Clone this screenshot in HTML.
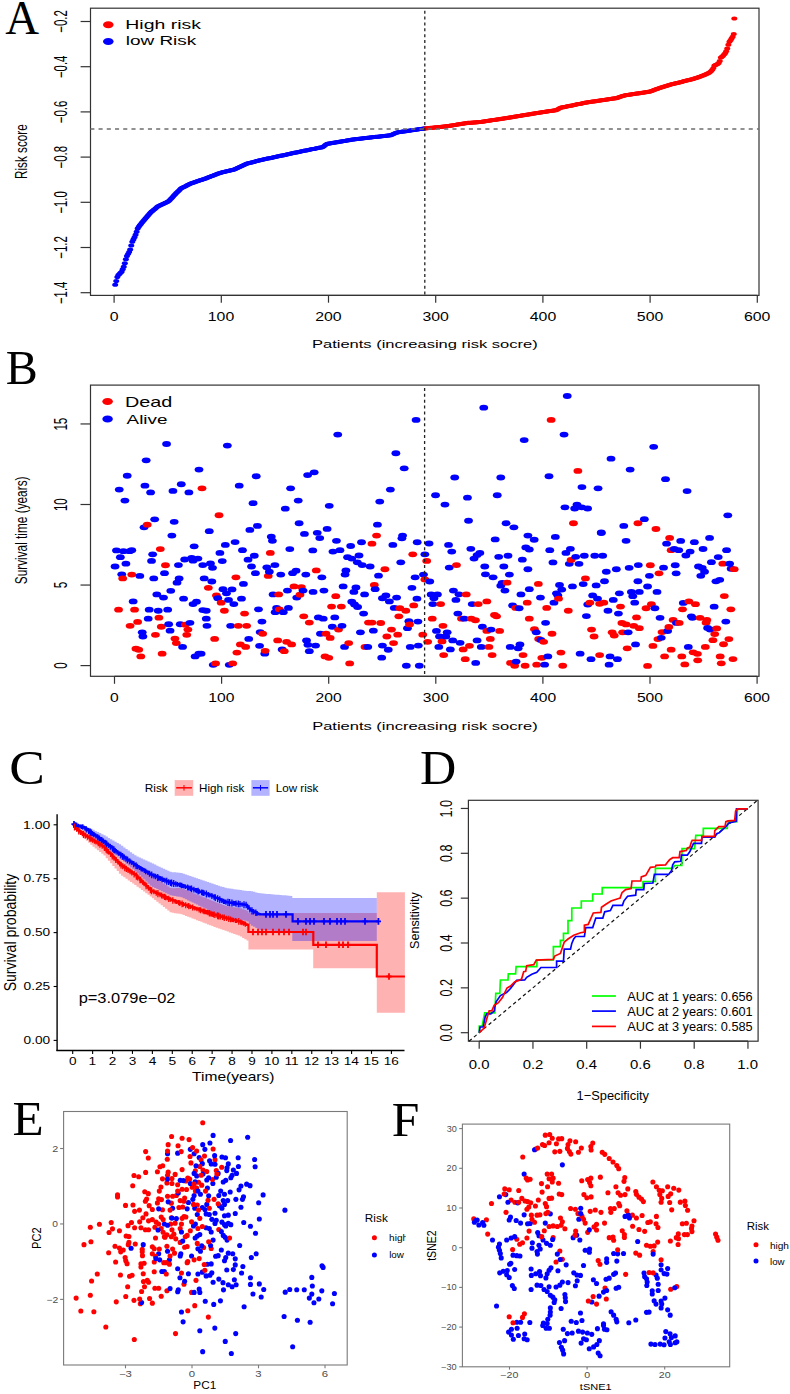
<!DOCTYPE html>
<html><head><meta charset="utf-8"><style>
html,body{margin:0;padding:0;background:#fff;}
svg{display:block;}
</style></head><body>
<svg width="790" height="1394" viewBox="0 0 790 1394">
<rect width="790" height="1394" fill="#fff"/>
<text transform="translate(5.23,34.4) scale(0.9715,1)" font-family="'Liberation Serif', serif" font-size="48.182" fill="#000">A</text>
<rect x="90.5" y="8.2" width="668.5" height="287.2" stroke="#333" stroke-width="1.2" fill="none"/>
<line x1="80.6" y1="21.5" x2="90.5" y2="21.5" stroke="#333" stroke-width="1.2"/>
<text transform="translate(66.7,32.82) rotate(-90) scale(0.6579,1)" font-family="'Liberation Sans', sans-serif" font-size="17.429" fill="#000">−0.2</text>
<line x1="80.6" y1="66.7" x2="90.5" y2="66.7" stroke="#333" stroke-width="1.2"/>
<text transform="translate(66.7,78.02) rotate(-90) scale(0.6510,1)" font-family="'Liberation Sans', sans-serif" font-size="17.429" fill="#000">−0.4</text>
<line x1="80.6" y1="111.9" x2="90.5" y2="111.9" stroke="#333" stroke-width="1.2"/>
<text transform="translate(66.7,123.22) rotate(-90) scale(0.6544,1)" font-family="'Liberation Sans', sans-serif" font-size="17.429" fill="#000">−0.6</text>
<line x1="80.6" y1="157.1" x2="90.5" y2="157.1" stroke="#333" stroke-width="1.2"/>
<text transform="translate(66.7,168.42) rotate(-90) scale(0.6544,1)" font-family="'Liberation Sans', sans-serif" font-size="17.429" fill="#000">−0.8</text>
<line x1="80.6" y1="202.3" x2="90.5" y2="202.3" stroke="#333" stroke-width="1.2"/>
<text transform="translate(66.7,213.62) rotate(-90) scale(0.6527,1)" font-family="'Liberation Sans', sans-serif" font-size="17.429" fill="#000">−1.0</text>
<line x1="80.6" y1="247.5" x2="90.5" y2="247.5" stroke="#333" stroke-width="1.2"/>
<text transform="translate(66.7,258.82) rotate(-90) scale(0.6579,1)" font-family="'Liberation Sans', sans-serif" font-size="17.429" fill="#000">−1.2</text>
<line x1="80.6" y1="292.7" x2="90.5" y2="292.7" stroke="#333" stroke-width="1.2"/>
<text transform="translate(66.7,304.02) rotate(-90) scale(0.6417,1)" font-family="'Liberation Sans', sans-serif" font-size="17.681" fill="#000">−1.4</text>
<line x1="114.1" y1="295.4" x2="757.3" y2="295.4" stroke="#333" stroke-width="1.2"/>
<line x1="114.1" y1="295.4" x2="114.1" y2="302.7" stroke="#333" stroke-width="1.2"/>
<text transform="translate(109.66,320.8) scale(1.2900,1)" font-family="'Liberation Sans', sans-serif" font-size="12.286" fill="#000">0</text>
<line x1="221.3" y1="295.4" x2="221.3" y2="302.7" stroke="#333" stroke-width="1.2"/>
<text transform="translate(207.79,320.8) scale(1.2900,1)" font-family="'Liberation Sans', sans-serif" font-size="12.286" fill="#000">100</text>
<line x1="328.5" y1="295.4" x2="328.5" y2="302.7" stroke="#333" stroke-width="1.2"/>
<text transform="translate(315.19,320.8) scale(1.2900,1)" font-family="'Liberation Sans', sans-serif" font-size="12.286" fill="#000">200</text>
<line x1="435.7" y1="295.4" x2="435.7" y2="302.7" stroke="#333" stroke-width="1.2"/>
<text transform="translate(422.47,320.8) scale(1.2900,1)" font-family="'Liberation Sans', sans-serif" font-size="12.286" fill="#000">300</text>
<line x1="542.9" y1="295.4" x2="542.9" y2="302.7" stroke="#333" stroke-width="1.2"/>
<text transform="translate(529.82,320.8) scale(1.2900,1)" font-family="'Liberation Sans', sans-serif" font-size="12.286" fill="#000">400</text>
<line x1="650.1" y1="295.4" x2="650.1" y2="302.7" stroke="#333" stroke-width="1.2"/>
<text transform="translate(636.87,320.8) scale(1.2900,1)" font-family="'Liberation Sans', sans-serif" font-size="12.286" fill="#000">500</text>
<line x1="757.3" y1="295.4" x2="757.3" y2="302.7" stroke="#333" stroke-width="1.2"/>
<text transform="translate(743.99,320.8) scale(1.2900,1)" font-family="'Liberation Sans', sans-serif" font-size="12.286" fill="#000">600</text>
<text transform="translate(311.98,348.1) scale(1.4090,1)" font-family="'Liberation Sans', sans-serif" font-size="11.724" fill="#000">Patients (increasing risk socre)</text>
<text transform="translate(27.3,178.94) rotate(-90) scale(0.6907,1)" font-family="'Liberation Sans', sans-serif" font-size="16.966" fill="#000">Risk score</text>
<ellipse cx="108.3" cy="24.7" rx="5.3" ry="3.5" fill="#FF0000"/>
<ellipse cx="108.3" cy="41.5" rx="5.3" ry="3.5" fill="#0000FF"/>
<text transform="translate(125.34,29.1) scale(1.5000,1)" font-family="'Liberation Sans', sans-serif" font-size="12.966" fill="#000">High risk</text>
<text transform="translate(125.67,45.4) scale(1.4193,1)" font-family="'Liberation Sans', sans-serif" font-size="13.379" fill="#000">low Risk</text>
<text transform="translate(5.66,383.5) scale(0.9787,1)" font-family="'Liberation Serif', serif" font-size="49.008" fill="#000">B</text>
<rect x="90.5" y="385.1" width="668.5" height="291.2" stroke="#333" stroke-width="1.2" fill="none"/>
<line x1="80.5" y1="665.6" x2="90.5" y2="665.6" stroke="#333" stroke-width="1.2"/>
<text transform="translate(67.3,668.8) rotate(-90) scale(0.6300,1)" font-family="'Liberation Sans', sans-serif" font-size="18.143" fill="#000">0</text>
<line x1="80.5" y1="585.05" x2="90.5" y2="585.05" stroke="#333" stroke-width="1.2"/>
<text transform="translate(67.3,588.27) rotate(-90) scale(0.6300,1)" font-family="'Liberation Sans', sans-serif" font-size="18.406" fill="#000">5</text>
<line x1="80.5" y1="504.5" x2="90.5" y2="504.5" stroke="#333" stroke-width="1.2"/>
<text transform="translate(67.3,511.07) rotate(-90) scale(0.6300,1)" font-family="'Liberation Sans', sans-serif" font-size="18.143" fill="#000">10</text>
<line x1="80.5" y1="423.95" x2="90.5" y2="423.95" stroke="#333" stroke-width="1.2"/>
<text transform="translate(67.3,430.59) rotate(-90) scale(0.6300,1)" font-family="'Liberation Sans', sans-serif" font-size="18.406" fill="#000">15</text>
<line x1="114.5" y1="676.3" x2="757.1" y2="676.3" stroke="#333" stroke-width="1.2"/>
<line x1="114.5" y1="676.3" x2="114.5" y2="683.8" stroke="#333" stroke-width="1.2"/>
<text transform="translate(110.11,702.4) scale(1.2900,1)" font-family="'Liberation Sans', sans-serif" font-size="12.143" fill="#000">0</text>
<line x1="221.6" y1="676.3" x2="221.6" y2="683.8" stroke="#333" stroke-width="1.2"/>
<text transform="translate(208.25,702.4) scale(1.2900,1)" font-family="'Liberation Sans', sans-serif" font-size="12.143" fill="#000">100</text>
<line x1="328.7" y1="676.3" x2="328.7" y2="683.8" stroke="#333" stroke-width="1.2"/>
<text transform="translate(315.54,702.4) scale(1.2900,1)" font-family="'Liberation Sans', sans-serif" font-size="12.143" fill="#000">200</text>
<line x1="435.8" y1="676.3" x2="435.8" y2="683.8" stroke="#333" stroke-width="1.2"/>
<text transform="translate(422.72,702.4) scale(1.2900,1)" font-family="'Liberation Sans', sans-serif" font-size="12.143" fill="#000">300</text>
<line x1="542.9" y1="676.3" x2="542.9" y2="683.8" stroke="#333" stroke-width="1.2"/>
<text transform="translate(529.98,702.4) scale(1.2900,1)" font-family="'Liberation Sans', sans-serif" font-size="12.143" fill="#000">400</text>
<line x1="650" y1="676.3" x2="650" y2="683.8" stroke="#333" stroke-width="1.2"/>
<text transform="translate(636.92,702.4) scale(1.2900,1)" font-family="'Liberation Sans', sans-serif" font-size="12.143" fill="#000">500</text>
<line x1="757.1" y1="676.3" x2="757.1" y2="683.8" stroke="#333" stroke-width="1.2"/>
<text transform="translate(743.94,702.4) scale(1.2900,1)" font-family="'Liberation Sans', sans-serif" font-size="12.143" fill="#000">600</text>
<text transform="translate(312.18,730) scale(1.4245,1)" font-family="'Liberation Sans', sans-serif" font-size="11.586" fill="#000">Patients (increasing risk socre)</text>
<text transform="translate(27.04,584.23) rotate(-90) scale(0.7181,1)" font-family="'Liberation Sans', sans-serif" font-size="16.471" fill="#000">Survival time (years)</text>
<ellipse cx="107.6" cy="401.5" rx="5.3" ry="3.5" fill="#FF0000"/>
<ellipse cx="107.6" cy="419" rx="5.3" ry="3.5" fill="#0000FF"/>
<text transform="translate(125.01,407.1) scale(1.4229,1)" font-family="'Liberation Sans', sans-serif" font-size="13.931" fill="#000">Dead</text>
<text transform="translate(126.6,423.5) scale(1.4249,1)" font-family="'Liberation Sans', sans-serif" font-size="13.241" fill="#000">Alive</text>
<text transform="translate(9.27,783.5) scale(1.0966,1)" font-family="'Liberation Serif', serif" font-size="48.636" fill="#000">C</text>
<text transform="translate(144.65,791.5) scale(1.1355,1)" font-family="'Liberation Sans', sans-serif" font-size="10.483" fill="#000">Risk</text>
<rect x="174.7" y="780.1" width="18.5" height="15.7" stroke="none" stroke-width="0" fill="#FFB3B3"/>
<line x1="176.2" y1="787.8" x2="191.9" y2="787.8" stroke="#FF0000" stroke-width="1.5"/>
<line x1="184" y1="785" x2="184" y2="790.6" stroke="#FF0000" stroke-width="1"/>
<text transform="translate(199.07,791.5) scale(1.1092,1)" font-family="'Liberation Sans', sans-serif" font-size="10.483" fill="#000">High risk</text>
<rect x="251.4" y="780.1" width="18.2" height="15.7" stroke="none" stroke-width="0" fill="#B3B3FF"/>
<line x1="252.9" y1="787.8" x2="268.1" y2="787.8" stroke="#0000FF" stroke-width="1.5"/>
<line x1="260.5" y1="785" x2="260.5" y2="790.6" stroke="#0000FF" stroke-width="1"/>
<text transform="translate(275.77,791.5) scale(1.1107,1)" font-family="'Liberation Sans', sans-serif" font-size="10.483" fill="#000">Low risk</text>
<line x1="57.1" y1="814.2" x2="57.1" y2="1051.1" stroke="#000" stroke-width="1.4"/>
<line x1="56.4" y1="1050.5" x2="404.5" y2="1050.5" stroke="#000" stroke-width="1.4"/>
<line x1="53.6" y1="824.8" x2="57" y2="824.8" stroke="#000" stroke-width="1.1"/>
<text transform="translate(23.05,828.59) scale(1.2699,1)" font-family="'Liberation Sans', sans-serif" font-size="10.986" fill="#000">1.00</text>
<line x1="53.6" y1="878.7" x2="57" y2="878.7" stroke="#000" stroke-width="1.1"/>
<text transform="translate(23.55,882.49) scale(1.2495,1)" font-family="'Liberation Sans', sans-serif" font-size="10.986" fill="#000">0.75</text>
<line x1="53.6" y1="932.6" x2="57" y2="932.6" stroke="#000" stroke-width="1.1"/>
<text transform="translate(23.55,936.39) scale(1.2461,1)" font-family="'Liberation Sans', sans-serif" font-size="10.986" fill="#000">0.50</text>
<line x1="53.6" y1="986.5" x2="57" y2="986.5" stroke="#000" stroke-width="1.1"/>
<text transform="translate(23.55,990.29) scale(1.2495,1)" font-family="'Liberation Sans', sans-serif" font-size="10.986" fill="#000">0.25</text>
<line x1="53.6" y1="1040.4" x2="57" y2="1040.4" stroke="#000" stroke-width="1.1"/>
<text transform="translate(23.55,1044.19) scale(1.2461,1)" font-family="'Liberation Sans', sans-serif" font-size="10.986" fill="#000">0.00</text>
<line x1="72.7" y1="1050.4" x2="72.7" y2="1053.9" stroke="#000" stroke-width="1.1"/>
<text transform="translate(68.9,1065.1) scale(1.2500,1)" font-family="'Liberation Sans', sans-serif" font-size="10.857" fill="#000">0</text>
<line x1="92.62" y1="1050.4" x2="92.62" y2="1053.9" stroke="#000" stroke-width="1.1"/>
<text transform="translate(88.59,1065.1) scale(1.2500,1)" font-family="'Liberation Sans', sans-serif" font-size="11.014" fill="#000">1</text>
<line x1="112.54" y1="1050.4" x2="112.54" y2="1053.9" stroke="#000" stroke-width="1.1"/>
<text transform="translate(108.77,1065.1) scale(1.2500,1)" font-family="'Liberation Sans', sans-serif" font-size="10.857" fill="#000">2</text>
<line x1="132.46" y1="1050.4" x2="132.46" y2="1053.9" stroke="#000" stroke-width="1.1"/>
<text transform="translate(128.69,1065.1) scale(1.2500,1)" font-family="'Liberation Sans', sans-serif" font-size="10.857" fill="#000">3</text>
<line x1="152.38" y1="1050.4" x2="152.38" y2="1053.9" stroke="#000" stroke-width="1.1"/>
<text transform="translate(148.63,1065.1) scale(1.2500,1)" font-family="'Liberation Sans', sans-serif" font-size="11.014" fill="#000">4</text>
<line x1="172.3" y1="1050.4" x2="172.3" y2="1053.9" stroke="#000" stroke-width="1.1"/>
<text transform="translate(168.48,1065.1) scale(1.2500,1)" font-family="'Liberation Sans', sans-serif" font-size="11.014" fill="#000">5</text>
<line x1="192.22" y1="1050.4" x2="192.22" y2="1053.9" stroke="#000" stroke-width="1.1"/>
<text transform="translate(188.39,1065.1) scale(1.2500,1)" font-family="'Liberation Sans', sans-serif" font-size="10.857" fill="#000">6</text>
<line x1="212.14" y1="1050.4" x2="212.14" y2="1053.9" stroke="#000" stroke-width="1.1"/>
<text transform="translate(208.32,1065.1) scale(1.2500,1)" font-family="'Liberation Sans', sans-serif" font-size="11.014" fill="#000">7</text>
<line x1="232.06" y1="1050.4" x2="232.06" y2="1053.9" stroke="#000" stroke-width="1.1"/>
<text transform="translate(228.26,1065.1) scale(1.2500,1)" font-family="'Liberation Sans', sans-serif" font-size="10.857" fill="#000">8</text>
<line x1="251.98" y1="1050.4" x2="251.98" y2="1053.9" stroke="#000" stroke-width="1.1"/>
<text transform="translate(248.21,1065.1) scale(1.2500,1)" font-family="'Liberation Sans', sans-serif" font-size="10.857" fill="#000">9</text>
<line x1="271.9" y1="1050.4" x2="271.9" y2="1053.9" stroke="#000" stroke-width="1.1"/>
<text transform="translate(264.1,1065.1) scale(1.2500,1)" font-family="'Liberation Sans', sans-serif" font-size="10.857" fill="#000">10</text>
<line x1="291.82" y1="1050.4" x2="291.82" y2="1053.9" stroke="#000" stroke-width="1.1"/>
<text transform="translate(284.49,1065.1) scale(1.2500,1)" font-family="'Liberation Sans', sans-serif" font-size="11.014" fill="#000">11</text>
<line x1="311.74" y1="1050.4" x2="311.74" y2="1053.9" stroke="#000" stroke-width="1.1"/>
<text transform="translate(304.04,1065.1) scale(1.2500,1)" font-family="'Liberation Sans', sans-serif" font-size="10.857" fill="#000">12</text>
<line x1="331.66" y1="1050.4" x2="331.66" y2="1053.9" stroke="#000" stroke-width="1.1"/>
<text transform="translate(323.89,1065.1) scale(1.2500,1)" font-family="'Liberation Sans', sans-serif" font-size="10.857" fill="#000">13</text>
<line x1="351.58" y1="1050.4" x2="351.58" y2="1053.9" stroke="#000" stroke-width="1.1"/>
<text transform="translate(343.63,1065.1) scale(1.2500,1)" font-family="'Liberation Sans', sans-serif" font-size="11.014" fill="#000">14</text>
<line x1="371.5" y1="1050.4" x2="371.5" y2="1053.9" stroke="#000" stroke-width="1.1"/>
<text transform="translate(363.62,1065.1) scale(1.2500,1)" font-family="'Liberation Sans', sans-serif" font-size="11.014" fill="#000">15</text>
<line x1="391.42" y1="1050.4" x2="391.42" y2="1053.9" stroke="#000" stroke-width="1.1"/>
<text transform="translate(383.65,1065.1) scale(1.2500,1)" font-family="'Liberation Sans', sans-serif" font-size="10.857" fill="#000">16</text>
<text transform="translate(192.09,1081) scale(1.1638,1)" font-family="'Liberation Sans', sans-serif" font-size="13.379" fill="#000">Time(years)</text>
<text transform="translate(16.21,991.33) rotate(-90) scale(0.8684,1)" font-family="'Liberation Sans', sans-serif" font-size="16.150" fill="#000">Survival probability</text>
<text transform="translate(78.63,1002.5) scale(1.1391,1)" font-family="'Liberation Sans', sans-serif" font-size="14.429" fill="#000">p=3.079e−02</text>
<text transform="translate(419.99,783.5) scale(1.0511,1)" font-family="'Liberation Serif', serif" font-size="47.786" fill="#000">D</text>
<rect x="468.4" y="800.3" width="289.7" height="240.9" stroke="#333" stroke-width="1.2" fill="none"/>
<line x1="460.8" y1="1032.7" x2="468.4" y2="1032.7" stroke="#333" stroke-width="1.2"/>
<text transform="translate(451.9,1041.4) rotate(-90) scale(0.7658,1)" font-family="'Liberation Sans', sans-serif" font-size="16.286" fill="#000">0.0</text>
<line x1="460.8" y1="987.85" x2="468.4" y2="987.85" stroke="#333" stroke-width="1.2"/>
<text transform="translate(451.9,996.55) rotate(-90) scale(0.7746,1)" font-family="'Liberation Sans', sans-serif" font-size="16.286" fill="#000">0.2</text>
<line x1="460.8" y1="943" x2="468.4" y2="943" stroke="#333" stroke-width="1.2"/>
<text transform="translate(451.9,951.7) rotate(-90) scale(0.7629,1)" font-family="'Liberation Sans', sans-serif" font-size="16.286" fill="#000">0.4</text>
<line x1="460.8" y1="898.15" x2="468.4" y2="898.15" stroke="#333" stroke-width="1.2"/>
<text transform="translate(451.9,906.85) rotate(-90) scale(0.7687,1)" font-family="'Liberation Sans', sans-serif" font-size="16.286" fill="#000">0.6</text>
<line x1="460.8" y1="853.3" x2="468.4" y2="853.3" stroke="#333" stroke-width="1.2"/>
<text transform="translate(451.9,862) rotate(-90) scale(0.7687,1)" font-family="'Liberation Sans', sans-serif" font-size="16.286" fill="#000">0.8</text>
<line x1="460.8" y1="808.45" x2="468.4" y2="808.45" stroke="#333" stroke-width="1.2"/>
<text transform="translate(451.9,817.61) rotate(-90) scale(0.7867,1)" font-family="'Liberation Sans', sans-serif" font-size="16.286" fill="#000">1.0</text>
<line x1="479.2" y1="1041.2" x2="748" y2="1041.2" stroke="#333" stroke-width="1.2"/>
<line x1="479.2" y1="1041.2" x2="479.2" y2="1048.7" stroke="#333" stroke-width="1.2"/>
<text transform="translate(468.8,1069) scale(1.2000,1)" font-family="'Liberation Sans', sans-serif" font-size="12.429" fill="#000">0.0</text>
<line x1="532.95" y1="1041.2" x2="532.95" y2="1048.7" stroke="#333" stroke-width="1.2"/>
<text transform="translate(522.66,1069) scale(1.2000,1)" font-family="'Liberation Sans', sans-serif" font-size="12.429" fill="#000">0.2</text>
<line x1="586.7" y1="1041.2" x2="586.7" y2="1048.7" stroke="#333" stroke-width="1.2"/>
<text transform="translate(576.26,1069) scale(1.2000,1)" font-family="'Liberation Sans', sans-serif" font-size="12.429" fill="#000">0.4</text>
<line x1="640.45" y1="1041.2" x2="640.45" y2="1048.7" stroke="#333" stroke-width="1.2"/>
<text transform="translate(630.08,1069) scale(1.2000,1)" font-family="'Liberation Sans', sans-serif" font-size="12.429" fill="#000">0.6</text>
<line x1="694.2" y1="1041.2" x2="694.2" y2="1048.7" stroke="#333" stroke-width="1.2"/>
<text transform="translate(683.83,1069) scale(1.2000,1)" font-family="'Liberation Sans', sans-serif" font-size="12.429" fill="#000">0.8</text>
<line x1="747.95" y1="1041.2" x2="747.95" y2="1048.7" stroke="#333" stroke-width="1.2"/>
<text transform="translate(737.29,1069) scale(1.2000,1)" font-family="'Liberation Sans', sans-serif" font-size="12.429" fill="#000">1.0</text>
<text transform="translate(576.54,1099.7) scale(1.0016,1)" font-family="'Liberation Sans', sans-serif" font-size="12.828" fill="#000">1−Specificity</text>
<text transform="translate(418.83,948.97) rotate(-90) scale(0.9912,1)" font-family="'Liberation Sans', sans-serif" font-size="12.727" fill="#000">Sensitivity</text>
<text transform="translate(12.47,1135.4) scale(1.0433,1)" font-family="'Liberation Serif', serif" font-size="49.008" fill="#000">E</text>
<rect x="63.6" y="1111.5" width="283.6" height="253.5" stroke="#7a7a7a" stroke-width="1.1" fill="none"/>
<line x1="60.1" y1="1148.51" x2="63.6" y2="1148.51" stroke="#7a7a7a" stroke-width="1.1"/>
<text transform="translate(52.16,1151.81) scale(1.1966,1)" font-family="'Liberation Sans', sans-serif" font-size="9.000" fill="#4d4d4d">2</text>
<line x1="60.1" y1="1223.95" x2="63.6" y2="1223.95" stroke="#7a7a7a" stroke-width="1.1"/>
<text transform="translate(52.29,1227.16) scale(1.1505,1)" font-family="'Liberation Sans', sans-serif" font-size="8.873" fill="#4d4d4d">0</text>
<line x1="60.1" y1="1299.39" x2="63.6" y2="1299.39" stroke="#7a7a7a" stroke-width="1.1"/>
<text transform="translate(46.39,1302.69) scale(1.1432,1)" font-family="'Liberation Sans', sans-serif" font-size="9.000" fill="#4d4d4d">−2</text>
<line x1="125.49" y1="1365" x2="125.49" y2="1368.3" stroke="#7a7a7a" stroke-width="1.1"/>
<text transform="translate(118.96,1376.71) scale(1.3000,1)" font-family="'Liberation Sans', sans-serif" font-size="8.732" fill="#4d4d4d">−3</text>
<line x1="192" y1="1365" x2="192" y2="1368.3" stroke="#7a7a7a" stroke-width="1.1"/>
<text transform="translate(188.82,1376.71) scale(1.3000,1)" font-family="'Liberation Sans', sans-serif" font-size="8.732" fill="#4d4d4d">0</text>
<line x1="258.51" y1="1365" x2="258.51" y2="1368.3" stroke="#7a7a7a" stroke-width="1.1"/>
<text transform="translate(255.36,1376.71) scale(1.3000,1)" font-family="'Liberation Sans', sans-serif" font-size="8.732" fill="#4d4d4d">3</text>
<line x1="325.02" y1="1365" x2="325.02" y2="1368.3" stroke="#7a7a7a" stroke-width="1.1"/>
<text transform="translate(321.81,1376.71) scale(1.3000,1)" font-family="'Liberation Sans', sans-serif" font-size="8.732" fill="#4d4d4d">6</text>
<text transform="translate(193.35,1389.4) scale(1.0881,1)" font-family="'Liberation Sans', sans-serif" font-size="10.857" fill="#000">PC1</text>
<text transform="translate(41.4,1248.89) rotate(-90) scale(0.8426,1)" font-family="'Liberation Sans', sans-serif" font-size="13.143" fill="#000">PC2</text>
<text transform="translate(364.86,1222.1) scale(1.1557,1)" font-family="'Liberation Sans', sans-serif" font-size="10.207" fill="#000">Risk</text>
<clipPath id="clipE"><rect x="0" y="1100" width="405.7" height="300"/></clipPath>
<g clip-path="url(#clipE)"><text transform="translate(389.09,1240.7) scale(1.0753,1)" font-family="'Liberation Sans', sans-serif" font-size="9.379" fill="#000">high</text></g>
<text transform="translate(389.16,1257.9) scale(1.1348,1)" font-family="'Liberation Sans', sans-serif" font-size="8.690" fill="#000">low</text>
<circle cx="374.4" cy="1237.7" r="2.5" fill="#FF0000"/>
<circle cx="374.4" cy="1254.9" r="2.5" fill="#0000FF"/>
<text transform="translate(391.71,1135.5) scale(1.0279,1)" font-family="'Liberation Serif', serif" font-size="48.244" fill="#000">F</text>
<rect x="462.4" y="1124.1" width="267.3" height="242.7" stroke="#7a7a7a" stroke-width="1.1" fill="none"/>
<line x1="459.2" y1="1128.6" x2="462.4" y2="1128.6" stroke="#7a7a7a" stroke-width="1.1"/>
<text transform="translate(446.64,1131.52) scale(1.1118,1)" font-family="'Liberation Sans', sans-serif" font-size="8.169" fill="#4d4d4d">30</text>
<line x1="459.2" y1="1168.3" x2="462.4" y2="1168.3" stroke="#7a7a7a" stroke-width="1.1"/>
<text transform="translate(446.54,1171.22) scale(1.1226,1)" font-family="'Liberation Sans', sans-serif" font-size="8.169" fill="#4d4d4d">20</text>
<line x1="459.2" y1="1208" x2="462.4" y2="1208" stroke="#7a7a7a" stroke-width="1.1"/>
<text transform="translate(446.3,1210.92) scale(1.1507,1)" font-family="'Liberation Sans', sans-serif" font-size="8.169" fill="#4d4d4d">10</text>
<line x1="459.2" y1="1247.7" x2="462.4" y2="1247.7" stroke="#7a7a7a" stroke-width="1.1"/>
<text transform="translate(451.63,1250.62) scale(1.1221,1)" font-family="'Liberation Sans', sans-serif" font-size="8.169" fill="#4d4d4d">0</text>
<line x1="459.2" y1="1287.4" x2="462.4" y2="1287.4" stroke="#7a7a7a" stroke-width="1.1"/>
<text transform="translate(441.14,1290.32) scale(1.1253,1)" font-family="'Liberation Sans', sans-serif" font-size="8.169" fill="#4d4d4d">−10</text>
<line x1="459.2" y1="1327.1" x2="462.4" y2="1327.1" stroke="#7a7a7a" stroke-width="1.1"/>
<text transform="translate(441.14,1330.02) scale(1.1253,1)" font-family="'Liberation Sans', sans-serif" font-size="8.169" fill="#4d4d4d">−20</text>
<line x1="459.2" y1="1366.8" x2="462.4" y2="1366.8" stroke="#7a7a7a" stroke-width="1.1"/>
<text transform="translate(441.14,1369.72) scale(1.1253,1)" font-family="'Liberation Sans', sans-serif" font-size="8.169" fill="#4d4d4d">−30</text>
<line x1="509.5" y1="1366.8" x2="509.5" y2="1369.6" stroke="#7a7a7a" stroke-width="1.1"/>
<text transform="translate(500.42,1377.92) scale(1.3000,1)" font-family="'Liberation Sans', sans-serif" font-size="8.169" fill="#4d4d4d">−20</text>
<line x1="587.1" y1="1366.8" x2="587.1" y2="1369.6" stroke="#7a7a7a" stroke-width="1.1"/>
<text transform="translate(584.13,1377.92) scale(1.3000,1)" font-family="'Liberation Sans', sans-serif" font-size="8.169" fill="#4d4d4d">0</text>
<line x1="664.7" y1="1366.8" x2="664.7" y2="1369.6" stroke="#7a7a7a" stroke-width="1.1"/>
<text transform="translate(658.73,1377.92) scale(1.3000,1)" font-family="'Liberation Sans', sans-serif" font-size="8.169" fill="#4d4d4d">20</text>
<text transform="translate(579.84,1389.9) scale(1.1149,1)" font-family="'Liberation Sans', sans-serif" font-size="9.857" fill="#000">tSNE1</text>
<text transform="translate(436.2,1260.86) rotate(-90) scale(0.8615,1)" font-family="'Liberation Sans', sans-serif" font-size="12.286" fill="#000">tSNE2</text>
<text transform="translate(746.69,1230.2) scale(1.1040,1)" font-family="'Liberation Sans', sans-serif" font-size="10.345" fill="#000">Risk</text>
<text transform="translate(769.89,1248.5) scale(1.0913,1)" font-family="'Liberation Sans', sans-serif" font-size="9.241" fill="#000">high</text>
<text transform="translate(769.97,1264.6) scale(1.0680,1)" font-family="'Liberation Sans', sans-serif" font-size="9.103" fill="#000">low</text>
<circle cx="756" cy="1244.8" r="2.5" fill="#FF0000"/>
<circle cx="756" cy="1261" r="2.5" fill="#0000FF"/>
<ellipse cx="115.17" cy="284.63" rx="3.0" ry="2.0" fill="#0000FF"/>
<ellipse cx="116.24" cy="280.88" rx="3.0" ry="2.0" fill="#0000FF"/>
<ellipse cx="117.32" cy="277.07" rx="3.0" ry="2.0" fill="#0000FF"/>
<ellipse cx="118.39" cy="275.01" rx="3.0" ry="2.0" fill="#0000FF"/>
<ellipse cx="119.46" cy="273.94" rx="3.0" ry="2.0" fill="#0000FF"/>
<ellipse cx="120.53" cy="272.87" rx="3.0" ry="2.0" fill="#0000FF"/>
<ellipse cx="121.6" cy="271.67" rx="3.0" ry="2.0" fill="#0000FF"/>
<ellipse cx="122.68" cy="269.27" rx="3.0" ry="2.0" fill="#0000FF"/>
<ellipse cx="123.75" cy="266.86" rx="3.0" ry="2.0" fill="#0000FF"/>
<ellipse cx="124.82" cy="263.27" rx="3.0" ry="2.0" fill="#0000FF"/>
<ellipse cx="125.89" cy="259.31" rx="3.0" ry="2.0" fill="#0000FF"/>
<ellipse cx="126.96" cy="256.01" rx="3.0" ry="2.0" fill="#0000FF"/>
<ellipse cx="128.04" cy="253.96" rx="3.0" ry="2.0" fill="#0000FF"/>
<ellipse cx="129.11" cy="251.91" rx="3.0" ry="2.0" fill="#0000FF"/>
<ellipse cx="130.18" cy="249.4" rx="3.0" ry="2.0" fill="#0000FF"/>
<ellipse cx="131.25" cy="245.59" rx="3.0" ry="2.0" fill="#0000FF"/>
<ellipse cx="132.32" cy="241.77" rx="3.0" ry="2.0" fill="#0000FF"/>
<ellipse cx="133.4" cy="239.41" rx="3.0" ry="2.0" fill="#0000FF"/>
<ellipse cx="134.47" cy="237.16" rx="3.0" ry="2.0" fill="#0000FF"/>
<ellipse cx="135.54" cy="234.79" rx="3.0" ry="2.0" fill="#0000FF"/>
<ellipse cx="136.61" cy="231.66" rx="3.0" ry="2.0" fill="#0000FF"/>
<ellipse cx="137.68" cy="228.52" rx="3.0" ry="2.0" fill="#0000FF"/>
<ellipse cx="138.76" cy="226.65" rx="3.0" ry="2.0" fill="#0000FF"/>
<ellipse cx="139.83" cy="225.3" rx="3.0" ry="2.0" fill="#0000FF"/>
<ellipse cx="140.9" cy="223.95" rx="3.0" ry="2.0" fill="#0000FF"/>
<ellipse cx="141.97" cy="222.6" rx="3.0" ry="2.0" fill="#0000FF"/>
<ellipse cx="143.04" cy="221.25" rx="3.0" ry="2.0" fill="#0000FF"/>
<ellipse cx="144.12" cy="219.99" rx="3.0" ry="2.0" fill="#0000FF"/>
<ellipse cx="145.19" cy="218.74" rx="3.0" ry="2.0" fill="#0000FF"/>
<ellipse cx="146.26" cy="217.48" rx="3.0" ry="2.0" fill="#0000FF"/>
<ellipse cx="147.33" cy="216.23" rx="3.0" ry="2.0" fill="#0000FF"/>
<ellipse cx="148.4" cy="214.97" rx="3.0" ry="2.0" fill="#0000FF"/>
<ellipse cx="149.48" cy="213.72" rx="3.0" ry="2.0" fill="#0000FF"/>
<ellipse cx="150.55" cy="212.46" rx="3.0" ry="2.0" fill="#0000FF"/>
<ellipse cx="151.62" cy="211.55" rx="3.0" ry="2.0" fill="#0000FF"/>
<ellipse cx="152.69" cy="210.67" rx="3.0" ry="2.0" fill="#0000FF"/>
<ellipse cx="153.76" cy="209.78" rx="3.0" ry="2.0" fill="#0000FF"/>
<ellipse cx="154.84" cy="208.89" rx="3.0" ry="2.0" fill="#0000FF"/>
<ellipse cx="155.91" cy="208" rx="3.0" ry="2.0" fill="#0000FF"/>
<ellipse cx="156.98" cy="207.11" rx="3.0" ry="2.0" fill="#0000FF"/>
<ellipse cx="158.05" cy="206.22" rx="3.0" ry="2.0" fill="#0000FF"/>
<ellipse cx="159.12" cy="205.68" rx="3.0" ry="2.0" fill="#0000FF"/>
<ellipse cx="160.2" cy="205.2" rx="3.0" ry="2.0" fill="#0000FF"/>
<ellipse cx="161.27" cy="204.72" rx="3.0" ry="2.0" fill="#0000FF"/>
<ellipse cx="162.34" cy="204.23" rx="3.0" ry="2.0" fill="#0000FF"/>
<ellipse cx="163.41" cy="203.75" rx="3.0" ry="2.0" fill="#0000FF"/>
<ellipse cx="164.48" cy="203.27" rx="3.0" ry="2.0" fill="#0000FF"/>
<ellipse cx="165.56" cy="202.78" rx="3.0" ry="2.0" fill="#0000FF"/>
<ellipse cx="166.63" cy="202.3" rx="3.0" ry="2.0" fill="#0000FF"/>
<ellipse cx="167.7" cy="201.82" rx="3.0" ry="2.0" fill="#0000FF"/>
<ellipse cx="168.77" cy="201.1" rx="3.0" ry="2.0" fill="#0000FF"/>
<ellipse cx="169.84" cy="199.94" rx="3.0" ry="2.0" fill="#0000FF"/>
<ellipse cx="170.92" cy="198.78" rx="3.0" ry="2.0" fill="#0000FF"/>
<ellipse cx="171.99" cy="197.63" rx="3.0" ry="2.0" fill="#0000FF"/>
<ellipse cx="173.06" cy="196.47" rx="3.0" ry="2.0" fill="#0000FF"/>
<ellipse cx="174.13" cy="195.31" rx="3.0" ry="2.0" fill="#0000FF"/>
<ellipse cx="175.2" cy="194.2" rx="3.0" ry="2.0" fill="#0000FF"/>
<ellipse cx="176.28" cy="193.12" rx="3.0" ry="2.0" fill="#0000FF"/>
<ellipse cx="177.35" cy="192.05" rx="3.0" ry="2.0" fill="#0000FF"/>
<ellipse cx="178.42" cy="190.98" rx="3.0" ry="2.0" fill="#0000FF"/>
<ellipse cx="179.49" cy="189.91" rx="3.0" ry="2.0" fill="#0000FF"/>
<ellipse cx="180.56" cy="188.84" rx="3.0" ry="2.0" fill="#0000FF"/>
<ellipse cx="181.64" cy="188.08" rx="3.0" ry="2.0" fill="#0000FF"/>
<ellipse cx="182.71" cy="187.54" rx="3.0" ry="2.0" fill="#0000FF"/>
<ellipse cx="183.78" cy="187" rx="3.0" ry="2.0" fill="#0000FF"/>
<ellipse cx="184.85" cy="186.45" rx="3.0" ry="2.0" fill="#0000FF"/>
<ellipse cx="185.92" cy="185.91" rx="3.0" ry="2.0" fill="#0000FF"/>
<ellipse cx="187" cy="185.37" rx="3.0" ry="2.0" fill="#0000FF"/>
<ellipse cx="188.07" cy="184.83" rx="3.0" ry="2.0" fill="#0000FF"/>
<ellipse cx="189.14" cy="184.29" rx="3.0" ry="2.0" fill="#0000FF"/>
<ellipse cx="190.21" cy="183.75" rx="3.0" ry="2.0" fill="#0000FF"/>
<ellipse cx="191.28" cy="183.24" rx="3.0" ry="2.0" fill="#0000FF"/>
<ellipse cx="192.36" cy="182.88" rx="3.0" ry="2.0" fill="#0000FF"/>
<ellipse cx="193.43" cy="182.52" rx="3.0" ry="2.0" fill="#0000FF"/>
<ellipse cx="194.5" cy="182.16" rx="3.0" ry="2.0" fill="#0000FF"/>
<ellipse cx="195.57" cy="181.8" rx="3.0" ry="2.0" fill="#0000FF"/>
<ellipse cx="196.64" cy="181.44" rx="3.0" ry="2.0" fill="#0000FF"/>
<ellipse cx="197.72" cy="181.08" rx="3.0" ry="2.0" fill="#0000FF"/>
<ellipse cx="198.79" cy="180.72" rx="3.0" ry="2.0" fill="#0000FF"/>
<ellipse cx="199.86" cy="180.36" rx="3.0" ry="2.0" fill="#0000FF"/>
<ellipse cx="200.93" cy="180" rx="3.0" ry="2.0" fill="#0000FF"/>
<ellipse cx="202" cy="179.64" rx="3.0" ry="2.0" fill="#0000FF"/>
<ellipse cx="203.08" cy="179.28" rx="3.0" ry="2.0" fill="#0000FF"/>
<ellipse cx="204.15" cy="178.92" rx="3.0" ry="2.0" fill="#0000FF"/>
<ellipse cx="205.22" cy="178.56" rx="3.0" ry="2.0" fill="#0000FF"/>
<ellipse cx="206.29" cy="178.2" rx="3.0" ry="2.0" fill="#0000FF"/>
<ellipse cx="207.36" cy="177.78" rx="3.0" ry="2.0" fill="#0000FF"/>
<ellipse cx="208.44" cy="177.36" rx="3.0" ry="2.0" fill="#0000FF"/>
<ellipse cx="209.51" cy="176.94" rx="3.0" ry="2.0" fill="#0000FF"/>
<ellipse cx="210.58" cy="176.51" rx="3.0" ry="2.0" fill="#0000FF"/>
<ellipse cx="211.65" cy="176.09" rx="3.0" ry="2.0" fill="#0000FF"/>
<ellipse cx="212.72" cy="175.67" rx="3.0" ry="2.0" fill="#0000FF"/>
<ellipse cx="213.8" cy="175.25" rx="3.0" ry="2.0" fill="#0000FF"/>
<ellipse cx="214.87" cy="174.83" rx="3.0" ry="2.0" fill="#0000FF"/>
<ellipse cx="215.94" cy="174.4" rx="3.0" ry="2.0" fill="#0000FF"/>
<ellipse cx="217.01" cy="173.98" rx="3.0" ry="2.0" fill="#0000FF"/>
<ellipse cx="218.08" cy="173.56" rx="3.0" ry="2.0" fill="#0000FF"/>
<ellipse cx="219.16" cy="173.16" rx="3.0" ry="2.0" fill="#0000FF"/>
<ellipse cx="220.23" cy="172.89" rx="3.0" ry="2.0" fill="#0000FF"/>
<ellipse cx="221.3" cy="172.62" rx="3.0" ry="2.0" fill="#0000FF"/>
<ellipse cx="222.37" cy="172.36" rx="3.0" ry="2.0" fill="#0000FF"/>
<ellipse cx="223.44" cy="172.09" rx="3.0" ry="2.0" fill="#0000FF"/>
<ellipse cx="224.52" cy="171.82" rx="3.0" ry="2.0" fill="#0000FF"/>
<ellipse cx="225.59" cy="171.55" rx="3.0" ry="2.0" fill="#0000FF"/>
<ellipse cx="226.66" cy="171.28" rx="3.0" ry="2.0" fill="#0000FF"/>
<ellipse cx="227.73" cy="171.02" rx="3.0" ry="2.0" fill="#0000FF"/>
<ellipse cx="228.8" cy="170.75" rx="3.0" ry="2.0" fill="#0000FF"/>
<ellipse cx="229.88" cy="170.48" rx="3.0" ry="2.0" fill="#0000FF"/>
<ellipse cx="230.95" cy="170.21" rx="3.0" ry="2.0" fill="#0000FF"/>
<ellipse cx="232.02" cy="169.94" rx="3.0" ry="2.0" fill="#0000FF"/>
<ellipse cx="233.09" cy="169.68" rx="3.0" ry="2.0" fill="#0000FF"/>
<ellipse cx="234.16" cy="169.41" rx="3.0" ry="2.0" fill="#0000FF"/>
<ellipse cx="235.24" cy="168.91" rx="3.0" ry="2.0" fill="#0000FF"/>
<ellipse cx="236.31" cy="168.41" rx="3.0" ry="2.0" fill="#0000FF"/>
<ellipse cx="237.38" cy="167.91" rx="3.0" ry="2.0" fill="#0000FF"/>
<ellipse cx="238.45" cy="167.41" rx="3.0" ry="2.0" fill="#0000FF"/>
<ellipse cx="239.52" cy="166.91" rx="3.0" ry="2.0" fill="#0000FF"/>
<ellipse cx="240.6" cy="166.41" rx="3.0" ry="2.0" fill="#0000FF"/>
<ellipse cx="241.67" cy="165.9" rx="3.0" ry="2.0" fill="#0000FF"/>
<ellipse cx="242.74" cy="165.4" rx="3.0" ry="2.0" fill="#0000FF"/>
<ellipse cx="243.81" cy="164.9" rx="3.0" ry="2.0" fill="#0000FF"/>
<ellipse cx="244.88" cy="164.4" rx="3.0" ry="2.0" fill="#0000FF"/>
<ellipse cx="245.96" cy="163.9" rx="3.0" ry="2.0" fill="#0000FF"/>
<ellipse cx="247.03" cy="163.44" rx="3.0" ry="2.0" fill="#0000FF"/>
<ellipse cx="248.1" cy="163.19" rx="3.0" ry="2.0" fill="#0000FF"/>
<ellipse cx="249.17" cy="162.93" rx="3.0" ry="2.0" fill="#0000FF"/>
<ellipse cx="250.24" cy="162.67" rx="3.0" ry="2.0" fill="#0000FF"/>
<ellipse cx="251.32" cy="162.41" rx="3.0" ry="2.0" fill="#0000FF"/>
<ellipse cx="252.39" cy="162.15" rx="3.0" ry="2.0" fill="#0000FF"/>
<ellipse cx="253.46" cy="161.89" rx="3.0" ry="2.0" fill="#0000FF"/>
<ellipse cx="254.53" cy="161.63" rx="3.0" ry="2.0" fill="#0000FF"/>
<ellipse cx="255.6" cy="161.37" rx="3.0" ry="2.0" fill="#0000FF"/>
<ellipse cx="256.68" cy="161.11" rx="3.0" ry="2.0" fill="#0000FF"/>
<ellipse cx="257.75" cy="160.86" rx="3.0" ry="2.0" fill="#0000FF"/>
<ellipse cx="258.82" cy="160.6" rx="3.0" ry="2.0" fill="#0000FF"/>
<ellipse cx="259.89" cy="160.34" rx="3.0" ry="2.0" fill="#0000FF"/>
<ellipse cx="260.96" cy="160.08" rx="3.0" ry="2.0" fill="#0000FF"/>
<ellipse cx="262.04" cy="159.82" rx="3.0" ry="2.0" fill="#0000FF"/>
<ellipse cx="263.11" cy="159.56" rx="3.0" ry="2.0" fill="#0000FF"/>
<ellipse cx="264.18" cy="159.3" rx="3.0" ry="2.0" fill="#0000FF"/>
<ellipse cx="265.25" cy="159.06" rx="3.0" ry="2.0" fill="#0000FF"/>
<ellipse cx="266.32" cy="158.83" rx="3.0" ry="2.0" fill="#0000FF"/>
<ellipse cx="267.4" cy="158.6" rx="3.0" ry="2.0" fill="#0000FF"/>
<ellipse cx="268.47" cy="158.37" rx="3.0" ry="2.0" fill="#0000FF"/>
<ellipse cx="269.54" cy="158.14" rx="3.0" ry="2.0" fill="#0000FF"/>
<ellipse cx="270.61" cy="157.91" rx="3.0" ry="2.0" fill="#0000FF"/>
<ellipse cx="271.68" cy="157.68" rx="3.0" ry="2.0" fill="#0000FF"/>
<ellipse cx="272.76" cy="157.45" rx="3.0" ry="2.0" fill="#0000FF"/>
<ellipse cx="273.83" cy="157.22" rx="3.0" ry="2.0" fill="#0000FF"/>
<ellipse cx="274.9" cy="156.99" rx="3.0" ry="2.0" fill="#0000FF"/>
<ellipse cx="275.97" cy="156.76" rx="3.0" ry="2.0" fill="#0000FF"/>
<ellipse cx="277.04" cy="156.53" rx="3.0" ry="2.0" fill="#0000FF"/>
<ellipse cx="278.12" cy="156.3" rx="3.0" ry="2.0" fill="#0000FF"/>
<ellipse cx="279.19" cy="156.07" rx="3.0" ry="2.0" fill="#0000FF"/>
<ellipse cx="280.26" cy="155.84" rx="3.0" ry="2.0" fill="#0000FF"/>
<ellipse cx="281.33" cy="155.61" rx="3.0" ry="2.0" fill="#0000FF"/>
<ellipse cx="282.4" cy="155.38" rx="3.0" ry="2.0" fill="#0000FF"/>
<ellipse cx="283.48" cy="155.15" rx="3.0" ry="2.0" fill="#0000FF"/>
<ellipse cx="284.55" cy="154.92" rx="3.0" ry="2.0" fill="#0000FF"/>
<ellipse cx="285.62" cy="154.69" rx="3.0" ry="2.0" fill="#0000FF"/>
<ellipse cx="286.69" cy="154.46" rx="3.0" ry="2.0" fill="#0000FF"/>
<ellipse cx="287.76" cy="154.23" rx="3.0" ry="2.0" fill="#0000FF"/>
<ellipse cx="288.84" cy="154" rx="3.0" ry="2.0" fill="#0000FF"/>
<ellipse cx="289.91" cy="153.77" rx="3.0" ry="2.0" fill="#0000FF"/>
<ellipse cx="290.98" cy="153.54" rx="3.0" ry="2.0" fill="#0000FF"/>
<ellipse cx="292.05" cy="153.31" rx="3.0" ry="2.0" fill="#0000FF"/>
<ellipse cx="293.12" cy="153.08" rx="3.0" ry="2.0" fill="#0000FF"/>
<ellipse cx="294.2" cy="152.85" rx="3.0" ry="2.0" fill="#0000FF"/>
<ellipse cx="295.27" cy="152.62" rx="3.0" ry="2.0" fill="#0000FF"/>
<ellipse cx="296.34" cy="152.39" rx="3.0" ry="2.0" fill="#0000FF"/>
<ellipse cx="297.41" cy="152.16" rx="3.0" ry="2.0" fill="#0000FF"/>
<ellipse cx="298.48" cy="151.93" rx="3.0" ry="2.0" fill="#0000FF"/>
<ellipse cx="299.56" cy="151.7" rx="3.0" ry="2.0" fill="#0000FF"/>
<ellipse cx="300.63" cy="151.47" rx="3.0" ry="2.0" fill="#0000FF"/>
<ellipse cx="301.7" cy="151.26" rx="3.0" ry="2.0" fill="#0000FF"/>
<ellipse cx="302.77" cy="151.04" rx="3.0" ry="2.0" fill="#0000FF"/>
<ellipse cx="303.84" cy="150.83" rx="3.0" ry="2.0" fill="#0000FF"/>
<ellipse cx="304.92" cy="150.61" rx="3.0" ry="2.0" fill="#0000FF"/>
<ellipse cx="305.99" cy="150.4" rx="3.0" ry="2.0" fill="#0000FF"/>
<ellipse cx="307.06" cy="150.18" rx="3.0" ry="2.0" fill="#0000FF"/>
<ellipse cx="308.13" cy="149.97" rx="3.0" ry="2.0" fill="#0000FF"/>
<ellipse cx="309.2" cy="149.75" rx="3.0" ry="2.0" fill="#0000FF"/>
<ellipse cx="310.28" cy="149.54" rx="3.0" ry="2.0" fill="#0000FF"/>
<ellipse cx="311.35" cy="149.32" rx="3.0" ry="2.0" fill="#0000FF"/>
<ellipse cx="312.42" cy="149.11" rx="3.0" ry="2.0" fill="#0000FF"/>
<ellipse cx="313.49" cy="148.89" rx="3.0" ry="2.0" fill="#0000FF"/>
<ellipse cx="314.56" cy="148.67" rx="3.0" ry="2.0" fill="#0000FF"/>
<ellipse cx="315.64" cy="148.46" rx="3.0" ry="2.0" fill="#0000FF"/>
<ellipse cx="316.71" cy="148.24" rx="3.0" ry="2.0" fill="#0000FF"/>
<ellipse cx="317.78" cy="148.03" rx="3.0" ry="2.0" fill="#0000FF"/>
<ellipse cx="318.85" cy="147.81" rx="3.0" ry="2.0" fill="#0000FF"/>
<ellipse cx="319.92" cy="147.6" rx="3.0" ry="2.0" fill="#0000FF"/>
<ellipse cx="321" cy="147.38" rx="3.0" ry="2.0" fill="#0000FF"/>
<ellipse cx="322.07" cy="147.17" rx="3.0" ry="2.0" fill="#0000FF"/>
<ellipse cx="323.14" cy="146.8" rx="3.0" ry="2.0" fill="#0000FF"/>
<ellipse cx="324.21" cy="145.93" rx="3.0" ry="2.0" fill="#0000FF"/>
<ellipse cx="325.28" cy="145.06" rx="3.0" ry="2.0" fill="#0000FF"/>
<ellipse cx="326.36" cy="144.18" rx="3.0" ry="2.0" fill="#0000FF"/>
<ellipse cx="327.43" cy="143.78" rx="3.0" ry="2.0" fill="#0000FF"/>
<ellipse cx="328.5" cy="143.6" rx="3.0" ry="2.0" fill="#0000FF"/>
<ellipse cx="329.57" cy="143.41" rx="3.0" ry="2.0" fill="#0000FF"/>
<ellipse cx="330.64" cy="143.23" rx="3.0" ry="2.0" fill="#0000FF"/>
<ellipse cx="331.72" cy="143.05" rx="3.0" ry="2.0" fill="#0000FF"/>
<ellipse cx="332.79" cy="142.87" rx="3.0" ry="2.0" fill="#0000FF"/>
<ellipse cx="333.86" cy="142.69" rx="3.0" ry="2.0" fill="#0000FF"/>
<ellipse cx="334.93" cy="142.51" rx="3.0" ry="2.0" fill="#0000FF"/>
<ellipse cx="336" cy="142.33" rx="3.0" ry="2.0" fill="#0000FF"/>
<ellipse cx="337.08" cy="142.14" rx="3.0" ry="2.0" fill="#0000FF"/>
<ellipse cx="338.15" cy="141.96" rx="3.0" ry="2.0" fill="#0000FF"/>
<ellipse cx="339.22" cy="141.78" rx="3.0" ry="2.0" fill="#0000FF"/>
<ellipse cx="340.29" cy="141.6" rx="3.0" ry="2.0" fill="#0000FF"/>
<ellipse cx="341.36" cy="141.42" rx="3.0" ry="2.0" fill="#0000FF"/>
<ellipse cx="342.44" cy="141.24" rx="3.0" ry="2.0" fill="#0000FF"/>
<ellipse cx="343.51" cy="141.06" rx="3.0" ry="2.0" fill="#0000FF"/>
<ellipse cx="344.58" cy="140.88" rx="3.0" ry="2.0" fill="#0000FF"/>
<ellipse cx="345.65" cy="140.69" rx="3.0" ry="2.0" fill="#0000FF"/>
<ellipse cx="346.72" cy="140.51" rx="3.0" ry="2.0" fill="#0000FF"/>
<ellipse cx="347.8" cy="140.33" rx="3.0" ry="2.0" fill="#0000FF"/>
<ellipse cx="348.87" cy="140.15" rx="3.0" ry="2.0" fill="#0000FF"/>
<ellipse cx="349.94" cy="139.97" rx="3.0" ry="2.0" fill="#0000FF"/>
<ellipse cx="351.01" cy="139.79" rx="3.0" ry="2.0" fill="#0000FF"/>
<ellipse cx="352.08" cy="139.61" rx="3.0" ry="2.0" fill="#0000FF"/>
<ellipse cx="353.16" cy="139.42" rx="3.0" ry="2.0" fill="#0000FF"/>
<ellipse cx="354.23" cy="139.29" rx="3.0" ry="2.0" fill="#0000FF"/>
<ellipse cx="355.3" cy="139.17" rx="3.0" ry="2.0" fill="#0000FF"/>
<ellipse cx="356.37" cy="139.05" rx="3.0" ry="2.0" fill="#0000FF"/>
<ellipse cx="357.44" cy="138.93" rx="3.0" ry="2.0" fill="#0000FF"/>
<ellipse cx="358.52" cy="138.81" rx="3.0" ry="2.0" fill="#0000FF"/>
<ellipse cx="359.59" cy="138.69" rx="3.0" ry="2.0" fill="#0000FF"/>
<ellipse cx="360.66" cy="138.57" rx="3.0" ry="2.0" fill="#0000FF"/>
<ellipse cx="361.73" cy="138.45" rx="3.0" ry="2.0" fill="#0000FF"/>
<ellipse cx="362.8" cy="138.32" rx="3.0" ry="2.0" fill="#0000FF"/>
<ellipse cx="363.88" cy="138.2" rx="3.0" ry="2.0" fill="#0000FF"/>
<ellipse cx="364.95" cy="138.08" rx="3.0" ry="2.0" fill="#0000FF"/>
<ellipse cx="366.02" cy="137.96" rx="3.0" ry="2.0" fill="#0000FF"/>
<ellipse cx="367.09" cy="137.84" rx="3.0" ry="2.0" fill="#0000FF"/>
<ellipse cx="368.16" cy="137.72" rx="3.0" ry="2.0" fill="#0000FF"/>
<ellipse cx="369.24" cy="137.6" rx="3.0" ry="2.0" fill="#0000FF"/>
<ellipse cx="370.31" cy="137.48" rx="3.0" ry="2.0" fill="#0000FF"/>
<ellipse cx="371.38" cy="137.35" rx="3.0" ry="2.0" fill="#0000FF"/>
<ellipse cx="372.45" cy="137.23" rx="3.0" ry="2.0" fill="#0000FF"/>
<ellipse cx="373.52" cy="137.11" rx="3.0" ry="2.0" fill="#0000FF"/>
<ellipse cx="374.6" cy="136.99" rx="3.0" ry="2.0" fill="#0000FF"/>
<ellipse cx="375.67" cy="136.87" rx="3.0" ry="2.0" fill="#0000FF"/>
<ellipse cx="376.74" cy="136.75" rx="3.0" ry="2.0" fill="#0000FF"/>
<ellipse cx="377.81" cy="136.63" rx="3.0" ry="2.0" fill="#0000FF"/>
<ellipse cx="378.88" cy="136.5" rx="3.0" ry="2.0" fill="#0000FF"/>
<ellipse cx="379.96" cy="136.38" rx="3.0" ry="2.0" fill="#0000FF"/>
<ellipse cx="381.03" cy="136.26" rx="3.0" ry="2.0" fill="#0000FF"/>
<ellipse cx="382.1" cy="136.14" rx="3.0" ry="2.0" fill="#0000FF"/>
<ellipse cx="383.17" cy="136.02" rx="3.0" ry="2.0" fill="#0000FF"/>
<ellipse cx="384.24" cy="135.9" rx="3.0" ry="2.0" fill="#0000FF"/>
<ellipse cx="385.32" cy="135.78" rx="3.0" ry="2.0" fill="#0000FF"/>
<ellipse cx="386.39" cy="135.66" rx="3.0" ry="2.0" fill="#0000FF"/>
<ellipse cx="387.46" cy="135.53" rx="3.0" ry="2.0" fill="#0000FF"/>
<ellipse cx="388.53" cy="135.41" rx="3.0" ry="2.0" fill="#0000FF"/>
<ellipse cx="389.6" cy="135.29" rx="3.0" ry="2.0" fill="#0000FF"/>
<ellipse cx="390.68" cy="135.17" rx="3.0" ry="2.0" fill="#0000FF"/>
<ellipse cx="391.75" cy="134.87" rx="3.0" ry="2.0" fill="#0000FF"/>
<ellipse cx="392.82" cy="134.31" rx="3.0" ry="2.0" fill="#0000FF"/>
<ellipse cx="393.89" cy="133.75" rx="3.0" ry="2.0" fill="#0000FF"/>
<ellipse cx="394.96" cy="133.19" rx="3.0" ry="2.0" fill="#0000FF"/>
<ellipse cx="396.04" cy="132.64" rx="3.0" ry="2.0" fill="#0000FF"/>
<ellipse cx="397.11" cy="132.38" rx="3.0" ry="2.0" fill="#0000FF"/>
<ellipse cx="398.18" cy="132.23" rx="3.0" ry="2.0" fill="#0000FF"/>
<ellipse cx="399.25" cy="132.07" rx="3.0" ry="2.0" fill="#0000FF"/>
<ellipse cx="400.32" cy="131.91" rx="3.0" ry="2.0" fill="#0000FF"/>
<ellipse cx="401.4" cy="131.76" rx="3.0" ry="2.0" fill="#0000FF"/>
<ellipse cx="402.47" cy="131.6" rx="3.0" ry="2.0" fill="#0000FF"/>
<ellipse cx="403.54" cy="131.44" rx="3.0" ry="2.0" fill="#0000FF"/>
<ellipse cx="404.61" cy="131.29" rx="3.0" ry="2.0" fill="#0000FF"/>
<ellipse cx="405.68" cy="131.13" rx="3.0" ry="2.0" fill="#0000FF"/>
<ellipse cx="406.76" cy="130.97" rx="3.0" ry="2.0" fill="#0000FF"/>
<ellipse cx="407.83" cy="130.82" rx="3.0" ry="2.0" fill="#0000FF"/>
<ellipse cx="408.9" cy="130.66" rx="3.0" ry="2.0" fill="#0000FF"/>
<ellipse cx="409.97" cy="130.5" rx="3.0" ry="2.0" fill="#0000FF"/>
<ellipse cx="411.04" cy="130.35" rx="3.0" ry="2.0" fill="#0000FF"/>
<ellipse cx="412.12" cy="130.19" rx="3.0" ry="2.0" fill="#0000FF"/>
<ellipse cx="413.19" cy="130.03" rx="3.0" ry="2.0" fill="#0000FF"/>
<ellipse cx="414.26" cy="129.88" rx="3.0" ry="2.0" fill="#0000FF"/>
<ellipse cx="415.33" cy="129.72" rx="3.0" ry="2.0" fill="#0000FF"/>
<ellipse cx="416.4" cy="129.57" rx="3.0" ry="2.0" fill="#0000FF"/>
<ellipse cx="417.48" cy="129.41" rx="3.0" ry="2.0" fill="#0000FF"/>
<ellipse cx="418.55" cy="129.25" rx="3.0" ry="2.0" fill="#0000FF"/>
<ellipse cx="419.62" cy="129.1" rx="3.0" ry="2.0" fill="#0000FF"/>
<ellipse cx="420.69" cy="128.94" rx="3.0" ry="2.0" fill="#0000FF"/>
<ellipse cx="421.76" cy="128.78" rx="3.0" ry="2.0" fill="#0000FF"/>
<ellipse cx="422.84" cy="128.63" rx="3.0" ry="2.0" fill="#0000FF"/>
<ellipse cx="423.91" cy="128.48" rx="3.0" ry="2.0" fill="#0000FF"/>
<ellipse cx="424.98" cy="128.37" rx="3.0" ry="2.0" fill="#0000FF"/>
<ellipse cx="426.05" cy="128.27" rx="3.0" ry="2.0" fill="#FF0000"/>
<ellipse cx="427.12" cy="128.16" rx="3.0" ry="2.0" fill="#FF0000"/>
<ellipse cx="428.2" cy="128.06" rx="3.0" ry="2.0" fill="#FF0000"/>
<ellipse cx="429.27" cy="127.95" rx="3.0" ry="2.0" fill="#FF0000"/>
<ellipse cx="430.34" cy="127.84" rx="3.0" ry="2.0" fill="#FF0000"/>
<ellipse cx="431.41" cy="127.74" rx="3.0" ry="2.0" fill="#FF0000"/>
<ellipse cx="432.48" cy="127.63" rx="3.0" ry="2.0" fill="#FF0000"/>
<ellipse cx="433.56" cy="127.53" rx="3.0" ry="2.0" fill="#FF0000"/>
<ellipse cx="434.63" cy="127.42" rx="3.0" ry="2.0" fill="#FF0000"/>
<ellipse cx="435.7" cy="127.32" rx="3.0" ry="2.0" fill="#FF0000"/>
<ellipse cx="436.77" cy="127.21" rx="3.0" ry="2.0" fill="#FF0000"/>
<ellipse cx="437.84" cy="127.1" rx="3.0" ry="2.0" fill="#FF0000"/>
<ellipse cx="438.92" cy="127" rx="3.0" ry="2.0" fill="#FF0000"/>
<ellipse cx="439.99" cy="126.89" rx="3.0" ry="2.0" fill="#FF0000"/>
<ellipse cx="441.06" cy="126.79" rx="3.0" ry="2.0" fill="#FF0000"/>
<ellipse cx="442.13" cy="126.68" rx="3.0" ry="2.0" fill="#FF0000"/>
<ellipse cx="443.2" cy="126.57" rx="3.0" ry="2.0" fill="#FF0000"/>
<ellipse cx="444.28" cy="126.47" rx="3.0" ry="2.0" fill="#FF0000"/>
<ellipse cx="445.35" cy="126.36" rx="3.0" ry="2.0" fill="#FF0000"/>
<ellipse cx="446.42" cy="126.26" rx="3.0" ry="2.0" fill="#FF0000"/>
<ellipse cx="447.49" cy="126.12" rx="3.0" ry="2.0" fill="#FF0000"/>
<ellipse cx="448.56" cy="125.94" rx="3.0" ry="2.0" fill="#FF0000"/>
<ellipse cx="449.64" cy="125.77" rx="3.0" ry="2.0" fill="#FF0000"/>
<ellipse cx="450.71" cy="125.59" rx="3.0" ry="2.0" fill="#FF0000"/>
<ellipse cx="451.78" cy="125.42" rx="3.0" ry="2.0" fill="#FF0000"/>
<ellipse cx="452.85" cy="125.24" rx="3.0" ry="2.0" fill="#FF0000"/>
<ellipse cx="453.92" cy="125.07" rx="3.0" ry="2.0" fill="#FF0000"/>
<ellipse cx="455" cy="124.89" rx="3.0" ry="2.0" fill="#FF0000"/>
<ellipse cx="456.07" cy="124.72" rx="3.0" ry="2.0" fill="#FF0000"/>
<ellipse cx="457.14" cy="124.54" rx="3.0" ry="2.0" fill="#FF0000"/>
<ellipse cx="458.21" cy="124.37" rx="3.0" ry="2.0" fill="#FF0000"/>
<ellipse cx="459.28" cy="124.19" rx="3.0" ry="2.0" fill="#FF0000"/>
<ellipse cx="460.36" cy="124.02" rx="3.0" ry="2.0" fill="#FF0000"/>
<ellipse cx="461.43" cy="123.84" rx="3.0" ry="2.0" fill="#FF0000"/>
<ellipse cx="462.5" cy="123.67" rx="3.0" ry="2.0" fill="#FF0000"/>
<ellipse cx="463.57" cy="123.49" rx="3.0" ry="2.0" fill="#FF0000"/>
<ellipse cx="464.64" cy="123.32" rx="3.0" ry="2.0" fill="#FF0000"/>
<ellipse cx="465.72" cy="123.14" rx="3.0" ry="2.0" fill="#FF0000"/>
<ellipse cx="466.79" cy="122.97" rx="3.0" ry="2.0" fill="#FF0000"/>
<ellipse cx="467.86" cy="122.85" rx="3.0" ry="2.0" fill="#FF0000"/>
<ellipse cx="468.93" cy="122.78" rx="3.0" ry="2.0" fill="#FF0000"/>
<ellipse cx="470" cy="122.7" rx="3.0" ry="2.0" fill="#FF0000"/>
<ellipse cx="471.08" cy="122.63" rx="3.0" ry="2.0" fill="#FF0000"/>
<ellipse cx="472.15" cy="122.55" rx="3.0" ry="2.0" fill="#FF0000"/>
<ellipse cx="473.22" cy="122.48" rx="3.0" ry="2.0" fill="#FF0000"/>
<ellipse cx="474.29" cy="122.4" rx="3.0" ry="2.0" fill="#FF0000"/>
<ellipse cx="475.36" cy="122.33" rx="3.0" ry="2.0" fill="#FF0000"/>
<ellipse cx="476.44" cy="122.25" rx="3.0" ry="2.0" fill="#FF0000"/>
<ellipse cx="477.51" cy="122.18" rx="3.0" ry="2.0" fill="#FF0000"/>
<ellipse cx="478.58" cy="122.1" rx="3.0" ry="2.0" fill="#FF0000"/>
<ellipse cx="479.65" cy="122.02" rx="3.0" ry="2.0" fill="#FF0000"/>
<ellipse cx="480.72" cy="121.89" rx="3.0" ry="2.0" fill="#FF0000"/>
<ellipse cx="481.8" cy="121.73" rx="3.0" ry="2.0" fill="#FF0000"/>
<ellipse cx="482.87" cy="121.57" rx="3.0" ry="2.0" fill="#FF0000"/>
<ellipse cx="483.94" cy="121.41" rx="3.0" ry="2.0" fill="#FF0000"/>
<ellipse cx="485.01" cy="121.25" rx="3.0" ry="2.0" fill="#FF0000"/>
<ellipse cx="486.08" cy="121.09" rx="3.0" ry="2.0" fill="#FF0000"/>
<ellipse cx="487.16" cy="120.93" rx="3.0" ry="2.0" fill="#FF0000"/>
<ellipse cx="488.23" cy="120.76" rx="3.0" ry="2.0" fill="#FF0000"/>
<ellipse cx="489.3" cy="120.6" rx="3.0" ry="2.0" fill="#FF0000"/>
<ellipse cx="490.37" cy="120.44" rx="3.0" ry="2.0" fill="#FF0000"/>
<ellipse cx="491.44" cy="120.28" rx="3.0" ry="2.0" fill="#FF0000"/>
<ellipse cx="492.52" cy="120.12" rx="3.0" ry="2.0" fill="#FF0000"/>
<ellipse cx="493.59" cy="119.96" rx="3.0" ry="2.0" fill="#FF0000"/>
<ellipse cx="494.66" cy="119.8" rx="3.0" ry="2.0" fill="#FF0000"/>
<ellipse cx="495.73" cy="119.64" rx="3.0" ry="2.0" fill="#FF0000"/>
<ellipse cx="496.8" cy="119.48" rx="3.0" ry="2.0" fill="#FF0000"/>
<ellipse cx="497.88" cy="119.32" rx="3.0" ry="2.0" fill="#FF0000"/>
<ellipse cx="498.95" cy="119.15" rx="3.0" ry="2.0" fill="#FF0000"/>
<ellipse cx="500.02" cy="118.99" rx="3.0" ry="2.0" fill="#FF0000"/>
<ellipse cx="501.09" cy="118.83" rx="3.0" ry="2.0" fill="#FF0000"/>
<ellipse cx="502.16" cy="118.67" rx="3.0" ry="2.0" fill="#FF0000"/>
<ellipse cx="503.24" cy="118.51" rx="3.0" ry="2.0" fill="#FF0000"/>
<ellipse cx="504.31" cy="118.35" rx="3.0" ry="2.0" fill="#FF0000"/>
<ellipse cx="505.38" cy="118.19" rx="3.0" ry="2.0" fill="#FF0000"/>
<ellipse cx="506.45" cy="118.01" rx="3.0" ry="2.0" fill="#FF0000"/>
<ellipse cx="507.52" cy="117.83" rx="3.0" ry="2.0" fill="#FF0000"/>
<ellipse cx="508.6" cy="117.66" rx="3.0" ry="2.0" fill="#FF0000"/>
<ellipse cx="509.67" cy="117.48" rx="3.0" ry="2.0" fill="#FF0000"/>
<ellipse cx="510.74" cy="117.31" rx="3.0" ry="2.0" fill="#FF0000"/>
<ellipse cx="511.81" cy="117.13" rx="3.0" ry="2.0" fill="#FF0000"/>
<ellipse cx="512.88" cy="116.95" rx="3.0" ry="2.0" fill="#FF0000"/>
<ellipse cx="513.96" cy="116.78" rx="3.0" ry="2.0" fill="#FF0000"/>
<ellipse cx="515.03" cy="116.6" rx="3.0" ry="2.0" fill="#FF0000"/>
<ellipse cx="516.1" cy="116.42" rx="3.0" ry="2.0" fill="#FF0000"/>
<ellipse cx="517.17" cy="116.25" rx="3.0" ry="2.0" fill="#FF0000"/>
<ellipse cx="518.24" cy="116.07" rx="3.0" ry="2.0" fill="#FF0000"/>
<ellipse cx="519.32" cy="115.89" rx="3.0" ry="2.0" fill="#FF0000"/>
<ellipse cx="520.39" cy="115.72" rx="3.0" ry="2.0" fill="#FF0000"/>
<ellipse cx="521.46" cy="115.54" rx="3.0" ry="2.0" fill="#FF0000"/>
<ellipse cx="522.53" cy="115.37" rx="3.0" ry="2.0" fill="#FF0000"/>
<ellipse cx="523.6" cy="115.19" rx="3.0" ry="2.0" fill="#FF0000"/>
<ellipse cx="524.68" cy="115.01" rx="3.0" ry="2.0" fill="#FF0000"/>
<ellipse cx="525.75" cy="114.84" rx="3.0" ry="2.0" fill="#FF0000"/>
<ellipse cx="526.82" cy="114.66" rx="3.0" ry="2.0" fill="#FF0000"/>
<ellipse cx="527.89" cy="114.48" rx="3.0" ry="2.0" fill="#FF0000"/>
<ellipse cx="528.96" cy="114.31" rx="3.0" ry="2.0" fill="#FF0000"/>
<ellipse cx="530.04" cy="114.13" rx="3.0" ry="2.0" fill="#FF0000"/>
<ellipse cx="531.11" cy="113.96" rx="3.0" ry="2.0" fill="#FF0000"/>
<ellipse cx="532.18" cy="113.78" rx="3.0" ry="2.0" fill="#FF0000"/>
<ellipse cx="533.25" cy="113.6" rx="3.0" ry="2.0" fill="#FF0000"/>
<ellipse cx="534.32" cy="113.43" rx="3.0" ry="2.0" fill="#FF0000"/>
<ellipse cx="535.4" cy="113.25" rx="3.0" ry="2.0" fill="#FF0000"/>
<ellipse cx="536.47" cy="113.08" rx="3.0" ry="2.0" fill="#FF0000"/>
<ellipse cx="537.54" cy="112.92" rx="3.0" ry="2.0" fill="#FF0000"/>
<ellipse cx="538.61" cy="112.76" rx="3.0" ry="2.0" fill="#FF0000"/>
<ellipse cx="539.68" cy="112.59" rx="3.0" ry="2.0" fill="#FF0000"/>
<ellipse cx="540.76" cy="112.43" rx="3.0" ry="2.0" fill="#FF0000"/>
<ellipse cx="541.83" cy="112.26" rx="3.0" ry="2.0" fill="#FF0000"/>
<ellipse cx="542.9" cy="112.1" rx="3.0" ry="2.0" fill="#FF0000"/>
<ellipse cx="543.97" cy="111.94" rx="3.0" ry="2.0" fill="#FF0000"/>
<ellipse cx="545.04" cy="111.77" rx="3.0" ry="2.0" fill="#FF0000"/>
<ellipse cx="546.12" cy="111.61" rx="3.0" ry="2.0" fill="#FF0000"/>
<ellipse cx="547.19" cy="111.45" rx="3.0" ry="2.0" fill="#FF0000"/>
<ellipse cx="548.26" cy="111.28" rx="3.0" ry="2.0" fill="#FF0000"/>
<ellipse cx="549.33" cy="111.12" rx="3.0" ry="2.0" fill="#FF0000"/>
<ellipse cx="550.4" cy="110.95" rx="3.0" ry="2.0" fill="#FF0000"/>
<ellipse cx="551.48" cy="110.79" rx="3.0" ry="2.0" fill="#FF0000"/>
<ellipse cx="552.55" cy="110.63" rx="3.0" ry="2.0" fill="#FF0000"/>
<ellipse cx="553.62" cy="110.46" rx="3.0" ry="2.0" fill="#FF0000"/>
<ellipse cx="554.69" cy="110.3" rx="3.0" ry="2.0" fill="#FF0000"/>
<ellipse cx="555.76" cy="110.14" rx="3.0" ry="2.0" fill="#FF0000"/>
<ellipse cx="556.84" cy="109.68" rx="3.0" ry="2.0" fill="#FF0000"/>
<ellipse cx="557.91" cy="109.15" rx="3.0" ry="2.0" fill="#FF0000"/>
<ellipse cx="558.98" cy="108.61" rx="3.0" ry="2.0" fill="#FF0000"/>
<ellipse cx="560.05" cy="108.07" rx="3.0" ry="2.0" fill="#FF0000"/>
<ellipse cx="561.12" cy="107.58" rx="3.0" ry="2.0" fill="#FF0000"/>
<ellipse cx="562.2" cy="107.36" rx="3.0" ry="2.0" fill="#FF0000"/>
<ellipse cx="563.27" cy="107.14" rx="3.0" ry="2.0" fill="#FF0000"/>
<ellipse cx="564.34" cy="106.93" rx="3.0" ry="2.0" fill="#FF0000"/>
<ellipse cx="565.41" cy="106.71" rx="3.0" ry="2.0" fill="#FF0000"/>
<ellipse cx="566.48" cy="106.49" rx="3.0" ry="2.0" fill="#FF0000"/>
<ellipse cx="567.56" cy="106.28" rx="3.0" ry="2.0" fill="#FF0000"/>
<ellipse cx="568.63" cy="106.06" rx="3.0" ry="2.0" fill="#FF0000"/>
<ellipse cx="569.7" cy="105.85" rx="3.0" ry="2.0" fill="#FF0000"/>
<ellipse cx="570.77" cy="105.63" rx="3.0" ry="2.0" fill="#FF0000"/>
<ellipse cx="571.84" cy="105.41" rx="3.0" ry="2.0" fill="#FF0000"/>
<ellipse cx="572.92" cy="105.2" rx="3.0" ry="2.0" fill="#FF0000"/>
<ellipse cx="573.99" cy="104.98" rx="3.0" ry="2.0" fill="#FF0000"/>
<ellipse cx="575.06" cy="104.77" rx="3.0" ry="2.0" fill="#FF0000"/>
<ellipse cx="576.13" cy="104.55" rx="3.0" ry="2.0" fill="#FF0000"/>
<ellipse cx="577.2" cy="104.33" rx="3.0" ry="2.0" fill="#FF0000"/>
<ellipse cx="578.28" cy="104.12" rx="3.0" ry="2.0" fill="#FF0000"/>
<ellipse cx="579.35" cy="103.9" rx="3.0" ry="2.0" fill="#FF0000"/>
<ellipse cx="580.42" cy="103.69" rx="3.0" ry="2.0" fill="#FF0000"/>
<ellipse cx="581.49" cy="103.47" rx="3.0" ry="2.0" fill="#FF0000"/>
<ellipse cx="582.56" cy="103.25" rx="3.0" ry="2.0" fill="#FF0000"/>
<ellipse cx="583.64" cy="103.04" rx="3.0" ry="2.0" fill="#FF0000"/>
<ellipse cx="584.71" cy="102.82" rx="3.0" ry="2.0" fill="#FF0000"/>
<ellipse cx="585.78" cy="102.6" rx="3.0" ry="2.0" fill="#FF0000"/>
<ellipse cx="586.85" cy="102.42" rx="3.0" ry="2.0" fill="#FF0000"/>
<ellipse cx="587.92" cy="102.26" rx="3.0" ry="2.0" fill="#FF0000"/>
<ellipse cx="589" cy="102.1" rx="3.0" ry="2.0" fill="#FF0000"/>
<ellipse cx="590.07" cy="101.94" rx="3.0" ry="2.0" fill="#FF0000"/>
<ellipse cx="591.14" cy="101.78" rx="3.0" ry="2.0" fill="#FF0000"/>
<ellipse cx="592.21" cy="101.62" rx="3.0" ry="2.0" fill="#FF0000"/>
<ellipse cx="593.28" cy="101.47" rx="3.0" ry="2.0" fill="#FF0000"/>
<ellipse cx="594.36" cy="101.31" rx="3.0" ry="2.0" fill="#FF0000"/>
<ellipse cx="595.43" cy="101.15" rx="3.0" ry="2.0" fill="#FF0000"/>
<ellipse cx="596.5" cy="100.99" rx="3.0" ry="2.0" fill="#FF0000"/>
<ellipse cx="597.57" cy="100.83" rx="3.0" ry="2.0" fill="#FF0000"/>
<ellipse cx="598.64" cy="100.67" rx="3.0" ry="2.0" fill="#FF0000"/>
<ellipse cx="599.72" cy="100.51" rx="3.0" ry="2.0" fill="#FF0000"/>
<ellipse cx="600.79" cy="100.36" rx="3.0" ry="2.0" fill="#FF0000"/>
<ellipse cx="601.86" cy="100.2" rx="3.0" ry="2.0" fill="#FF0000"/>
<ellipse cx="602.93" cy="100.04" rx="3.0" ry="2.0" fill="#FF0000"/>
<ellipse cx="604" cy="99.88" rx="3.0" ry="2.0" fill="#FF0000"/>
<ellipse cx="605.08" cy="99.72" rx="3.0" ry="2.0" fill="#FF0000"/>
<ellipse cx="606.15" cy="99.56" rx="3.0" ry="2.0" fill="#FF0000"/>
<ellipse cx="607.22" cy="99.4" rx="3.0" ry="2.0" fill="#FF0000"/>
<ellipse cx="608.29" cy="99.24" rx="3.0" ry="2.0" fill="#FF0000"/>
<ellipse cx="609.36" cy="99.09" rx="3.0" ry="2.0" fill="#FF0000"/>
<ellipse cx="610.44" cy="98.93" rx="3.0" ry="2.0" fill="#FF0000"/>
<ellipse cx="611.51" cy="98.77" rx="3.0" ry="2.0" fill="#FF0000"/>
<ellipse cx="612.58" cy="98.61" rx="3.0" ry="2.0" fill="#FF0000"/>
<ellipse cx="613.65" cy="98.45" rx="3.0" ry="2.0" fill="#FF0000"/>
<ellipse cx="614.72" cy="98.29" rx="3.0" ry="2.0" fill="#FF0000"/>
<ellipse cx="615.8" cy="98.13" rx="3.0" ry="2.0" fill="#FF0000"/>
<ellipse cx="616.87" cy="97.94" rx="3.0" ry="2.0" fill="#FF0000"/>
<ellipse cx="617.94" cy="97.58" rx="3.0" ry="2.0" fill="#FF0000"/>
<ellipse cx="619.01" cy="97.21" rx="3.0" ry="2.0" fill="#FF0000"/>
<ellipse cx="620.08" cy="96.84" rx="3.0" ry="2.0" fill="#FF0000"/>
<ellipse cx="621.16" cy="96.48" rx="3.0" ry="2.0" fill="#FF0000"/>
<ellipse cx="622.23" cy="96.11" rx="3.0" ry="2.0" fill="#FF0000"/>
<ellipse cx="623.3" cy="95.74" rx="3.0" ry="2.0" fill="#FF0000"/>
<ellipse cx="624.37" cy="95.39" rx="3.0" ry="2.0" fill="#FF0000"/>
<ellipse cx="625.44" cy="95.23" rx="3.0" ry="2.0" fill="#FF0000"/>
<ellipse cx="626.52" cy="95.07" rx="3.0" ry="2.0" fill="#FF0000"/>
<ellipse cx="627.59" cy="94.91" rx="3.0" ry="2.0" fill="#FF0000"/>
<ellipse cx="628.66" cy="94.75" rx="3.0" ry="2.0" fill="#FF0000"/>
<ellipse cx="629.73" cy="94.58" rx="3.0" ry="2.0" fill="#FF0000"/>
<ellipse cx="630.8" cy="94.42" rx="3.0" ry="2.0" fill="#FF0000"/>
<ellipse cx="631.88" cy="94.26" rx="3.0" ry="2.0" fill="#FF0000"/>
<ellipse cx="632.95" cy="94.1" rx="3.0" ry="2.0" fill="#FF0000"/>
<ellipse cx="634.02" cy="93.94" rx="3.0" ry="2.0" fill="#FF0000"/>
<ellipse cx="635.09" cy="93.78" rx="3.0" ry="2.0" fill="#FF0000"/>
<ellipse cx="636.16" cy="93.62" rx="3.0" ry="2.0" fill="#FF0000"/>
<ellipse cx="637.24" cy="93.46" rx="3.0" ry="2.0" fill="#FF0000"/>
<ellipse cx="638.31" cy="93.3" rx="3.0" ry="2.0" fill="#FF0000"/>
<ellipse cx="639.38" cy="93.14" rx="3.0" ry="2.0" fill="#FF0000"/>
<ellipse cx="640.45" cy="92.97" rx="3.0" ry="2.0" fill="#FF0000"/>
<ellipse cx="641.52" cy="92.81" rx="3.0" ry="2.0" fill="#FF0000"/>
<ellipse cx="642.6" cy="92.65" rx="3.0" ry="2.0" fill="#FF0000"/>
<ellipse cx="643.67" cy="92.49" rx="3.0" ry="2.0" fill="#FF0000"/>
<ellipse cx="644.74" cy="92.33" rx="3.0" ry="2.0" fill="#FF0000"/>
<ellipse cx="645.81" cy="92.17" rx="3.0" ry="2.0" fill="#FF0000"/>
<ellipse cx="646.88" cy="92.01" rx="3.0" ry="2.0" fill="#FF0000"/>
<ellipse cx="647.96" cy="91.85" rx="3.0" ry="2.0" fill="#FF0000"/>
<ellipse cx="649.03" cy="91.69" rx="3.0" ry="2.0" fill="#FF0000"/>
<ellipse cx="650.1" cy="91.42" rx="3.0" ry="2.0" fill="#FF0000"/>
<ellipse cx="651.17" cy="91.03" rx="3.0" ry="2.0" fill="#FF0000"/>
<ellipse cx="652.24" cy="90.63" rx="3.0" ry="2.0" fill="#FF0000"/>
<ellipse cx="653.32" cy="90.24" rx="3.0" ry="2.0" fill="#FF0000"/>
<ellipse cx="654.39" cy="89.85" rx="3.0" ry="2.0" fill="#FF0000"/>
<ellipse cx="655.46" cy="89.46" rx="3.0" ry="2.0" fill="#FF0000"/>
<ellipse cx="656.53" cy="89.07" rx="3.0" ry="2.0" fill="#FF0000"/>
<ellipse cx="657.6" cy="88.68" rx="3.0" ry="2.0" fill="#FF0000"/>
<ellipse cx="658.68" cy="88.28" rx="3.0" ry="2.0" fill="#FF0000"/>
<ellipse cx="659.75" cy="87.89" rx="3.0" ry="2.0" fill="#FF0000"/>
<ellipse cx="660.82" cy="87.55" rx="3.0" ry="2.0" fill="#FF0000"/>
<ellipse cx="661.89" cy="87.22" rx="3.0" ry="2.0" fill="#FF0000"/>
<ellipse cx="662.96" cy="86.89" rx="3.0" ry="2.0" fill="#FF0000"/>
<ellipse cx="664.04" cy="86.56" rx="3.0" ry="2.0" fill="#FF0000"/>
<ellipse cx="665.11" cy="86.23" rx="3.0" ry="2.0" fill="#FF0000"/>
<ellipse cx="666.18" cy="85.9" rx="3.0" ry="2.0" fill="#FF0000"/>
<ellipse cx="667.25" cy="85.57" rx="3.0" ry="2.0" fill="#FF0000"/>
<ellipse cx="668.32" cy="85.25" rx="3.0" ry="2.0" fill="#FF0000"/>
<ellipse cx="669.4" cy="84.92" rx="3.0" ry="2.0" fill="#FF0000"/>
<ellipse cx="670.47" cy="84.61" rx="3.0" ry="2.0" fill="#FF0000"/>
<ellipse cx="671.54" cy="84.34" rx="3.0" ry="2.0" fill="#FF0000"/>
<ellipse cx="672.61" cy="84.07" rx="3.0" ry="2.0" fill="#FF0000"/>
<ellipse cx="673.68" cy="83.8" rx="3.0" ry="2.0" fill="#FF0000"/>
<ellipse cx="674.76" cy="83.53" rx="3.0" ry="2.0" fill="#FF0000"/>
<ellipse cx="675.83" cy="83.26" rx="3.0" ry="2.0" fill="#FF0000"/>
<ellipse cx="676.9" cy="82.99" rx="3.0" ry="2.0" fill="#FF0000"/>
<ellipse cx="677.97" cy="82.72" rx="3.0" ry="2.0" fill="#FF0000"/>
<ellipse cx="679.04" cy="82.45" rx="3.0" ry="2.0" fill="#FF0000"/>
<ellipse cx="680.12" cy="82.18" rx="3.0" ry="2.0" fill="#FF0000"/>
<ellipse cx="681.19" cy="81.91" rx="3.0" ry="2.0" fill="#FF0000"/>
<ellipse cx="682.26" cy="81.64" rx="3.0" ry="2.0" fill="#FF0000"/>
<ellipse cx="683.33" cy="81.37" rx="3.0" ry="2.0" fill="#FF0000"/>
<ellipse cx="684.4" cy="81.12" rx="3.0" ry="2.0" fill="#FF0000"/>
<ellipse cx="685.48" cy="80.86" rx="3.0" ry="2.0" fill="#FF0000"/>
<ellipse cx="686.55" cy="80.61" rx="3.0" ry="2.0" fill="#FF0000"/>
<ellipse cx="687.62" cy="80.35" rx="3.0" ry="2.0" fill="#FF0000"/>
<ellipse cx="688.69" cy="80.09" rx="3.0" ry="2.0" fill="#FF0000"/>
<ellipse cx="689.76" cy="79.84" rx="3.0" ry="2.0" fill="#FF0000"/>
<ellipse cx="690.84" cy="79.58" rx="3.0" ry="2.0" fill="#FF0000"/>
<ellipse cx="691.91" cy="79.3" rx="3.0" ry="2.0" fill="#FF0000"/>
<ellipse cx="692.98" cy="78.95" rx="3.0" ry="2.0" fill="#FF0000"/>
<ellipse cx="694.05" cy="78.6" rx="3.0" ry="2.0" fill="#FF0000"/>
<ellipse cx="695.12" cy="78.25" rx="3.0" ry="2.0" fill="#FF0000"/>
<ellipse cx="696.2" cy="77.9" rx="3.0" ry="2.0" fill="#FF0000"/>
<ellipse cx="697.27" cy="77.55" rx="3.0" ry="2.0" fill="#FF0000"/>
<ellipse cx="698.34" cy="77.2" rx="3.0" ry="2.0" fill="#FF0000"/>
<ellipse cx="699.41" cy="76.85" rx="3.0" ry="2.0" fill="#FF0000"/>
<ellipse cx="700.48" cy="76.51" rx="3.0" ry="2.0" fill="#FF0000"/>
<ellipse cx="701.56" cy="76.05" rx="3.0" ry="2.0" fill="#FF0000"/>
<ellipse cx="702.63" cy="75.59" rx="3.0" ry="2.0" fill="#FF0000"/>
<ellipse cx="703.7" cy="75.13" rx="3.0" ry="2.0" fill="#FF0000"/>
<ellipse cx="704.77" cy="74.68" rx="3.0" ry="2.0" fill="#FF0000"/>
<ellipse cx="705.84" cy="74.22" rx="3.0" ry="2.0" fill="#FF0000"/>
<ellipse cx="706.92" cy="73.76" rx="3.0" ry="2.0" fill="#FF0000"/>
<ellipse cx="707.99" cy="73.3" rx="3.0" ry="2.0" fill="#FF0000"/>
<ellipse cx="709.06" cy="72.85" rx="3.0" ry="2.0" fill="#FF0000"/>
<ellipse cx="710.13" cy="71.97" rx="3.0" ry="2.0" fill="#FF0000"/>
<ellipse cx="711.2" cy="70.9" rx="3.0" ry="2.0" fill="#FF0000"/>
<ellipse cx="712.28" cy="69.82" rx="3.0" ry="2.0" fill="#FF0000"/>
<ellipse cx="713.35" cy="68.11" rx="3.0" ry="2.0" fill="#FF0000"/>
<ellipse cx="714.42" cy="65.43" rx="3.0" ry="2.0" fill="#FF0000"/>
<ellipse cx="715.49" cy="64.97" rx="3.0" ry="2.0" fill="#FF0000"/>
<ellipse cx="716.56" cy="64.51" rx="3.0" ry="2.0" fill="#FF0000"/>
<ellipse cx="717.64" cy="64.04" rx="3.0" ry="2.0" fill="#FF0000"/>
<ellipse cx="718.71" cy="63.06" rx="3.0" ry="2.0" fill="#FF0000"/>
<ellipse cx="719.78" cy="60.95" rx="3.0" ry="2.0" fill="#FF0000"/>
<ellipse cx="720.85" cy="57.46" rx="3.0" ry="2.0" fill="#FF0000"/>
<ellipse cx="721.92" cy="56.65" rx="3.0" ry="2.0" fill="#FF0000"/>
<ellipse cx="723" cy="55.83" rx="3.0" ry="2.0" fill="#FF0000"/>
<ellipse cx="724.07" cy="54.62" rx="3.0" ry="2.0" fill="#FF0000"/>
<ellipse cx="725.14" cy="53.24" rx="3.0" ry="2.0" fill="#FF0000"/>
<ellipse cx="726.21" cy="51.29" rx="3.0" ry="2.0" fill="#FF0000"/>
<ellipse cx="727.28" cy="48.42" rx="3.0" ry="2.0" fill="#FF0000"/>
<ellipse cx="728.36" cy="44.78" rx="3.0" ry="2.0" fill="#FF0000"/>
<ellipse cx="729.43" cy="41.71" rx="3.0" ry="2.0" fill="#FF0000"/>
<ellipse cx="730.5" cy="40.25" rx="3.0" ry="2.0" fill="#FF0000"/>
<ellipse cx="731.57" cy="38.6" rx="3.0" ry="2.0" fill="#FF0000"/>
<ellipse cx="732.64" cy="36.85" rx="3.0" ry="2.0" fill="#FF0000"/>
<ellipse cx="733.72" cy="34" rx="3.0" ry="2.0" fill="#FF0000"/>
<ellipse cx="734.3" cy="18.6" rx="3.0" ry="2.0" fill="#FF0000"/>
<line x1="90.3" y1="129" x2="759" y2="129" stroke="#6e6e6e" stroke-width="1.4" stroke-dasharray="4.1,4.13" stroke-dashoffset="0"/>
<line x1="424.8" y1="8.2" x2="424.8" y2="295.4" stroke="#222" stroke-width="1.3" stroke-dasharray="3,2.85" stroke-dashoffset="3.3"/>
<ellipse cx="115.06" cy="566.48" rx="4.4" ry="2.9" fill="#0000FF"/>
<ellipse cx="116.46" cy="550.47" rx="4.4" ry="2.9" fill="#0000FF"/>
<ellipse cx="118.54" cy="609.65" rx="4.4" ry="2.9" fill="#FF0000"/>
<ellipse cx="119.24" cy="489.56" rx="4.4" ry="2.9" fill="#0000FF"/>
<ellipse cx="120.35" cy="557.15" rx="4.4" ry="2.9" fill="#0000FF"/>
<ellipse cx="121.75" cy="574.28" rx="4.4" ry="2.9" fill="#0000FF"/>
<ellipse cx="122.72" cy="578.46" rx="4.4" ry="2.9" fill="#FF0000"/>
<ellipse cx="123.42" cy="551.16" rx="4.4" ry="2.9" fill="#0000FF"/>
<ellipse cx="124.91" cy="500.54" rx="4.4" ry="2.9" fill="#0000FF"/>
<ellipse cx="125.92" cy="563.7" rx="4.4" ry="2.9" fill="#0000FF"/>
<ellipse cx="127.22" cy="475.73" rx="4.4" ry="2.9" fill="#0000FF"/>
<ellipse cx="129.68" cy="551.16" rx="4.4" ry="2.9" fill="#0000FF"/>
<ellipse cx="130.1" cy="625.8" rx="4.4" ry="2.9" fill="#FF0000"/>
<ellipse cx="131.77" cy="550.19" rx="4.4" ry="2.9" fill="#0000FF"/>
<ellipse cx="131.77" cy="574.56" rx="4.4" ry="2.9" fill="#FF0000"/>
<ellipse cx="133.16" cy="601.43" rx="4.4" ry="2.9" fill="#0000FF"/>
<ellipse cx="134.56" cy="609.65" rx="4.4" ry="2.9" fill="#FF0000"/>
<ellipse cx="135.95" cy="648.63" rx="4.4" ry="2.9" fill="#FF0000"/>
<ellipse cx="137.62" cy="621.9" rx="4.4" ry="2.9" fill="#FF0000"/>
<ellipse cx="138.73" cy="649.75" rx="4.4" ry="2.9" fill="#FF0000"/>
<ellipse cx="139.85" cy="575.95" rx="4.4" ry="2.9" fill="#0000FF"/>
<ellipse cx="140.82" cy="656.43" rx="4.4" ry="2.9" fill="#FF0000"/>
<ellipse cx="142.22" cy="632.34" rx="4.4" ry="2.9" fill="#0000FF"/>
<ellipse cx="142.91" cy="636.52" rx="4.4" ry="2.9" fill="#0000FF"/>
<ellipse cx="144.05" cy="527.3" rx="4.4" ry="2.9" fill="#0000FF"/>
<ellipse cx="144.94" cy="485.66" rx="4.4" ry="2.9" fill="#0000FF"/>
<ellipse cx="146.18" cy="460.32" rx="4.4" ry="2.9" fill="#0000FF"/>
<ellipse cx="147.24" cy="524.65" rx="4.4" ry="2.9" fill="#FF0000"/>
<ellipse cx="148.2" cy="618.7" rx="4.4" ry="2.9" fill="#0000FF"/>
<ellipse cx="149.18" cy="609.65" rx="4.4" ry="2.9" fill="#0000FF"/>
<ellipse cx="150.61" cy="492.39" rx="4.4" ry="2.9" fill="#0000FF"/>
<ellipse cx="151.54" cy="560.91" rx="4.4" ry="2.9" fill="#0000FF"/>
<ellipse cx="152.66" cy="554.37" rx="4.4" ry="2.9" fill="#0000FF"/>
<ellipse cx="153.77" cy="578.46" rx="4.4" ry="2.9" fill="#0000FF"/>
<ellipse cx="154.68" cy="519.33" rx="4.4" ry="2.9" fill="#0000FF"/>
<ellipse cx="155.44" cy="634.85" rx="4.4" ry="2.9" fill="#FF0000"/>
<ellipse cx="156.84" cy="594.47" rx="4.4" ry="2.9" fill="#0000FF"/>
<ellipse cx="158.23" cy="610.76" rx="4.4" ry="2.9" fill="#0000FF"/>
<ellipse cx="158.92" cy="617.72" rx="4.4" ry="2.9" fill="#FF0000"/>
<ellipse cx="160.32" cy="549.08" rx="4.4" ry="2.9" fill="#FF0000"/>
<ellipse cx="161.29" cy="626.77" rx="4.4" ry="2.9" fill="#FF0000"/>
<ellipse cx="162.13" cy="653.65" rx="4.4" ry="2.9" fill="#FF0000"/>
<ellipse cx="163.52" cy="597.53" rx="4.4" ry="2.9" fill="#0000FF"/>
<ellipse cx="164.49" cy="573.16" rx="4.4" ry="2.9" fill="#0000FF"/>
<ellipse cx="165.47" cy="565.23" rx="4.4" ry="2.9" fill="#FF0000"/>
<ellipse cx="166.56" cy="444.01" rx="4.4" ry="2.9" fill="#0000FF"/>
<ellipse cx="167.7" cy="609.65" rx="4.4" ry="2.9" fill="#0000FF"/>
<ellipse cx="168.67" cy="624.27" rx="4.4" ry="2.9" fill="#0000FF"/>
<ellipse cx="170.06" cy="630.67" rx="4.4" ry="2.9" fill="#0000FF"/>
<ellipse cx="170.76" cy="590.85" rx="4.4" ry="2.9" fill="#0000FF"/>
<ellipse cx="171.87" cy="535.57" rx="4.4" ry="2.9" fill="#0000FF"/>
<ellipse cx="172.94" cy="490.97" rx="4.4" ry="2.9" fill="#0000FF"/>
<ellipse cx="174.18" cy="521.81" rx="4.4" ry="2.9" fill="#0000FF"/>
<ellipse cx="174.94" cy="638.61" rx="4.4" ry="2.9" fill="#FF0000"/>
<ellipse cx="176.33" cy="643.06" rx="4.4" ry="2.9" fill="#FF0000"/>
<ellipse cx="177.03" cy="582.63" rx="4.4" ry="2.9" fill="#0000FF"/>
<ellipse cx="178.42" cy="565.09" rx="4.4" ry="2.9" fill="#0000FF"/>
<ellipse cx="179.11" cy="578.46" rx="4.4" ry="2.9" fill="#0000FF"/>
<ellipse cx="180.23" cy="624.27" rx="4.4" ry="2.9" fill="#0000FF"/>
<ellipse cx="181.27" cy="484.24" rx="4.4" ry="2.9" fill="#0000FF"/>
<ellipse cx="182.59" cy="646.96" rx="4.4" ry="2.9" fill="#0000FF"/>
<ellipse cx="183.57" cy="598.65" rx="4.4" ry="2.9" fill="#0000FF"/>
<ellipse cx="184.68" cy="559.52" rx="4.4" ry="2.9" fill="#0000FF"/>
<ellipse cx="185.38" cy="624.68" rx="4.4" ry="2.9" fill="#FF0000"/>
<ellipse cx="186.77" cy="634.85" rx="4.4" ry="2.9" fill="#FF0000"/>
<ellipse cx="187.89" cy="629.56" rx="4.4" ry="2.9" fill="#FF0000"/>
<ellipse cx="188.89" cy="492.39" rx="4.4" ry="2.9" fill="#0000FF"/>
<ellipse cx="189.97" cy="622.87" rx="4.4" ry="2.9" fill="#0000FF"/>
<ellipse cx="191.65" cy="557.85" rx="4.4" ry="2.9" fill="#0000FF"/>
<ellipse cx="193.04" cy="560.63" rx="4.4" ry="2.9" fill="#0000FF"/>
<ellipse cx="193.04" cy="604.08" rx="4.4" ry="2.9" fill="#0000FF"/>
<ellipse cx="194.15" cy="546.29" rx="4.4" ry="2.9" fill="#0000FF"/>
<ellipse cx="195.13" cy="656.43" rx="4.4" ry="2.9" fill="#0000FF"/>
<ellipse cx="196.52" cy="601.71" rx="4.4" ry="2.9" fill="#0000FF"/>
<ellipse cx="197.91" cy="558.54" rx="4.4" ry="2.9" fill="#0000FF"/>
<ellipse cx="198.89" cy="653.65" rx="4.4" ry="2.9" fill="#0000FF"/>
<ellipse cx="198.99" cy="469.53" rx="4.4" ry="2.9" fill="#0000FF"/>
<ellipse cx="201.11" cy="653.65" rx="4.4" ry="2.9" fill="#0000FF"/>
<ellipse cx="202" cy="488.32" rx="4.4" ry="2.9" fill="#FF0000"/>
<ellipse cx="202.78" cy="565.09" rx="4.4" ry="2.9" fill="#0000FF"/>
<ellipse cx="202.78" cy="610.06" rx="4.4" ry="2.9" fill="#0000FF"/>
<ellipse cx="204.18" cy="578.46" rx="4.4" ry="2.9" fill="#0000FF"/>
<ellipse cx="206.27" cy="610.76" rx="4.4" ry="2.9" fill="#0000FF"/>
<ellipse cx="206.27" cy="618.7" rx="4.4" ry="2.9" fill="#0000FF"/>
<ellipse cx="206.96" cy="625.8" rx="4.4" ry="2.9" fill="#0000FF"/>
<ellipse cx="208.35" cy="587.78" rx="4.4" ry="2.9" fill="#FF0000"/>
<ellipse cx="209.27" cy="531.2" rx="4.4" ry="2.9" fill="#0000FF"/>
<ellipse cx="210.44" cy="563.42" rx="4.4" ry="2.9" fill="#0000FF"/>
<ellipse cx="211.84" cy="581.52" rx="4.4" ry="2.9" fill="#0000FF"/>
<ellipse cx="212.53" cy="567.87" rx="4.4" ry="2.9" fill="#0000FF"/>
<ellipse cx="213.23" cy="664.78" rx="4.4" ry="2.9" fill="#0000FF"/>
<ellipse cx="214.62" cy="638.89" rx="4.4" ry="2.9" fill="#FF0000"/>
<ellipse cx="215.59" cy="663.39" rx="4.4" ry="2.9" fill="#FF0000"/>
<ellipse cx="216.43" cy="595.44" rx="4.4" ry="2.9" fill="#FF0000"/>
<ellipse cx="217.82" cy="598.23" rx="4.4" ry="2.9" fill="#0000FF"/>
<ellipse cx="219.01" cy="515.25" rx="4.4" ry="2.9" fill="#FF0000"/>
<ellipse cx="219.91" cy="552.97" rx="4.4" ry="2.9" fill="#0000FF"/>
<ellipse cx="221.16" cy="602.68" rx="4.4" ry="2.9" fill="#FF0000"/>
<ellipse cx="222.28" cy="561.05" rx="4.4" ry="2.9" fill="#0000FF"/>
<ellipse cx="222.97" cy="589.18" rx="4.4" ry="2.9" fill="#0000FF"/>
<ellipse cx="224.37" cy="610.76" rx="4.4" ry="2.9" fill="#FF0000"/>
<ellipse cx="225.34" cy="544.9" rx="4.4" ry="2.9" fill="#0000FF"/>
<ellipse cx="226.46" cy="593.35" rx="4.4" ry="2.9" fill="#0000FF"/>
<ellipse cx="227.34" cy="445.61" rx="4.4" ry="2.9" fill="#0000FF"/>
<ellipse cx="228.54" cy="599.9" rx="4.4" ry="2.9" fill="#0000FF"/>
<ellipse cx="229.24" cy="664.78" rx="4.4" ry="2.9" fill="#0000FF"/>
<ellipse cx="230.63" cy="625.8" rx="4.4" ry="2.9" fill="#0000FF"/>
<ellipse cx="232.03" cy="589.46" rx="4.4" ry="2.9" fill="#0000FF"/>
<ellipse cx="232.72" cy="663.39" rx="4.4" ry="2.9" fill="#FF0000"/>
<ellipse cx="233.84" cy="604.08" rx="4.4" ry="2.9" fill="#0000FF"/>
<ellipse cx="235.09" cy="542.11" rx="4.4" ry="2.9" fill="#0000FF"/>
<ellipse cx="235.92" cy="577.34" rx="4.4" ry="2.9" fill="#FF0000"/>
<ellipse cx="236.9" cy="652.53" rx="4.4" ry="2.9" fill="#FF0000"/>
<ellipse cx="238.29" cy="625.8" rx="4.4" ry="2.9" fill="#FF0000"/>
<ellipse cx="239.22" cy="485.66" rx="4.4" ry="2.9" fill="#0000FF"/>
<ellipse cx="240.38" cy="644.46" rx="4.4" ry="2.9" fill="#FF0000"/>
<ellipse cx="241.49" cy="598.65" rx="4.4" ry="2.9" fill="#0000FF"/>
<ellipse cx="242.47" cy="550.19" rx="4.4" ry="2.9" fill="#0000FF"/>
<ellipse cx="243.44" cy="583.89" rx="4.4" ry="2.9" fill="#0000FF"/>
<ellipse cx="244.56" cy="613.54" rx="4.4" ry="2.9" fill="#FF0000"/>
<ellipse cx="245.67" cy="646.96" rx="4.4" ry="2.9" fill="#FF0000"/>
<ellipse cx="246.65" cy="625.8" rx="4.4" ry="2.9" fill="#FF0000"/>
<ellipse cx="248.04" cy="559.66" rx="4.4" ry="2.9" fill="#0000FF"/>
<ellipse cx="248.73" cy="638.89" rx="4.4" ry="2.9" fill="#0000FF"/>
<ellipse cx="249.85" cy="529.96" rx="4.4" ry="2.9" fill="#0000FF"/>
<ellipse cx="251.52" cy="566.48" rx="4.4" ry="2.9" fill="#0000FF"/>
<ellipse cx="253.04" cy="503.2" rx="4.4" ry="2.9" fill="#0000FF"/>
<ellipse cx="254.3" cy="555.76" rx="4.4" ry="2.9" fill="#0000FF"/>
<ellipse cx="255.42" cy="573.16" rx="4.4" ry="2.9" fill="#0000FF"/>
<ellipse cx="256.23" cy="476.27" rx="4.4" ry="2.9" fill="#0000FF"/>
<ellipse cx="257.47" cy="525.89" rx="4.4" ry="2.9" fill="#0000FF"/>
<ellipse cx="258.48" cy="609.37" rx="4.4" ry="2.9" fill="#0000FF"/>
<ellipse cx="259.59" cy="645.85" rx="4.4" ry="2.9" fill="#0000FF"/>
<ellipse cx="260.15" cy="632.06" rx="4.4" ry="2.9" fill="#0000FF"/>
<ellipse cx="261.96" cy="621.62" rx="4.4" ry="2.9" fill="#0000FF"/>
<ellipse cx="262.66" cy="633.73" rx="4.4" ry="2.9" fill="#FF0000"/>
<ellipse cx="264.75" cy="653.65" rx="4.4" ry="2.9" fill="#0000FF"/>
<ellipse cx="265.16" cy="650.86" rx="4.4" ry="2.9" fill="#FF0000"/>
<ellipse cx="266.84" cy="567.32" rx="4.4" ry="2.9" fill="#0000FF"/>
<ellipse cx="268.23" cy="575.95" rx="4.4" ry="2.9" fill="#FF0000"/>
<ellipse cx="269.34" cy="571.77" rx="4.4" ry="2.9" fill="#0000FF"/>
<ellipse cx="270.32" cy="552.97" rx="4.4" ry="2.9" fill="#FF0000"/>
<ellipse cx="271.29" cy="536.68" rx="4.4" ry="2.9" fill="#0000FF"/>
<ellipse cx="272.41" cy="540.86" rx="4.4" ry="2.9" fill="#0000FF"/>
<ellipse cx="273.1" cy="594.47" rx="4.4" ry="2.9" fill="#0000FF"/>
<ellipse cx="274.91" cy="565.09" rx="4.4" ry="2.9" fill="#0000FF"/>
<ellipse cx="275.19" cy="612.15" rx="4.4" ry="2.9" fill="#0000FF"/>
<ellipse cx="276.58" cy="607.97" rx="4.4" ry="2.9" fill="#0000FF"/>
<ellipse cx="277.7" cy="640.42" rx="4.4" ry="2.9" fill="#FF0000"/>
<ellipse cx="278.67" cy="594.47" rx="4.4" ry="2.9" fill="#FF0000"/>
<ellipse cx="279.37" cy="609.37" rx="4.4" ry="2.9" fill="#FF0000"/>
<ellipse cx="280.76" cy="574.56" rx="4.4" ry="2.9" fill="#0000FF"/>
<ellipse cx="282.15" cy="649.47" rx="4.4" ry="2.9" fill="#0000FF"/>
<ellipse cx="283.27" cy="612.15" rx="4.4" ry="2.9" fill="#0000FF"/>
<ellipse cx="284.24" cy="651.14" rx="4.4" ry="2.9" fill="#FF0000"/>
<ellipse cx="285.29" cy="508.7" rx="4.4" ry="2.9" fill="#0000FF"/>
<ellipse cx="286.61" cy="641.81" rx="4.4" ry="2.9" fill="#FF0000"/>
<ellipse cx="287.44" cy="590.57" rx="4.4" ry="2.9" fill="#0000FF"/>
<ellipse cx="288.42" cy="607.97" rx="4.4" ry="2.9" fill="#0000FF"/>
<ellipse cx="289.81" cy="549.08" rx="4.4" ry="2.9" fill="#0000FF"/>
<ellipse cx="290.61" cy="488.32" rx="4.4" ry="2.9" fill="#0000FF"/>
<ellipse cx="291.62" cy="644.46" rx="4.4" ry="2.9" fill="#FF0000"/>
<ellipse cx="292.59" cy="573.16" rx="4.4" ry="2.9" fill="#0000FF"/>
<ellipse cx="293.99" cy="586.39" rx="4.4" ry="2.9" fill="#FF0000"/>
<ellipse cx="296.08" cy="570.66" rx="4.4" ry="2.9" fill="#0000FF"/>
<ellipse cx="296.77" cy="597.53" rx="4.4" ry="2.9" fill="#0000FF"/>
<ellipse cx="298.23" cy="500.54" rx="4.4" ry="2.9" fill="#0000FF"/>
<ellipse cx="299.11" cy="523.23" rx="4.4" ry="2.9" fill="#0000FF"/>
<ellipse cx="299.97" cy="594.75" rx="4.4" ry="2.9" fill="#FF0000"/>
<ellipse cx="301.37" cy="587.09" rx="4.4" ry="2.9" fill="#FF0000"/>
<ellipse cx="303.04" cy="590.57" rx="4.4" ry="2.9" fill="#0000FF"/>
<ellipse cx="303.73" cy="616.33" rx="4.4" ry="2.9" fill="#FF0000"/>
<ellipse cx="304.43" cy="533.9" rx="4.4" ry="2.9" fill="#0000FF"/>
<ellipse cx="305.82" cy="574.56" rx="4.4" ry="2.9" fill="#0000FF"/>
<ellipse cx="306.52" cy="640.42" rx="4.4" ry="2.9" fill="#0000FF"/>
<ellipse cx="307.62" cy="475.03" rx="4.4" ry="2.9" fill="#0000FF"/>
<ellipse cx="307.91" cy="644.87" rx="4.4" ry="2.9" fill="#0000FF"/>
<ellipse cx="309.3" cy="651.14" rx="4.4" ry="2.9" fill="#0000FF"/>
<ellipse cx="309.3" cy="622.59" rx="4.4" ry="2.9" fill="#FF0000"/>
<ellipse cx="312.78" cy="550.47" rx="4.4" ry="2.9" fill="#0000FF"/>
<ellipse cx="313.06" cy="591.96" rx="4.4" ry="2.9" fill="#0000FF"/>
<ellipse cx="314.18" cy="472.37" rx="4.4" ry="2.9" fill="#0000FF"/>
<ellipse cx="315.57" cy="645.57" rx="4.4" ry="2.9" fill="#0000FF"/>
<ellipse cx="316.27" cy="570.38" rx="4.4" ry="2.9" fill="#FF0000"/>
<ellipse cx="317.24" cy="532.78" rx="4.4" ry="2.9" fill="#0000FF"/>
<ellipse cx="318.35" cy="617.44" rx="4.4" ry="2.9" fill="#0000FF"/>
<ellipse cx="319.75" cy="538.08" rx="4.4" ry="2.9" fill="#0000FF"/>
<ellipse cx="320.44" cy="633.73" rx="4.4" ry="2.9" fill="#0000FF"/>
<ellipse cx="321.84" cy="577.34" rx="4.4" ry="2.9" fill="#0000FF"/>
<ellipse cx="323.23" cy="618.7" rx="4.4" ry="2.9" fill="#0000FF"/>
<ellipse cx="323.92" cy="590.57" rx="4.4" ry="2.9" fill="#0000FF"/>
<ellipse cx="325.04" cy="656.43" rx="4.4" ry="2.9" fill="#FF0000"/>
<ellipse cx="326.01" cy="633.73" rx="4.4" ry="2.9" fill="#FF0000"/>
<ellipse cx="327.11" cy="528.9" rx="4.4" ry="2.9" fill="#0000FF"/>
<ellipse cx="328.8" cy="657.82" rx="4.4" ry="2.9" fill="#FF0000"/>
<ellipse cx="329.24" cy="505.86" rx="4.4" ry="2.9" fill="#0000FF"/>
<ellipse cx="330.19" cy="637.91" rx="4.4" ry="2.9" fill="#FF0000"/>
<ellipse cx="331.58" cy="606.58" rx="4.4" ry="2.9" fill="#FF0000"/>
<ellipse cx="332.28" cy="626.77" rx="4.4" ry="2.9" fill="#0000FF"/>
<ellipse cx="332.97" cy="551.58" rx="4.4" ry="2.9" fill="#0000FF"/>
<ellipse cx="334.78" cy="617.44" rx="4.4" ry="2.9" fill="#0000FF"/>
<ellipse cx="335.76" cy="596.14" rx="4.4" ry="2.9" fill="#FF0000"/>
<ellipse cx="336.46" cy="540.86" rx="4.4" ry="2.9" fill="#0000FF"/>
<ellipse cx="337.75" cy="434.62" rx="4.4" ry="2.9" fill="#0000FF"/>
<ellipse cx="338.54" cy="629.56" rx="4.4" ry="2.9" fill="#FF0000"/>
<ellipse cx="339.94" cy="550.19" rx="4.4" ry="2.9" fill="#0000FF"/>
<ellipse cx="341.33" cy="606.58" rx="4.4" ry="2.9" fill="#FF0000"/>
<ellipse cx="342.03" cy="625.8" rx="4.4" ry="2.9" fill="#0000FF"/>
<ellipse cx="343.14" cy="586.39" rx="4.4" ry="2.9" fill="#0000FF"/>
<ellipse cx="344.53" cy="646.96" rx="4.4" ry="2.9" fill="#0000FF"/>
<ellipse cx="345.09" cy="574.56" rx="4.4" ry="2.9" fill="#0000FF"/>
<ellipse cx="345.92" cy="570.38" rx="4.4" ry="2.9" fill="#0000FF"/>
<ellipse cx="347.59" cy="557.15" rx="4.4" ry="2.9" fill="#0000FF"/>
<ellipse cx="348.71" cy="643.06" rx="4.4" ry="2.9" fill="#FF0000"/>
<ellipse cx="349.68" cy="663.39" rx="4.4" ry="2.9" fill="#FF0000"/>
<ellipse cx="350.66" cy="546.01" rx="4.4" ry="2.9" fill="#0000FF"/>
<ellipse cx="351.77" cy="558.54" rx="4.4" ry="2.9" fill="#0000FF"/>
<ellipse cx="351.77" cy="601.71" rx="4.4" ry="2.9" fill="#0000FF"/>
<ellipse cx="353.86" cy="591.96" rx="4.4" ry="2.9" fill="#0000FF"/>
<ellipse cx="354.56" cy="604.49" rx="4.4" ry="2.9" fill="#0000FF"/>
<ellipse cx="355.95" cy="587.51" rx="4.4" ry="2.9" fill="#0000FF"/>
<ellipse cx="357.34" cy="562.3" rx="4.4" ry="2.9" fill="#0000FF"/>
<ellipse cx="357.62" cy="607" rx="4.4" ry="2.9" fill="#0000FF"/>
<ellipse cx="359.01" cy="555.48" rx="4.4" ry="2.9" fill="#0000FF"/>
<ellipse cx="360.41" cy="632.34" rx="4.4" ry="2.9" fill="#0000FF"/>
<ellipse cx="361.52" cy="542.25" rx="4.4" ry="2.9" fill="#0000FF"/>
<ellipse cx="362.22" cy="565.09" rx="4.4" ry="2.9" fill="#0000FF"/>
<ellipse cx="363.61" cy="613.54" rx="4.4" ry="2.9" fill="#0000FF"/>
<ellipse cx="364.58" cy="594.47" rx="4.4" ry="2.9" fill="#0000FF"/>
<ellipse cx="365" cy="646.96" rx="4.4" ry="2.9" fill="#FF0000"/>
<ellipse cx="367.78" cy="646.96" rx="4.4" ry="2.9" fill="#0000FF"/>
<ellipse cx="368.48" cy="622.59" rx="4.4" ry="2.9" fill="#FF0000"/>
<ellipse cx="370.15" cy="566.48" rx="4.4" ry="2.9" fill="#0000FF"/>
<ellipse cx="371.96" cy="543.65" rx="4.4" ry="2.9" fill="#FF0000"/>
<ellipse cx="371.96" cy="622.59" rx="4.4" ry="2.9" fill="#FF0000"/>
<ellipse cx="373.35" cy="630.67" rx="4.4" ry="2.9" fill="#0000FF"/>
<ellipse cx="374.33" cy="585" rx="4.4" ry="2.9" fill="#FF0000"/>
<ellipse cx="375.16" cy="589.18" rx="4.4" ry="2.9" fill="#0000FF"/>
<ellipse cx="376.56" cy="535.57" rx="4.4" ry="2.9" fill="#FF0000"/>
<ellipse cx="377.44" cy="524.65" rx="4.4" ry="2.9" fill="#0000FF"/>
<ellipse cx="378.51" cy="575.67" rx="4.4" ry="2.9" fill="#0000FF"/>
<ellipse cx="379.75" cy="501.61" rx="4.4" ry="2.9" fill="#0000FF"/>
<ellipse cx="380.73" cy="623.01" rx="4.4" ry="2.9" fill="#FF0000"/>
<ellipse cx="381.71" cy="657.68" rx="4.4" ry="2.9" fill="#0000FF"/>
<ellipse cx="382.41" cy="598.23" rx="4.4" ry="2.9" fill="#0000FF"/>
<ellipse cx="382.41" cy="645.57" rx="4.4" ry="2.9" fill="#0000FF"/>
<ellipse cx="384.91" cy="569.27" rx="4.4" ry="2.9" fill="#FF0000"/>
<ellipse cx="385.89" cy="595.44" rx="4.4" ry="2.9" fill="#0000FF"/>
<ellipse cx="386.86" cy="636.52" rx="4.4" ry="2.9" fill="#FF0000"/>
<ellipse cx="388.25" cy="649.75" rx="4.4" ry="2.9" fill="#0000FF"/>
<ellipse cx="389.37" cy="601.43" rx="4.4" ry="2.9" fill="#0000FF"/>
<ellipse cx="390.38" cy="489.56" rx="4.4" ry="2.9" fill="#0000FF"/>
<ellipse cx="391.46" cy="629.56" rx="4.4" ry="2.9" fill="#FF0000"/>
<ellipse cx="392.85" cy="544.9" rx="4.4" ry="2.9" fill="#0000FF"/>
<ellipse cx="393.54" cy="643.06" rx="4.4" ry="2.9" fill="#FF0000"/>
<ellipse cx="394.24" cy="607.97" rx="4.4" ry="2.9" fill="#0000FF"/>
<ellipse cx="395.87" cy="453.23" rx="4.4" ry="2.9" fill="#0000FF"/>
<ellipse cx="396.61" cy="597.53" rx="4.4" ry="2.9" fill="#0000FF"/>
<ellipse cx="397.72" cy="634.71" rx="4.4" ry="2.9" fill="#FF0000"/>
<ellipse cx="398.84" cy="616.33" rx="4.4" ry="2.9" fill="#FF0000"/>
<ellipse cx="399.81" cy="608.25" rx="4.4" ry="2.9" fill="#FF0000"/>
<ellipse cx="400.78" cy="562.3" rx="4.4" ry="2.9" fill="#0000FF"/>
<ellipse cx="401.9" cy="538.35" rx="4.4" ry="2.9" fill="#0000FF"/>
<ellipse cx="402.59" cy="535.57" rx="4.4" ry="2.9" fill="#0000FF"/>
<ellipse cx="404.2" cy="468.29" rx="4.4" ry="2.9" fill="#0000FF"/>
<ellipse cx="405.8" cy="610.76" rx="4.4" ry="2.9" fill="#FF0000"/>
<ellipse cx="406.35" cy="665.76" rx="4.4" ry="2.9" fill="#0000FF"/>
<ellipse cx="407.47" cy="628.16" rx="4.4" ry="2.9" fill="#0000FF"/>
<ellipse cx="408.86" cy="621.2" rx="4.4" ry="2.9" fill="#0000FF"/>
<ellipse cx="409.56" cy="624.41" rx="4.4" ry="2.9" fill="#FF0000"/>
<ellipse cx="410.25" cy="646.96" rx="4.4" ry="2.9" fill="#0000FF"/>
<ellipse cx="411.92" cy="587.78" rx="4.4" ry="2.9" fill="#0000FF"/>
<ellipse cx="412.76" cy="554.37" rx="4.4" ry="2.9" fill="#FF0000"/>
<ellipse cx="413.73" cy="605.47" rx="4.4" ry="2.9" fill="#FF0000"/>
<ellipse cx="415.13" cy="577.34" rx="4.4" ry="2.9" fill="#0000FF"/>
<ellipse cx="416.08" cy="419.91" rx="4.4" ry="2.9" fill="#0000FF"/>
<ellipse cx="416.94" cy="598.65" rx="4.4" ry="2.9" fill="#0000FF"/>
<ellipse cx="417.22" cy="542.25" rx="4.4" ry="2.9" fill="#0000FF"/>
<ellipse cx="417.91" cy="621.62" rx="4.4" ry="2.9" fill="#0000FF"/>
<ellipse cx="418.33" cy="645.57" rx="4.4" ry="2.9" fill="#0000FF"/>
<ellipse cx="419.3" cy="665.76" rx="4.4" ry="2.9" fill="#0000FF"/>
<ellipse cx="422.78" cy="634.71" rx="4.4" ry="2.9" fill="#FF0000"/>
<ellipse cx="423.48" cy="574.56" rx="4.4" ry="2.9" fill="#0000FF"/>
<ellipse cx="424.87" cy="554.37" rx="4.4" ry="2.9" fill="#0000FF"/>
<ellipse cx="424.87" cy="579.43" rx="4.4" ry="2.9" fill="#FF0000"/>
<ellipse cx="426.68" cy="560.91" rx="4.4" ry="2.9" fill="#FF0000"/>
<ellipse cx="427.66" cy="641.81" rx="4.4" ry="2.9" fill="#FF0000"/>
<ellipse cx="429.05" cy="543.51" rx="4.4" ry="2.9" fill="#0000FF"/>
<ellipse cx="429.75" cy="581.52" rx="4.4" ry="2.9" fill="#0000FF"/>
<ellipse cx="431.14" cy="594.47" rx="4.4" ry="2.9" fill="#0000FF"/>
<ellipse cx="432.25" cy="618.7" rx="4.4" ry="2.9" fill="#FF0000"/>
<ellipse cx="432.81" cy="604.08" rx="4.4" ry="2.9" fill="#0000FF"/>
<ellipse cx="433.92" cy="598.23" rx="4.4" ry="2.9" fill="#0000FF"/>
<ellipse cx="435.57" cy="495.23" rx="4.4" ry="2.9" fill="#0000FF"/>
<ellipse cx="436.43" cy="630.95" rx="4.4" ry="2.9" fill="#0000FF"/>
<ellipse cx="437.41" cy="594.47" rx="4.4" ry="2.9" fill="#0000FF"/>
<ellipse cx="438.8" cy="646.96" rx="4.4" ry="2.9" fill="#0000FF"/>
<ellipse cx="439.49" cy="636.52" rx="4.4" ry="2.9" fill="#0000FF"/>
<ellipse cx="440.61" cy="604.08" rx="4.4" ry="2.9" fill="#FF0000"/>
<ellipse cx="442" cy="641.39" rx="4.4" ry="2.9" fill="#FF0000"/>
<ellipse cx="442.97" cy="625.8" rx="4.4" ry="2.9" fill="#FF0000"/>
<ellipse cx="443.67" cy="655.04" rx="4.4" ry="2.9" fill="#FF0000"/>
<ellipse cx="444.96" cy="504.62" rx="4.4" ry="2.9" fill="#0000FF"/>
<ellipse cx="445.76" cy="636.52" rx="4.4" ry="2.9" fill="#0000FF"/>
<ellipse cx="447.15" cy="632.34" rx="4.4" ry="2.9" fill="#0000FF"/>
<ellipse cx="448.54" cy="544.9" rx="4.4" ry="2.9" fill="#0000FF"/>
<ellipse cx="449.24" cy="567.59" rx="4.4" ry="2.9" fill="#0000FF"/>
<ellipse cx="450.35" cy="649.47" rx="4.4" ry="2.9" fill="#0000FF"/>
<ellipse cx="451.75" cy="551.58" rx="4.4" ry="2.9" fill="#0000FF"/>
<ellipse cx="452.72" cy="640.42" rx="4.4" ry="2.9" fill="#0000FF"/>
<ellipse cx="453.42" cy="590.57" rx="4.4" ry="2.9" fill="#0000FF"/>
<ellipse cx="454.71" cy="477.51" rx="4.4" ry="2.9" fill="#0000FF"/>
<ellipse cx="455.92" cy="599.9" rx="4.4" ry="2.9" fill="#0000FF"/>
<ellipse cx="456.48" cy="565.09" rx="4.4" ry="2.9" fill="#FF0000"/>
<ellipse cx="457.87" cy="613.54" rx="4.4" ry="2.9" fill="#0000FF"/>
<ellipse cx="458.99" cy="594.33" rx="4.4" ry="2.9" fill="#0000FF"/>
<ellipse cx="460.1" cy="642.78" rx="4.4" ry="2.9" fill="#0000FF"/>
<ellipse cx="461.49" cy="618.7" rx="4.4" ry="2.9" fill="#FF0000"/>
<ellipse cx="463.16" cy="649.47" rx="4.4" ry="2.9" fill="#FF0000"/>
<ellipse cx="464.28" cy="618.7" rx="4.4" ry="2.9" fill="#0000FF"/>
<ellipse cx="465.25" cy="659.22" rx="4.4" ry="2.9" fill="#FF0000"/>
<ellipse cx="466.23" cy="594.47" rx="4.4" ry="2.9" fill="#FF0000"/>
<ellipse cx="467.47" cy="497.71" rx="4.4" ry="2.9" fill="#0000FF"/>
<ellipse cx="468.53" cy="520.75" rx="4.4" ry="2.9" fill="#0000FF"/>
<ellipse cx="469.43" cy="645.85" rx="4.4" ry="2.9" fill="#FF0000"/>
<ellipse cx="470.82" cy="548.8" rx="4.4" ry="2.9" fill="#0000FF"/>
<ellipse cx="471.24" cy="618.7" rx="4.4" ry="2.9" fill="#FF0000"/>
<ellipse cx="472.22" cy="604.08" rx="4.4" ry="2.9" fill="#0000FF"/>
<ellipse cx="474.03" cy="558.54" rx="4.4" ry="2.9" fill="#0000FF"/>
<ellipse cx="475.42" cy="620.23" rx="4.4" ry="2.9" fill="#FF0000"/>
<ellipse cx="475.7" cy="662.97" rx="4.4" ry="2.9" fill="#0000FF"/>
<ellipse cx="477.09" cy="555.06" rx="4.4" ry="2.9" fill="#0000FF"/>
<ellipse cx="477.09" cy="640.42" rx="4.4" ry="2.9" fill="#0000FF"/>
<ellipse cx="478.2" cy="604.08" rx="4.4" ry="2.9" fill="#FF0000"/>
<ellipse cx="479.87" cy="552.97" rx="4.4" ry="2.9" fill="#0000FF"/>
<ellipse cx="481.27" cy="646.96" rx="4.4" ry="2.9" fill="#0000FF"/>
<ellipse cx="482.38" cy="626.77" rx="4.4" ry="2.9" fill="#0000FF"/>
<ellipse cx="483.77" cy="407.68" rx="4.4" ry="2.9" fill="#0000FF"/>
<ellipse cx="484.75" cy="566.48" rx="4.4" ry="2.9" fill="#0000FF"/>
<ellipse cx="485.44" cy="574.28" rx="4.4" ry="2.9" fill="#0000FF"/>
<ellipse cx="486.84" cy="601.43" rx="4.4" ry="2.9" fill="#FF0000"/>
<ellipse cx="486.84" cy="630.95" rx="4.4" ry="2.9" fill="#FF0000"/>
<ellipse cx="488.92" cy="646.96" rx="4.4" ry="2.9" fill="#FF0000"/>
<ellipse cx="490.32" cy="638.89" rx="4.4" ry="2.9" fill="#FF0000"/>
<ellipse cx="491.01" cy="629.56" rx="4.4" ry="2.9" fill="#0000FF"/>
<ellipse cx="492.13" cy="655.04" rx="4.4" ry="2.9" fill="#FF0000"/>
<ellipse cx="493.1" cy="577.34" rx="4.4" ry="2.9" fill="#0000FF"/>
<ellipse cx="494.49" cy="614.94" rx="4.4" ry="2.9" fill="#FF0000"/>
<ellipse cx="495.19" cy="539.47" rx="4.4" ry="2.9" fill="#0000FF"/>
<ellipse cx="496.58" cy="616.33" rx="4.4" ry="2.9" fill="#FF0000"/>
<ellipse cx="497.24" cy="495.23" rx="4.4" ry="2.9" fill="#0000FF"/>
<ellipse cx="498.67" cy="556.87" rx="4.4" ry="2.9" fill="#0000FF"/>
<ellipse cx="499.65" cy="630.95" rx="4.4" ry="2.9" fill="#FF0000"/>
<ellipse cx="500.76" cy="585.7" rx="4.4" ry="2.9" fill="#0000FF"/>
<ellipse cx="500.78" cy="477.51" rx="4.4" ry="2.9" fill="#0000FF"/>
<ellipse cx="502.15" cy="582.91" rx="4.4" ry="2.9" fill="#0000FF"/>
<ellipse cx="503.82" cy="566.48" rx="4.4" ry="2.9" fill="#0000FF"/>
<ellipse cx="504.94" cy="590.57" rx="4.4" ry="2.9" fill="#0000FF"/>
<ellipse cx="506.1" cy="523.23" rx="4.4" ry="2.9" fill="#0000FF"/>
<ellipse cx="507.03" cy="582.63" rx="4.4" ry="2.9" fill="#FF0000"/>
<ellipse cx="508" cy="555.76" rx="4.4" ry="2.9" fill="#0000FF"/>
<ellipse cx="509.39" cy="574.56" rx="4.4" ry="2.9" fill="#0000FF"/>
<ellipse cx="510.23" cy="646.96" rx="4.4" ry="2.9" fill="#0000FF"/>
<ellipse cx="510.51" cy="662.97" rx="4.4" ry="2.9" fill="#FF0000"/>
<ellipse cx="512.59" cy="605.47" rx="4.4" ry="2.9" fill="#0000FF"/>
<ellipse cx="513.9" cy="527.3" rx="4.4" ry="2.9" fill="#0000FF"/>
<ellipse cx="514.68" cy="665.76" rx="4.4" ry="2.9" fill="#FF0000"/>
<ellipse cx="515.8" cy="607.97" rx="4.4" ry="2.9" fill="#FF0000"/>
<ellipse cx="516.08" cy="661.58" rx="4.4" ry="2.9" fill="#0000FF"/>
<ellipse cx="518.16" cy="648.35" rx="4.4" ry="2.9" fill="#0000FF"/>
<ellipse cx="519.14" cy="608.25" rx="4.4" ry="2.9" fill="#0000FF"/>
<ellipse cx="519.97" cy="644.46" rx="4.4" ry="2.9" fill="#0000FF"/>
<ellipse cx="520.95" cy="594.47" rx="4.4" ry="2.9" fill="#0000FF"/>
<ellipse cx="522.34" cy="559.66" rx="4.4" ry="2.9" fill="#0000FF"/>
<ellipse cx="523.04" cy="655.04" rx="4.4" ry="2.9" fill="#FF0000"/>
<ellipse cx="524.18" cy="440.11" rx="4.4" ry="2.9" fill="#0000FF"/>
<ellipse cx="525.13" cy="665.76" rx="4.4" ry="2.9" fill="#FF0000"/>
<ellipse cx="525.82" cy="547.41" rx="4.4" ry="2.9" fill="#0000FF"/>
<ellipse cx="527.22" cy="602.68" rx="4.4" ry="2.9" fill="#FF0000"/>
<ellipse cx="527.91" cy="535.57" rx="4.4" ry="2.9" fill="#0000FF"/>
<ellipse cx="527.91" cy="569.27" rx="4.4" ry="2.9" fill="#0000FF"/>
<ellipse cx="529.3" cy="549.49" rx="4.4" ry="2.9" fill="#0000FF"/>
<ellipse cx="529.3" cy="589.18" rx="4.4" ry="2.9" fill="#0000FF"/>
<ellipse cx="529.3" cy="618.7" rx="4.4" ry="2.9" fill="#FF0000"/>
<ellipse cx="534.18" cy="539.75" rx="4.4" ry="2.9" fill="#0000FF"/>
<ellipse cx="534.46" cy="629.14" rx="4.4" ry="2.9" fill="#FF0000"/>
<ellipse cx="536.27" cy="632.34" rx="4.4" ry="2.9" fill="#0000FF"/>
<ellipse cx="536.68" cy="664.65" rx="4.4" ry="2.9" fill="#FF0000"/>
<ellipse cx="538.35" cy="583.89" rx="4.4" ry="2.9" fill="#FF0000"/>
<ellipse cx="538.63" cy="638.89" rx="4.4" ry="2.9" fill="#FF0000"/>
<ellipse cx="540.44" cy="597.53" rx="4.4" ry="2.9" fill="#0000FF"/>
<ellipse cx="540.86" cy="640" rx="4.4" ry="2.9" fill="#0000FF"/>
<ellipse cx="541.84" cy="657.82" rx="4.4" ry="2.9" fill="#FF0000"/>
<ellipse cx="543.65" cy="641.81" rx="4.4" ry="2.9" fill="#FF0000"/>
<ellipse cx="544.62" cy="664.65" rx="4.4" ry="2.9" fill="#0000FF"/>
<ellipse cx="545.59" cy="622.87" rx="4.4" ry="2.9" fill="#0000FF"/>
<ellipse cx="546.71" cy="607.97" rx="4.4" ry="2.9" fill="#FF0000"/>
<ellipse cx="547.82" cy="656.43" rx="4.4" ry="2.9" fill="#0000FF"/>
<ellipse cx="548.99" cy="476.27" rx="4.4" ry="2.9" fill="#0000FF"/>
<ellipse cx="549.77" cy="550.19" rx="4.4" ry="2.9" fill="#0000FF"/>
<ellipse cx="551.11" cy="419.91" rx="4.4" ry="2.9" fill="#FF0000"/>
<ellipse cx="552" cy="633.73" rx="4.4" ry="2.9" fill="#FF0000"/>
<ellipse cx="552.97" cy="562.44" rx="4.4" ry="2.9" fill="#0000FF"/>
<ellipse cx="553.95" cy="602.68" rx="4.4" ry="2.9" fill="#0000FF"/>
<ellipse cx="555.34" cy="536.96" rx="4.4" ry="2.9" fill="#0000FF"/>
<ellipse cx="556.46" cy="593.35" rx="4.4" ry="2.9" fill="#0000FF"/>
<ellipse cx="557.85" cy="595.44" rx="4.4" ry="2.9" fill="#0000FF"/>
<ellipse cx="558.54" cy="598.65" rx="4.4" ry="2.9" fill="#FF0000"/>
<ellipse cx="559.52" cy="585" rx="4.4" ry="2.9" fill="#0000FF"/>
<ellipse cx="560.91" cy="652.53" rx="4.4" ry="2.9" fill="#FF0000"/>
<ellipse cx="561.75" cy="589.59" rx="4.4" ry="2.9" fill="#0000FF"/>
<ellipse cx="562.72" cy="665.76" rx="4.4" ry="2.9" fill="#FF0000"/>
<ellipse cx="564.05" cy="434.62" rx="4.4" ry="2.9" fill="#0000FF"/>
<ellipse cx="564.94" cy="507.28" rx="4.4" ry="2.9" fill="#0000FF"/>
<ellipse cx="565.92" cy="552.97" rx="4.4" ry="2.9" fill="#0000FF"/>
<ellipse cx="567.24" cy="395.99" rx="4.4" ry="2.9" fill="#0000FF"/>
<ellipse cx="568.29" cy="610.76" rx="4.4" ry="2.9" fill="#FF0000"/>
<ellipse cx="569.27" cy="563.84" rx="4.4" ry="2.9" fill="#0000FF"/>
<ellipse cx="570.38" cy="548.8" rx="4.4" ry="2.9" fill="#0000FF"/>
<ellipse cx="571.08" cy="559.94" rx="4.4" ry="2.9" fill="#FF0000"/>
<ellipse cx="572.47" cy="586.39" rx="4.4" ry="2.9" fill="#0000FF"/>
<ellipse cx="573.44" cy="523.23" rx="4.4" ry="2.9" fill="#FF0000"/>
<ellipse cx="574.68" cy="508.52" rx="4.4" ry="2.9" fill="#0000FF"/>
<ellipse cx="575.67" cy="556.87" rx="4.4" ry="2.9" fill="#0000FF"/>
<ellipse cx="576.99" cy="504.62" rx="4.4" ry="2.9" fill="#0000FF"/>
<ellipse cx="577.87" cy="470.95" rx="4.4" ry="2.9" fill="#FF0000"/>
<ellipse cx="579.01" cy="563.84" rx="4.4" ry="2.9" fill="#0000FF"/>
<ellipse cx="580.13" cy="653.65" rx="4.4" ry="2.9" fill="#0000FF"/>
<ellipse cx="581.77" cy="507.28" rx="4.4" ry="2.9" fill="#0000FF"/>
<ellipse cx="581.95" cy="487.08" rx="4.4" ry="2.9" fill="#0000FF"/>
<ellipse cx="583.19" cy="584.03" rx="4.4" ry="2.9" fill="#0000FF"/>
<ellipse cx="584.3" cy="555.76" rx="4.4" ry="2.9" fill="#0000FF"/>
<ellipse cx="585.42" cy="578.46" rx="4.4" ry="2.9" fill="#FF0000"/>
<ellipse cx="586.39" cy="616.05" rx="4.4" ry="2.9" fill="#0000FF"/>
<ellipse cx="587.62" cy="508.52" rx="4.4" ry="2.9" fill="#0000FF"/>
<ellipse cx="587.78" cy="604.49" rx="4.4" ry="2.9" fill="#0000FF"/>
<ellipse cx="589.87" cy="602.68" rx="4.4" ry="2.9" fill="#FF0000"/>
<ellipse cx="590.99" cy="659.22" rx="4.4" ry="2.9" fill="#0000FF"/>
<ellipse cx="591.54" cy="629.56" rx="4.4" ry="2.9" fill="#FF0000"/>
<ellipse cx="592.66" cy="595.44" rx="4.4" ry="2.9" fill="#0000FF"/>
<ellipse cx="594.05" cy="636.52" rx="4.4" ry="2.9" fill="#FF0000"/>
<ellipse cx="594.75" cy="555.76" rx="4.4" ry="2.9" fill="#0000FF"/>
<ellipse cx="596.14" cy="585.42" rx="4.4" ry="2.9" fill="#0000FF"/>
<ellipse cx="597.53" cy="598.65" rx="4.4" ry="2.9" fill="#0000FF"/>
<ellipse cx="598.08" cy="488.32" rx="4.4" ry="2.9" fill="#0000FF"/>
<ellipse cx="599.62" cy="603.8" rx="4.4" ry="2.9" fill="#FF0000"/>
<ellipse cx="599.62" cy="655.04" rx="4.4" ry="2.9" fill="#FF0000"/>
<ellipse cx="601.27" cy="532.44" rx="4.4" ry="2.9" fill="#0000FF"/>
<ellipse cx="601.29" cy="533.06" rx="4.4" ry="2.9" fill="#0000FF"/>
<ellipse cx="602.68" cy="555.76" rx="4.4" ry="2.9" fill="#0000FF"/>
<ellipse cx="603.8" cy="602.68" rx="4.4" ry="2.9" fill="#FF0000"/>
<ellipse cx="604.49" cy="581.24" rx="4.4" ry="2.9" fill="#0000FF"/>
<ellipse cx="606.3" cy="571.77" rx="4.4" ry="2.9" fill="#0000FF"/>
<ellipse cx="607.97" cy="610.76" rx="4.4" ry="2.9" fill="#0000FF"/>
<ellipse cx="609.09" cy="664.65" rx="4.4" ry="2.9" fill="#0000FF"/>
<ellipse cx="610.06" cy="656.43" rx="4.4" ry="2.9" fill="#0000FF"/>
<ellipse cx="611.01" cy="458.72" rx="4.4" ry="2.9" fill="#0000FF"/>
<ellipse cx="612.15" cy="632.34" rx="4.4" ry="2.9" fill="#FF0000"/>
<ellipse cx="613.27" cy="599.9" rx="4.4" ry="2.9" fill="#0000FF"/>
<ellipse cx="614.24" cy="635.54" rx="4.4" ry="2.9" fill="#FF0000"/>
<ellipse cx="616.33" cy="569.27" rx="4.4" ry="2.9" fill="#0000FF"/>
<ellipse cx="617.44" cy="659.22" rx="4.4" ry="2.9" fill="#0000FF"/>
<ellipse cx="618.42" cy="613.54" rx="4.4" ry="2.9" fill="#0000FF"/>
<ellipse cx="619.39" cy="593.35" rx="4.4" ry="2.9" fill="#0000FF"/>
<ellipse cx="620.51" cy="606.58" rx="4.4" ry="2.9" fill="#FF0000"/>
<ellipse cx="621.9" cy="623.01" rx="4.4" ry="2.9" fill="#FF0000"/>
<ellipse cx="622.59" cy="632.34" rx="4.4" ry="2.9" fill="#FF0000"/>
<ellipse cx="623.77" cy="525.89" rx="4.4" ry="2.9" fill="#0000FF"/>
<ellipse cx="626.08" cy="540.86" rx="4.4" ry="2.9" fill="#0000FF"/>
<ellipse cx="626.08" cy="624.41" rx="4.4" ry="2.9" fill="#FF0000"/>
<ellipse cx="627.19" cy="648.35" rx="4.4" ry="2.9" fill="#FF0000"/>
<ellipse cx="628.16" cy="632.34" rx="4.4" ry="2.9" fill="#0000FF"/>
<ellipse cx="629.14" cy="567.87" rx="4.4" ry="2.9" fill="#0000FF"/>
<ellipse cx="630.15" cy="469.53" rx="4.4" ry="2.9" fill="#0000FF"/>
<ellipse cx="631.37" cy="591.96" rx="4.4" ry="2.9" fill="#0000FF"/>
<ellipse cx="632.76" cy="596.14" rx="4.4" ry="2.9" fill="#0000FF"/>
<ellipse cx="633.73" cy="625.8" rx="4.4" ry="2.9" fill="#FF0000"/>
<ellipse cx="634.71" cy="602.68" rx="4.4" ry="2.9" fill="#0000FF"/>
<ellipse cx="635.54" cy="644.46" rx="4.4" ry="2.9" fill="#0000FF"/>
<ellipse cx="636.52" cy="617.44" rx="4.4" ry="2.9" fill="#FF0000"/>
<ellipse cx="637.91" cy="581.24" rx="4.4" ry="2.9" fill="#0000FF"/>
<ellipse cx="637.95" cy="523.23" rx="4.4" ry="2.9" fill="#FF0000"/>
<ellipse cx="638.33" cy="565.09" rx="4.4" ry="2.9" fill="#0000FF"/>
<ellipse cx="639.3" cy="591.96" rx="4.4" ry="2.9" fill="#0000FF"/>
<ellipse cx="639.3" cy="628.16" rx="4.4" ry="2.9" fill="#FF0000"/>
<ellipse cx="644.33" cy="519.15" rx="4.4" ry="2.9" fill="#0000FF"/>
<ellipse cx="646.08" cy="608.23" rx="4.4" ry="2.9" fill="#FF0000"/>
<ellipse cx="647.59" cy="586.51" rx="4.4" ry="2.9" fill="#0000FF"/>
<ellipse cx="647.59" cy="665.95" rx="4.4" ry="2.9" fill="#FF0000"/>
<ellipse cx="649.42" cy="575.87" rx="4.4" ry="2.9" fill="#0000FF"/>
<ellipse cx="650.33" cy="565.24" rx="4.4" ry="2.9" fill="#FF0000"/>
<ellipse cx="651.39" cy="604.13" rx="4.4" ry="2.9" fill="#FF0000"/>
<ellipse cx="652.91" cy="645.9" rx="4.4" ry="2.9" fill="#FF0000"/>
<ellipse cx="653.67" cy="446.82" rx="4.4" ry="2.9" fill="#0000FF"/>
<ellipse cx="654.89" cy="608.23" rx="4.4" ry="2.9" fill="#0000FF"/>
<ellipse cx="655.95" cy="529" rx="4.4" ry="2.9" fill="#FF0000"/>
<ellipse cx="657.01" cy="591.97" rx="4.4" ry="2.9" fill="#0000FF"/>
<ellipse cx="657.92" cy="639.06" rx="4.4" ry="2.9" fill="#FF0000"/>
<ellipse cx="658.99" cy="573.29" rx="4.4" ry="2.9" fill="#FF0000"/>
<ellipse cx="660.05" cy="617.8" rx="4.4" ry="2.9" fill="#0000FF"/>
<ellipse cx="661.27" cy="637.85" rx="4.4" ry="2.9" fill="#0000FF"/>
<ellipse cx="662.03" cy="632.08" rx="4.4" ry="2.9" fill="#FF0000"/>
<ellipse cx="663.54" cy="567.67" rx="4.4" ry="2.9" fill="#0000FF"/>
<ellipse cx="664.61" cy="656.38" rx="4.4" ry="2.9" fill="#FF0000"/>
<ellipse cx="665.52" cy="479.18" rx="4.4" ry="2.9" fill="#0000FF"/>
<ellipse cx="666.58" cy="543.67" rx="4.4" ry="2.9" fill="#0000FF"/>
<ellipse cx="667.65" cy="631.01" rx="4.4" ry="2.9" fill="#0000FF"/>
<ellipse cx="668.86" cy="626.91" rx="4.4" ry="2.9" fill="#FF0000"/>
<ellipse cx="669.62" cy="537.9" rx="4.4" ry="2.9" fill="#FF0000"/>
<ellipse cx="671.14" cy="550.2" rx="4.4" ry="2.9" fill="#FF0000"/>
<ellipse cx="671.14" cy="649.7" rx="4.4" ry="2.9" fill="#FF0000"/>
<ellipse cx="673.11" cy="619.92" rx="4.4" ry="2.9" fill="#FF0000"/>
<ellipse cx="674.18" cy="548.99" rx="4.4" ry="2.9" fill="#0000FF"/>
<ellipse cx="675.24" cy="565.24" rx="4.4" ry="2.9" fill="#0000FF"/>
<ellipse cx="676.15" cy="573.29" rx="4.4" ry="2.9" fill="#0000FF"/>
<ellipse cx="676.46" cy="622.96" rx="4.4" ry="2.9" fill="#0000FF"/>
<ellipse cx="678.73" cy="550.2" rx="4.4" ry="2.9" fill="#0000FF"/>
<ellipse cx="679.19" cy="622.96" rx="4.4" ry="2.9" fill="#FF0000"/>
<ellipse cx="680.71" cy="540.94" rx="4.4" ry="2.9" fill="#0000FF"/>
<ellipse cx="681.77" cy="656.38" rx="4.4" ry="2.9" fill="#FF0000"/>
<ellipse cx="682.53" cy="609.29" rx="4.4" ry="2.9" fill="#FF0000"/>
<ellipse cx="683.29" cy="602.91" rx="4.4" ry="2.9" fill="#0000FF"/>
<ellipse cx="684.81" cy="664.43" rx="4.4" ry="2.9" fill="#FF0000"/>
<ellipse cx="685.87" cy="555.52" rx="4.4" ry="2.9" fill="#0000FF"/>
<ellipse cx="687.09" cy="491.03" rx="4.4" ry="2.9" fill="#0000FF"/>
<ellipse cx="688.3" cy="646.96" rx="4.4" ry="2.9" fill="#0000FF"/>
<ellipse cx="688.91" cy="601.39" rx="4.4" ry="2.9" fill="#FF0000"/>
<ellipse cx="690.13" cy="551.57" rx="4.4" ry="2.9" fill="#0000FF"/>
<ellipse cx="691.34" cy="616.28" rx="4.4" ry="2.9" fill="#0000FF"/>
<ellipse cx="692.41" cy="617.8" rx="4.4" ry="2.9" fill="#0000FF"/>
<ellipse cx="693.16" cy="652.28" rx="4.4" ry="2.9" fill="#FF0000"/>
<ellipse cx="694.38" cy="542.15" rx="4.4" ry="2.9" fill="#0000FF"/>
<ellipse cx="695.44" cy="604.13" rx="4.4" ry="2.9" fill="#FF0000"/>
<ellipse cx="697.42" cy="653.8" rx="4.4" ry="2.9" fill="#FF0000"/>
<ellipse cx="697.72" cy="660.33" rx="4.4" ry="2.9" fill="#FF0000"/>
<ellipse cx="698.48" cy="566.46" rx="4.4" ry="2.9" fill="#0000FF"/>
<ellipse cx="700" cy="617.8" rx="4.4" ry="2.9" fill="#FF0000"/>
<ellipse cx="700.76" cy="575.87" rx="4.4" ry="2.9" fill="#0000FF"/>
<ellipse cx="702.28" cy="567.97" rx="4.4" ry="2.9" fill="#0000FF"/>
<ellipse cx="703.04" cy="548.99" rx="4.4" ry="2.9" fill="#0000FF"/>
<ellipse cx="704.56" cy="571.77" rx="4.4" ry="2.9" fill="#0000FF"/>
<ellipse cx="705.32" cy="646.96" rx="4.4" ry="2.9" fill="#FF0000"/>
<ellipse cx="706.08" cy="622.66" rx="4.4" ry="2.9" fill="#FF0000"/>
<ellipse cx="706.84" cy="619.92" rx="4.4" ry="2.9" fill="#FF0000"/>
<ellipse cx="707.59" cy="627.97" rx="4.4" ry="2.9" fill="#0000FF"/>
<ellipse cx="709.57" cy="537.9" rx="4.4" ry="2.9" fill="#0000FF"/>
<ellipse cx="710.18" cy="629.49" rx="4.4" ry="2.9" fill="#0000FF"/>
<ellipse cx="711.39" cy="562.2" rx="4.4" ry="2.9" fill="#0000FF"/>
<ellipse cx="712.91" cy="640.13" rx="4.4" ry="2.9" fill="#FF0000"/>
<ellipse cx="714.13" cy="606.71" rx="4.4" ry="2.9" fill="#0000FF"/>
<ellipse cx="714.73" cy="634.05" rx="4.4" ry="2.9" fill="#FF0000"/>
<ellipse cx="715.95" cy="581.34" rx="4.4" ry="2.9" fill="#0000FF"/>
<ellipse cx="716.71" cy="628.43" rx="4.4" ry="2.9" fill="#FF0000"/>
<ellipse cx="718.23" cy="557.04" rx="4.4" ry="2.9" fill="#0000FF"/>
<ellipse cx="719.75" cy="579.82" rx="4.4" ry="2.9" fill="#0000FF"/>
<ellipse cx="720.2" cy="656.38" rx="4.4" ry="2.9" fill="#FF0000"/>
<ellipse cx="721.27" cy="663.37" rx="4.4" ry="2.9" fill="#FF0000"/>
<ellipse cx="722.78" cy="563.72" rx="4.4" ry="2.9" fill="#FF0000"/>
<ellipse cx="723.54" cy="644.23" rx="4.4" ry="2.9" fill="#FF0000"/>
<ellipse cx="724.3" cy="596.08" rx="4.4" ry="2.9" fill="#FF0000"/>
<ellipse cx="725.82" cy="621.59" rx="4.4" ry="2.9" fill="#0000FF"/>
<ellipse cx="726.58" cy="550.2" rx="4.4" ry="2.9" fill="#0000FF"/>
<ellipse cx="727.8" cy="515.33" rx="4.4" ry="2.9" fill="#0000FF"/>
<ellipse cx="728.86" cy="639.06" rx="4.4" ry="2.9" fill="#FF0000"/>
<ellipse cx="729.62" cy="563.72" rx="4.4" ry="2.9" fill="#0000FF"/>
<ellipse cx="730.84" cy="609.29" rx="4.4" ry="2.9" fill="#FF0000"/>
<ellipse cx="731.14" cy="568.73" rx="4.4" ry="2.9" fill="#0000FF"/>
<ellipse cx="732.96" cy="659.11" rx="4.4" ry="2.9" fill="#FF0000"/>
<ellipse cx="734.18" cy="569.19" rx="4.4" ry="2.9" fill="#FF0000"/>
<line x1="424.6" y1="385.1" x2="424.6" y2="676.3" stroke="#222" stroke-width="1.3" stroke-dasharray="3,2.9" stroke-dashoffset="3.1"/>
<circle cx="202.97" cy="1169.97" r="2.55" fill="#FF0000"/>
<circle cx="185.89" cy="1180.99" r="2.55" fill="#FF0000"/>
<circle cx="196.65" cy="1175.92" r="2.55" fill="#0000FF"/>
<circle cx="158.67" cy="1198.71" r="2.55" fill="#FF0000"/>
<circle cx="179.94" cy="1277.82" r="2.55" fill="#0000FF"/>
<circle cx="162.47" cy="1209.72" r="2.55" fill="#FF0000"/>
<circle cx="140.32" cy="1303.77" r="2.55" fill="#FF0000"/>
<circle cx="120.44" cy="1275.04" r="2.55" fill="#FF0000"/>
<circle cx="197.28" cy="1243.39" r="2.55" fill="#FF0000"/>
<circle cx="190.32" cy="1149.34" r="2.55" fill="#0000FF"/>
<circle cx="227.03" cy="1240.1" r="2.55" fill="#0000FF"/>
<circle cx="219.43" cy="1205.67" r="2.55" fill="#0000FF"/>
<circle cx="152.34" cy="1209.47" r="2.55" fill="#FF0000"/>
<circle cx="183.99" cy="1284.15" r="2.55" fill="#FF0000"/>
<circle cx="206.77" cy="1204.41" r="2.55" fill="#0000FF"/>
<circle cx="195.38" cy="1170.86" r="2.55" fill="#FF0000"/>
<circle cx="199.81" cy="1292.38" r="2.55" fill="#0000FF"/>
<circle cx="190.95" cy="1162.89" r="2.55" fill="#FF0000"/>
<circle cx="173.86" cy="1234.15" r="2.55" fill="#FF0000"/>
<circle cx="132.09" cy="1275.29" r="2.55" fill="#FF0000"/>
<circle cx="194.11" cy="1153.77" r="2.55" fill="#0000FF"/>
<circle cx="171.58" cy="1136.43" r="2.55" fill="#FF0000"/>
<circle cx="125.76" cy="1260.73" r="2.55" fill="#FF0000"/>
<circle cx="125.76" cy="1296.56" r="2.55" fill="#FF0000"/>
<circle cx="156.14" cy="1222.13" r="2.55" fill="#FF0000"/>
<circle cx="223.23" cy="1235.42" r="2.55" fill="#0000FF"/>
<circle cx="235.89" cy="1199.34" r="2.55" fill="#0000FF"/>
<circle cx="218.8" cy="1279.09" r="2.55" fill="#0000FF"/>
<circle cx="178.29" cy="1289.85" r="2.55" fill="#0000FF"/>
<circle cx="223.48" cy="1289.85" r="2.55" fill="#0000FF"/>
<circle cx="128.04" cy="1225.67" r="2.55" fill="#FF0000"/>
<circle cx="296.74" cy="1289.68" r="2.55" fill="#0000FF"/>
<circle cx="119.43" cy="1248.08" r="2.55" fill="#FF0000"/>
<circle cx="220.44" cy="1300.86" r="2.55" fill="#0000FF"/>
<circle cx="222.97" cy="1282.63" r="2.55" fill="#0000FF"/>
<circle cx="116.27" cy="1301.87" r="2.55" fill="#FF0000"/>
<circle cx="207.41" cy="1187.95" r="2.55" fill="#0000FF"/>
<circle cx="183.99" cy="1216.43" r="2.55" fill="#FF0000"/>
<circle cx="166.9" cy="1246.18" r="2.55" fill="#FF0000"/>
<circle cx="223.23" cy="1200.61" r="2.55" fill="#0000FF"/>
<circle cx="177.66" cy="1153.14" r="2.55" fill="#0000FF"/>
<circle cx="250.44" cy="1226.3" r="2.55" fill="#0000FF"/>
<circle cx="209.3" cy="1208.2" r="2.55" fill="#FF0000"/>
<circle cx="166.9" cy="1182.89" r="2.55" fill="#FF0000"/>
<circle cx="212.85" cy="1183.52" r="2.55" fill="#0000FF"/>
<circle cx="187.15" cy="1246.43" r="2.55" fill="#FF0000"/>
<circle cx="212.47" cy="1179.47" r="2.55" fill="#FF0000"/>
<circle cx="134.62" cy="1227.82" r="2.55" fill="#FF0000"/>
<circle cx="227.66" cy="1200.61" r="2.55" fill="#0000FF"/>
<circle cx="127.03" cy="1263.65" r="2.55" fill="#FF0000"/>
<circle cx="115.63" cy="1262" r="2.55" fill="#FF0000"/>
<circle cx="125.13" cy="1257.57" r="2.55" fill="#FF0000"/>
<circle cx="250.44" cy="1284.41" r="2.55" fill="#0000FF"/>
<circle cx="144.49" cy="1286.68" r="2.55" fill="#FF0000"/>
<circle cx="304.27" cy="1289.68" r="2.55" fill="#0000FF"/>
<circle cx="177.66" cy="1268.71" r="2.55" fill="#0000FF"/>
<circle cx="197.28" cy="1214.53" r="2.55" fill="#0000FF"/>
<circle cx="134.62" cy="1211.37" r="2.55" fill="#FF0000"/>
<circle cx="168.16" cy="1172.13" r="2.55" fill="#FF0000"/>
<circle cx="164.37" cy="1271.49" r="2.55" fill="#0000FF"/>
<circle cx="148.29" cy="1157.95" r="2.55" fill="#FF0000"/>
<circle cx="190.32" cy="1230.73" r="2.55" fill="#FF0000"/>
<circle cx="224.49" cy="1194.28" r="2.55" fill="#0000FF"/>
<circle cx="208.35" cy="1317.09" r="2.55" fill="#FF0000"/>
<circle cx="197.28" cy="1205.04" r="2.55" fill="#FF0000"/>
<circle cx="311.8" cy="1294.09" r="2.55" fill="#0000FF"/>
<circle cx="263.1" cy="1194.91" r="2.55" fill="#0000FF"/>
<circle cx="202.34" cy="1272.13" r="2.55" fill="#0000FF"/>
<circle cx="209.3" cy="1214.53" r="2.55" fill="#0000FF"/>
<circle cx="175.76" cy="1238.84" r="2.55" fill="#FF0000"/>
<circle cx="235.25" cy="1258.84" r="2.55" fill="#0000FF"/>
<circle cx="313.96" cy="1302.7" r="2.55" fill="#0000FF"/>
<circle cx="221.71" cy="1167.32" r="2.55" fill="#FF0000"/>
<circle cx="158.67" cy="1288.2" r="2.55" fill="#FF0000"/>
<circle cx="225.51" cy="1157.82" r="2.55" fill="#0000FF"/>
<circle cx="193.48" cy="1225.92" r="2.55" fill="#0000FF"/>
<circle cx="152.34" cy="1219.59" r="2.55" fill="#FF0000"/>
<circle cx="154.87" cy="1227.19" r="2.55" fill="#FF0000"/>
<circle cx="167.53" cy="1153.77" r="2.55" fill="#0000FF"/>
<circle cx="246.65" cy="1184.15" r="2.55" fill="#0000FF"/>
<circle cx="166.27" cy="1274.03" r="2.55" fill="#FF0000"/>
<circle cx="229.56" cy="1237.95" r="2.55" fill="#FF0000"/>
<circle cx="254.62" cy="1159.47" r="2.55" fill="#0000FF"/>
<circle cx="90.32" cy="1227.19" r="2.55" fill="#FF0000"/>
<circle cx="172.59" cy="1248.96" r="2.55" fill="#FF0000"/>
<circle cx="142.22" cy="1249.34" r="2.55" fill="#FF0000"/>
<circle cx="199.18" cy="1157.57" r="2.55" fill="#0000FF"/>
<circle cx="334.4" cy="1293.56" r="2.55" fill="#0000FF"/>
<circle cx="164.37" cy="1224.03" r="2.55" fill="#0000FF"/>
<circle cx="230.82" cy="1177.82" r="2.55" fill="#0000FF"/>
<circle cx="158.67" cy="1253.77" r="2.55" fill="#0000FF"/>
<circle cx="243.48" cy="1196.81" r="2.55" fill="#0000FF"/>
<circle cx="162.72" cy="1165.8" r="2.55" fill="#FF0000"/>
<circle cx="192.22" cy="1187.32" r="2.55" fill="#FF0000"/>
<circle cx="187.78" cy="1310.73" r="2.55" fill="#FF0000"/>
<circle cx="263.73" cy="1289.47" r="2.55" fill="#0000FF"/>
<circle cx="128.92" cy="1236.43" r="2.55" fill="#FF0000"/>
<circle cx="111.2" cy="1222.51" r="2.55" fill="#FF0000"/>
<circle cx="186.52" cy="1189.47" r="2.55" fill="#FF0000"/>
<circle cx="240.95" cy="1207.19" r="2.55" fill="#0000FF"/>
<circle cx="191.58" cy="1292.38" r="2.55" fill="#FF0000"/>
<circle cx="169.43" cy="1259.85" r="2.55" fill="#0000FF"/>
<circle cx="188.42" cy="1202.51" r="2.55" fill="#0000FF"/>
<circle cx="221.96" cy="1156.94" r="2.55" fill="#0000FF"/>
<circle cx="211.84" cy="1272.76" r="2.55" fill="#0000FF"/>
<circle cx="167.53" cy="1150.99" r="2.55" fill="#FF0000"/>
<circle cx="226.77" cy="1170.61" r="2.55" fill="#0000FF"/>
<circle cx="284.11" cy="1316.52" r="2.55" fill="#0000FF"/>
<circle cx="223.23" cy="1182" r="2.55" fill="#0000FF"/>
<circle cx="166.9" cy="1234.78" r="2.55" fill="#FF0000"/>
<circle cx="154.24" cy="1248.71" r="2.55" fill="#FF0000"/>
<circle cx="176.39" cy="1195.54" r="2.55" fill="#FF0000"/>
<circle cx="213.1" cy="1282.25" r="2.55" fill="#0000FF"/>
<circle cx="258.67" cy="1202.76" r="2.55" fill="#0000FF"/>
<circle cx="141.58" cy="1291.49" r="2.55" fill="#FF0000"/>
<circle cx="188.42" cy="1273.77" r="2.55" fill="#0000FF"/>
<circle cx="195.38" cy="1224.03" r="2.55" fill="#0000FF"/>
<circle cx="209.3" cy="1228.46" r="2.55" fill="#0000FF"/>
<circle cx="152.34" cy="1246.81" r="2.55" fill="#FF0000"/>
<circle cx="161.2" cy="1296.18" r="2.55" fill="#FF0000"/>
<circle cx="158.67" cy="1208.84" r="2.55" fill="#0000FF"/>
<circle cx="182.09" cy="1169.59" r="2.55" fill="#FF0000"/>
<circle cx="170.7" cy="1224.03" r="2.55" fill="#FF0000"/>
<circle cx="215.63" cy="1256.3" r="2.55" fill="#0000FF"/>
<circle cx="172.59" cy="1208.2" r="2.55" fill="#0000FF"/>
<circle cx="178.04" cy="1145.8" r="2.55" fill="#FF0000"/>
<circle cx="196.65" cy="1150.99" r="2.55" fill="#FF0000"/>
<circle cx="310.13" cy="1322.22" r="2.55" fill="#0000FF"/>
<circle cx="198.54" cy="1182.25" r="2.55" fill="#FF0000"/>
<circle cx="181.46" cy="1312" r="2.55" fill="#0000FF"/>
<circle cx="93.86" cy="1311.75" r="2.55" fill="#FF0000"/>
<circle cx="215" cy="1213.27" r="2.55" fill="#0000FF"/>
<circle cx="172.59" cy="1196.18" r="2.55" fill="#FF0000"/>
<circle cx="163.73" cy="1262.63" r="2.55" fill="#FF0000"/>
<circle cx="80.82" cy="1310.99" r="2.55" fill="#FF0000"/>
<circle cx="187.78" cy="1261.62" r="2.55" fill="#FF0000"/>
<circle cx="144.11" cy="1263.27" r="2.55" fill="#FF0000"/>
<circle cx="232.09" cy="1175.29" r="2.55" fill="#0000FF"/>
<circle cx="236.14" cy="1284.78" r="2.55" fill="#0000FF"/>
<circle cx="209.94" cy="1275.29" r="2.55" fill="#0000FF"/>
<circle cx="213.1" cy="1135.42" r="2.55" fill="#0000FF"/>
<circle cx="144.75" cy="1191.75" r="2.55" fill="#FF0000"/>
<circle cx="141.58" cy="1302.51" r="2.55" fill="#0000FF"/>
<circle cx="166.27" cy="1262.63" r="2.55" fill="#FF0000"/>
<circle cx="197.91" cy="1274.03" r="2.55" fill="#0000FF"/>
<circle cx="259.3" cy="1218.96" r="2.55" fill="#0000FF"/>
<circle cx="309.33" cy="1298.08" r="2.55" fill="#0000FF"/>
<circle cx="250.06" cy="1185.67" r="2.55" fill="#0000FF"/>
<circle cx="143.48" cy="1281.62" r="2.55" fill="#FF0000"/>
<circle cx="142.22" cy="1251.87" r="2.55" fill="#FF0000"/>
<circle cx="177.66" cy="1291.75" r="2.55" fill="#0000FF"/>
<circle cx="215" cy="1159.85" r="2.55" fill="#FF0000"/>
<circle cx="180.19" cy="1256.05" r="2.55" fill="#0000FF"/>
<circle cx="159.3" cy="1191.11" r="2.55" fill="#FF0000"/>
<circle cx="199.18" cy="1258.58" r="2.55" fill="#FF0000"/>
<circle cx="182.09" cy="1138.2" r="2.55" fill="#FF0000"/>
<circle cx="238.42" cy="1166.43" r="2.55" fill="#0000FF"/>
<circle cx="216.27" cy="1170.61" r="2.55" fill="#FF0000"/>
<circle cx="155.51" cy="1256.3" r="2.55" fill="#FF0000"/>
<circle cx="224.49" cy="1215.8" r="2.55" fill="#0000FF"/>
<circle cx="208.67" cy="1177.82" r="2.55" fill="#0000FF"/>
<circle cx="90.95" cy="1241.75" r="2.55" fill="#FF0000"/>
<circle cx="182.72" cy="1206.94" r="2.55" fill="#FF0000"/>
<circle cx="76.14" cy="1298.08" r="2.55" fill="#FF0000"/>
<circle cx="146.65" cy="1199.09" r="2.55" fill="#FF0000"/>
<circle cx="202.97" cy="1174.03" r="2.55" fill="#0000FF"/>
<circle cx="203.61" cy="1247.44" r="2.55" fill="#FF0000"/>
<circle cx="189.68" cy="1179.09" r="2.55" fill="#FF0000"/>
<circle cx="195.13" cy="1181.87" r="2.55" fill="#0000FF"/>
<circle cx="133.99" cy="1300.35" r="2.55" fill="#FF0000"/>
<circle cx="311.8" cy="1277.42" r="2.55" fill="#0000FF"/>
<circle cx="192.59" cy="1147.44" r="2.55" fill="#FF0000"/>
<circle cx="184.62" cy="1281.37" r="2.55" fill="#0000FF"/>
<circle cx="91.58" cy="1280.99" r="2.55" fill="#FF0000"/>
<circle cx="171.33" cy="1217.7" r="2.55" fill="#FF0000"/>
<circle cx="154.24" cy="1262" r="2.55" fill="#FF0000"/>
<circle cx="206.77" cy="1171.49" r="2.55" fill="#FF0000"/>
<circle cx="180.19" cy="1200.61" r="2.55" fill="#FF0000"/>
<circle cx="201.08" cy="1160.1" r="2.55" fill="#FF0000"/>
<circle cx="145.63" cy="1151.62" r="2.55" fill="#FF0000"/>
<circle cx="255.13" cy="1166.68" r="2.55" fill="#0000FF"/>
<circle cx="180.82" cy="1253.77" r="2.55" fill="#0000FF"/>
<circle cx="187.15" cy="1208.84" r="2.55" fill="#0000FF"/>
<circle cx="162.47" cy="1178.84" r="2.55" fill="#FF0000"/>
<circle cx="221.96" cy="1208.2" r="2.55" fill="#0000FF"/>
<circle cx="115" cy="1246.18" r="2.55" fill="#FF0000"/>
<circle cx="148.54" cy="1220.86" r="2.55" fill="#FF0000"/>
<circle cx="146.01" cy="1213.9" r="2.55" fill="#FF0000"/>
<circle cx="194.75" cy="1208.2" r="2.55" fill="#0000FF"/>
<circle cx="208.04" cy="1200.35" r="2.55" fill="#FF0000"/>
<circle cx="174.49" cy="1253.14" r="2.55" fill="#FF0000"/>
<circle cx="318.8" cy="1298.94" r="2.55" fill="#0000FF"/>
<circle cx="128.29" cy="1244.66" r="2.55" fill="#FF0000"/>
<circle cx="206.14" cy="1227.82" r="2.55" fill="#0000FF"/>
<circle cx="240.95" cy="1186.05" r="2.55" fill="#0000FF"/>
<circle cx="204.87" cy="1209.47" r="2.55" fill="#0000FF"/>
<circle cx="234.37" cy="1279.72" r="2.55" fill="#0000FF"/>
<circle cx="194.11" cy="1292.38" r="2.55" fill="#0000FF"/>
<circle cx="192.85" cy="1199.34" r="2.55" fill="#0000FF"/>
<circle cx="191.58" cy="1256.05" r="2.55" fill="#0000FF"/>
<circle cx="256.14" cy="1253.77" r="2.55" fill="#0000FF"/>
<circle cx="193.48" cy="1204.41" r="2.55" fill="#FF0000"/>
<circle cx="194.11" cy="1195.54" r="2.55" fill="#0000FF"/>
<circle cx="190.32" cy="1183.52" r="2.55" fill="#0000FF"/>
<circle cx="211.2" cy="1163.9" r="2.55" fill="#0000FF"/>
<circle cx="201.71" cy="1185.16" r="2.55" fill="#FF0000"/>
<circle cx="163.1" cy="1232.25" r="2.55" fill="#FF0000"/>
<circle cx="220.7" cy="1191.11" r="2.55" fill="#0000FF"/>
<circle cx="215" cy="1164.28" r="2.55" fill="#0000FF"/>
<circle cx="207.41" cy="1264.28" r="2.55" fill="#0000FF"/>
<circle cx="138.67" cy="1176.81" r="2.55" fill="#FF0000"/>
<circle cx="297.41" cy="1320.32" r="2.55" fill="#0000FF"/>
<circle cx="158.67" cy="1224.03" r="2.55" fill="#FF0000"/>
<circle cx="159.3" cy="1248.96" r="2.55" fill="#FF0000"/>
<circle cx="165" cy="1237.32" r="2.55" fill="#FF0000"/>
<circle cx="181.2" cy="1151.62" r="2.55" fill="#FF0000"/>
<circle cx="228.29" cy="1215.16" r="2.55" fill="#0000FF"/>
<circle cx="251.33" cy="1257.57" r="2.55" fill="#0000FF"/>
<circle cx="233.35" cy="1269.59" r="2.55" fill="#0000FF"/>
<circle cx="184.62" cy="1247.19" r="2.55" fill="#FF0000"/>
<circle cx="208.67" cy="1195.8" r="2.55" fill="#0000FF"/>
<circle cx="161.46" cy="1199.59" r="2.55" fill="#FF0000"/>
<circle cx="238.16" cy="1157.82" r="2.55" fill="#0000FF"/>
<circle cx="120.7" cy="1251.87" r="2.55" fill="#FF0000"/>
<circle cx="164.37" cy="1236.68" r="2.55" fill="#FF0000"/>
<circle cx="168.16" cy="1144.66" r="2.55" fill="#FF0000"/>
<circle cx="194.11" cy="1173.39" r="2.55" fill="#0000FF"/>
<circle cx="128.92" cy="1242.38" r="2.55" fill="#FF0000"/>
<circle cx="182.09" cy="1218.33" r="2.55" fill="#FF0000"/>
<circle cx="200.44" cy="1194.28" r="2.55" fill="#0000FF"/>
<circle cx="178.29" cy="1193.01" r="2.55" fill="#0000FF"/>
<circle cx="139.68" cy="1299.09" r="2.55" fill="#FF0000"/>
<circle cx="139.43" cy="1210.1" r="2.55" fill="#FF0000"/>
<circle cx="149.18" cy="1205.67" r="2.55" fill="#FF0000"/>
<circle cx="159.68" cy="1259.85" r="2.55" fill="#0000FF"/>
<circle cx="218.16" cy="1203.77" r="2.55" fill="#FF0000"/>
<circle cx="185.25" cy="1236.68" r="2.55" fill="#FF0000"/>
<circle cx="255.51" cy="1233.27" r="2.55" fill="#0000FF"/>
<circle cx="202.34" cy="1163.65" r="2.55" fill="#0000FF"/>
<circle cx="213.73" cy="1304.41" r="2.55" fill="#0000FF"/>
<circle cx="216.27" cy="1177.19" r="2.55" fill="#0000FF"/>
<circle cx="228.29" cy="1223.39" r="2.55" fill="#0000FF"/>
<circle cx="161.2" cy="1228.46" r="2.55" fill="#FF0000"/>
<circle cx="205.25" cy="1301.24" r="2.55" fill="#0000FF"/>
<circle cx="236.52" cy="1173.39" r="2.55" fill="#0000FF"/>
<circle cx="322.03" cy="1265.8" r="2.55" fill="#0000FF"/>
<circle cx="228.29" cy="1253.14" r="2.55" fill="#0000FF"/>
<circle cx="175.51" cy="1333.61" r="2.55" fill="#FF0000"/>
<circle cx="119.43" cy="1230.73" r="2.55" fill="#FF0000"/>
<circle cx="143.23" cy="1244.66" r="2.55" fill="#0000FF"/>
<circle cx="259.3" cy="1283.9" r="2.55" fill="#0000FF"/>
<circle cx="127.66" cy="1286.68" r="2.55" fill="#FF0000"/>
<circle cx="105.82" cy="1326.96" r="2.55" fill="#FF0000"/>
<circle cx="224.49" cy="1260.73" r="2.55" fill="#0000FF"/>
<circle cx="197.28" cy="1236.05" r="2.55" fill="#0000FF"/>
<circle cx="199.18" cy="1288.96" r="2.55" fill="#0000FF"/>
<circle cx="204.87" cy="1270.23" r="2.55" fill="#FF0000"/>
<circle cx="195.38" cy="1191.11" r="2.55" fill="#FF0000"/>
<circle cx="167.53" cy="1175.29" r="2.55" fill="#FF0000"/>
<circle cx="206.14" cy="1213.9" r="2.55" fill="#0000FF"/>
<circle cx="200.44" cy="1251.24" r="2.55" fill="#0000FF"/>
<circle cx="224.49" cy="1204.41" r="2.55" fill="#0000FF"/>
<circle cx="112.47" cy="1228.84" r="2.55" fill="#FF0000"/>
<circle cx="242.47" cy="1199.34" r="2.55" fill="#0000FF"/>
<circle cx="214.11" cy="1199.34" r="2.55" fill="#FF0000"/>
<circle cx="205.51" cy="1191.11" r="2.55" fill="#FF0000"/>
<circle cx="140.95" cy="1263.9" r="2.55" fill="#FF0000"/>
<circle cx="199.81" cy="1166.43" r="2.55" fill="#FF0000"/>
<circle cx="231.33" cy="1353.54" r="2.55" fill="#0000FF"/>
<circle cx="321.81" cy="1290.87" r="2.55" fill="#0000FF"/>
<circle cx="247.66" cy="1137.32" r="2.55" fill="#0000FF"/>
<circle cx="160.95" cy="1186.94" r="2.55" fill="#FF0000"/>
<circle cx="154.87" cy="1288.2" r="2.55" fill="#FF0000"/>
<circle cx="211.2" cy="1263.9" r="2.55" fill="#0000FF"/>
<circle cx="216.27" cy="1220.23" r="2.55" fill="#0000FF"/>
<circle cx="161.84" cy="1271.49" r="2.55" fill="#0000FF"/>
<circle cx="97.28" cy="1274.03" r="2.55" fill="#FF0000"/>
<circle cx="170.06" cy="1210.1" r="2.55" fill="#FF0000"/>
<circle cx="230.57" cy="1140.48" r="2.55" fill="#0000FF"/>
<circle cx="181.46" cy="1273.01" r="2.55" fill="#FF0000"/>
<circle cx="213.1" cy="1240.1" r="2.55" fill="#0000FF"/>
<circle cx="250.44" cy="1277.82" r="2.55" fill="#0000FF"/>
<circle cx="183.99" cy="1201.24" r="2.55" fill="#FF0000"/>
<circle cx="206.14" cy="1275.92" r="2.55" fill="#0000FF"/>
<circle cx="145.63" cy="1172.38" r="2.55" fill="#FF0000"/>
<circle cx="239.68" cy="1245.54" r="2.55" fill="#0000FF"/>
<circle cx="230.82" cy="1224.66" r="2.55" fill="#0000FF"/>
<circle cx="167.53" cy="1196.18" r="2.55" fill="#FF0000"/>
<circle cx="170.06" cy="1256.05" r="2.55" fill="#FF0000"/>
<circle cx="187.15" cy="1235.42" r="2.55" fill="#FF0000"/>
<circle cx="194.75" cy="1305.67" r="2.55" fill="#FF0000"/>
<circle cx="218.8" cy="1229.47" r="2.55" fill="#FF0000"/>
<circle cx="292.66" cy="1346.71" r="2.55" fill="#0000FF"/>
<circle cx="108.67" cy="1252.76" r="2.55" fill="#FF0000"/>
<circle cx="187.78" cy="1178.08" r="2.55" fill="#FF0000"/>
<circle cx="171.96" cy="1229.72" r="2.55" fill="#FF0000"/>
<circle cx="196.01" cy="1165.8" r="2.55" fill="#0000FF"/>
<circle cx="167.53" cy="1225.29" r="2.55" fill="#0000FF"/>
<circle cx="180.19" cy="1228.46" r="2.55" fill="#FF0000"/>
<circle cx="171.96" cy="1218.08" r="2.55" fill="#0000FF"/>
<circle cx="140.95" cy="1267.06" r="2.55" fill="#FF0000"/>
<circle cx="139.68" cy="1221.87" r="2.55" fill="#FF0000"/>
<circle cx="244.11" cy="1306.68" r="2.55" fill="#0000FF"/>
<circle cx="167.53" cy="1179.09" r="2.55" fill="#0000FF"/>
<circle cx="99.43" cy="1224.28" r="2.55" fill="#FF0000"/>
<circle cx="171.33" cy="1203.14" r="2.55" fill="#FF0000"/>
<circle cx="158.04" cy="1229.97" r="2.55" fill="#0000FF"/>
<circle cx="204.24" cy="1264.53" r="2.55" fill="#FF0000"/>
<circle cx="230.19" cy="1192" r="2.55" fill="#0000FF"/>
<circle cx="175.13" cy="1174.41" r="2.55" fill="#FF0000"/>
<circle cx="196.65" cy="1187.95" r="2.55" fill="#FF0000"/>
<circle cx="175.13" cy="1223.14" r="2.55" fill="#FF0000"/>
<circle cx="202.34" cy="1207.57" r="2.55" fill="#0000FF"/>
<circle cx="117.53" cy="1197.06" r="2.55" fill="#FF0000"/>
<circle cx="211.84" cy="1219.34" r="2.55" fill="#0000FF"/>
<circle cx="221.33" cy="1249.97" r="2.55" fill="#0000FF"/>
<circle cx="233.35" cy="1169.97" r="2.55" fill="#0000FF"/>
<circle cx="214.62" cy="1155.67" r="2.55" fill="#0000FF"/>
<circle cx="159.94" cy="1166.68" r="2.55" fill="#FF0000"/>
<circle cx="184.62" cy="1198.08" r="2.55" fill="#FF0000"/>
<circle cx="180.19" cy="1242.38" r="2.55" fill="#FF0000"/>
<circle cx="190.06" cy="1156.56" r="2.55" fill="#FF0000"/>
<circle cx="149.56" cy="1298.46" r="2.55" fill="#FF0000"/>
<circle cx="171.96" cy="1183.52" r="2.55" fill="#FF0000"/>
<circle cx="332.57" cy="1303.78" r="2.55" fill="#0000FF"/>
<circle cx="198.54" cy="1210.1" r="2.55" fill="#FF0000"/>
<circle cx="182.72" cy="1241.11" r="2.55" fill="#0000FF"/>
<circle cx="142.85" cy="1217.7" r="2.55" fill="#FF0000"/>
<circle cx="132.97" cy="1205.04" r="2.55" fill="#FF0000"/>
<circle cx="218.16" cy="1255.67" r="2.55" fill="#0000FF"/>
<circle cx="235.7" cy="1333.61" r="2.55" fill="#0000FF"/>
<circle cx="125.51" cy="1205.42" r="2.55" fill="#FF0000"/>
<circle cx="218.16" cy="1173.39" r="2.55" fill="#0000FF"/>
<circle cx="83.99" cy="1244.66" r="2.55" fill="#FF0000"/>
<circle cx="211.2" cy="1248.46" r="2.55" fill="#FF0000"/>
<circle cx="182.09" cy="1189.22" r="2.55" fill="#FF0000"/>
<circle cx="132.72" cy="1185.8" r="2.55" fill="#FF0000"/>
<circle cx="323.1" cy="1267.41" r="2.55" fill="#0000FF"/>
<circle cx="155.51" cy="1237.95" r="2.55" fill="#FF0000"/>
<circle cx="204.87" cy="1149.34" r="2.55" fill="#0000FF"/>
<circle cx="131.08" cy="1248.2" r="2.55" fill="#0000FF"/>
<circle cx="209.56" cy="1160.73" r="2.55" fill="#0000FF"/>
<circle cx="148.54" cy="1282.25" r="2.55" fill="#FF0000"/>
<circle cx="289.75" cy="1289.47" r="2.55" fill="#0000FF"/>
<circle cx="147.28" cy="1280.35" r="2.55" fill="#FF0000"/>
<circle cx="196.01" cy="1280.35" r="2.55" fill="#FF0000"/>
<circle cx="206.77" cy="1179.97" r="2.55" fill="#0000FF"/>
<circle cx="194.11" cy="1184.15" r="2.55" fill="#FF0000"/>
<circle cx="201.08" cy="1175.29" r="2.55" fill="#FF0000"/>
<circle cx="197.91" cy="1228.46" r="2.55" fill="#FF0000"/>
<circle cx="235.25" cy="1264.91" r="2.55" fill="#0000FF"/>
<circle cx="202.72" cy="1122.76" r="2.55" fill="#FF0000"/>
<circle cx="241.58" cy="1273.01" r="2.55" fill="#0000FF"/>
<circle cx="227.03" cy="1167.7" r="2.55" fill="#0000FF"/>
<circle cx="211.2" cy="1232" r="2.55" fill="#0000FF"/>
<circle cx="221.33" cy="1231.62" r="2.55" fill="#0000FF"/>
<circle cx="221.96" cy="1222.13" r="2.55" fill="#0000FF"/>
<circle cx="178.92" cy="1207.57" r="2.55" fill="#FF0000"/>
<circle cx="261.2" cy="1297.06" r="2.55" fill="#0000FF"/>
<circle cx="218.8" cy="1195.54" r="2.55" fill="#0000FF"/>
<circle cx="252.97" cy="1294.03" r="2.55" fill="#0000FF"/>
<circle cx="166.9" cy="1290.73" r="2.55" fill="#FF0000"/>
<circle cx="134.3" cy="1339.49" r="2.55" fill="#FF0000"/>
<circle cx="177.66" cy="1184.78" r="2.55" fill="#FF0000"/>
<circle cx="148.29" cy="1193.65" r="2.55" fill="#FF0000"/>
<circle cx="170.06" cy="1288.58" r="2.55" fill="#0000FF"/>
<circle cx="284.91" cy="1210.13" r="2.55" fill="#0000FF"/>
<circle cx="312.34" cy="1286.03" r="2.55" fill="#0000FF"/>
<circle cx="181.46" cy="1224.03" r="2.55" fill="#FF0000"/>
<circle cx="126.14" cy="1236.05" r="2.55" fill="#FF0000"/>
<circle cx="195.13" cy="1237.95" r="2.55" fill="#0000FF"/>
<circle cx="235.25" cy="1213.52" r="2.55" fill="#0000FF"/>
<circle cx="155.89" cy="1258.58" r="2.55" fill="#0000FF"/>
<circle cx="181.46" cy="1232" r="2.55" fill="#0000FF"/>
<circle cx="140.95" cy="1227.82" r="2.55" fill="#FF0000"/>
<circle cx="152.34" cy="1303.14" r="2.55" fill="#FF0000"/>
<circle cx="135.25" cy="1244.03" r="2.55" fill="#FF0000"/>
<circle cx="169.43" cy="1264.15" r="2.55" fill="#FF0000"/>
<circle cx="214.81" cy="1328.1" r="2.55" fill="#0000FF"/>
<circle cx="142.47" cy="1255.67" r="2.55" fill="#FF0000"/>
<circle cx="232.09" cy="1286.68" r="2.55" fill="#0000FF"/>
<circle cx="202.66" cy="1351.65" r="2.55" fill="#0000FF"/>
<circle cx="189.05" cy="1139.59" r="2.55" fill="#FF0000"/>
<circle cx="90.32" cy="1295.29" r="2.55" fill="#FF0000"/>
<circle cx="183.35" cy="1180.61" r="2.55" fill="#0000FF"/>
<circle cx="145.38" cy="1201.24" r="2.55" fill="#FF0000"/>
<circle cx="228.29" cy="1163.9" r="2.55" fill="#0000FF"/>
<circle cx="109.05" cy="1232.51" r="2.55" fill="#FF0000"/>
<circle cx="180.19" cy="1180.35" r="2.55" fill="#0000FF"/>
<circle cx="152.34" cy="1253.77" r="2.55" fill="#FF0000"/>
<circle cx="225.13" cy="1237.32" r="2.55" fill="#0000FF"/>
<circle cx="202.34" cy="1226.56" r="2.55" fill="#FF0000"/>
<circle cx="161.2" cy="1217.06" r="2.55" fill="#FF0000"/>
<circle cx="123.23" cy="1249.97" r="2.55" fill="#FF0000"/>
<circle cx="185.89" cy="1217.06" r="2.55" fill="#FF0000"/>
<circle cx="145.38" cy="1229.72" r="2.55" fill="#FF0000"/>
<circle cx="191.58" cy="1221.87" r="2.55" fill="#FF0000"/>
<circle cx="197.91" cy="1248.71" r="2.55" fill="#0000FF"/>
<circle cx="225.25" cy="1341.39" r="2.55" fill="#0000FF"/>
<circle cx="171.96" cy="1178.46" r="2.55" fill="#FF0000"/>
<circle cx="117.53" cy="1194.91" r="2.55" fill="#FF0000"/>
<circle cx="187.15" cy="1262.63" r="2.55" fill="#FF0000"/>
<circle cx="177.66" cy="1191.11" r="2.55" fill="#FF0000"/>
<circle cx="157.41" cy="1202.89" r="2.55" fill="#FF0000"/>
<circle cx="210.57" cy="1245.54" r="2.55" fill="#0000FF"/>
<circle cx="208.67" cy="1241.75" r="2.55" fill="#FF0000"/>
<circle cx="197.91" cy="1191.11" r="2.55" fill="#0000FF"/>
<circle cx="202.72" cy="1144.66" r="2.55" fill="#0000FF"/>
<circle cx="194.11" cy="1259.85" r="2.55" fill="#FF0000"/>
<circle cx="228.29" cy="1284.78" r="2.55" fill="#0000FF"/>
<circle cx="133.99" cy="1175.54" r="2.55" fill="#FF0000"/>
<circle cx="171.33" cy="1236.68" r="2.55" fill="#FF0000"/>
<circle cx="148.54" cy="1229.72" r="2.55" fill="#FF0000"/>
<circle cx="176.39" cy="1218.58" r="2.55" fill="#0000FF"/>
<circle cx="285.23" cy="1292.16" r="2.55" fill="#0000FF"/>
<circle cx="242.85" cy="1266.43" r="2.55" fill="#0000FF"/>
<circle cx="213.1" cy="1148.96" r="2.55" fill="#FF0000"/>
<circle cx="239.05" cy="1189.85" r="2.55" fill="#0000FF"/>
<circle cx="226.77" cy="1269.97" r="2.55" fill="#0000FF"/>
<circle cx="163.1" cy="1219.59" r="2.55" fill="#FF0000"/>
<circle cx="154.24" cy="1271.75" r="2.55" fill="#FF0000"/>
<circle cx="225.76" cy="1225.92" r="2.55" fill="#0000FF"/>
<circle cx="215" cy="1223.39" r="2.55" fill="#0000FF"/>
<circle cx="199.81" cy="1330.76" r="2.55" fill="#0000FF"/>
<circle cx="199.81" cy="1218.33" r="2.55" fill="#FF0000"/>
<circle cx="168.16" cy="1201.87" r="2.55" fill="#0000FF"/>
<circle cx="204.49" cy="1156.05" r="2.55" fill="#FF0000"/>
<circle cx="243.73" cy="1222.51" r="2.55" fill="#0000FF"/>
<circle cx="216.9" cy="1174.03" r="2.55" fill="#FF0000"/>
<circle cx="129.56" cy="1276.3" r="2.55" fill="#FF0000"/>
<circle cx="183.1" cy="1321.84" r="2.55" fill="#0000FF"/>
<circle cx="157.41" cy="1171.75" r="2.55" fill="#FF0000"/>
<circle cx="225.76" cy="1257.57" r="2.55" fill="#0000FF"/>
<circle cx="209.94" cy="1143.01" r="2.55" fill="#0000FF"/>
<circle cx="199.81" cy="1234.53" r="2.55" fill="#0000FF"/>
<circle cx="167.53" cy="1251.24" r="2.55" fill="#0000FF"/>
<circle cx="143.23" cy="1273.77" r="2.55" fill="#FF0000"/>
<circle cx="232.72" cy="1253.77" r="2.55" fill="#0000FF"/>
<circle cx="131.46" cy="1222.51" r="2.55" fill="#FF0000"/>
<circle cx="225.76" cy="1180.35" r="2.55" fill="#0000FF"/>
<circle cx="224.49" cy="1224.66" r="2.55" fill="#0000FF"/>
<circle cx="201.71" cy="1245.92" r="2.55" fill="#0000FF"/>
<circle cx="167.28" cy="1159.22" r="2.55" fill="#FF0000"/>
<circle cx="519.71" cy="1244.24" r="2.55" fill="#FF0000"/>
<circle cx="568.06" cy="1144.62" r="2.55" fill="#FF0000"/>
<circle cx="559.84" cy="1250.95" r="2.55" fill="#FF0000"/>
<circle cx="650.34" cy="1246.27" r="2.55" fill="#FF0000"/>
<circle cx="576.67" cy="1235.13" r="2.55" fill="#0000FF"/>
<circle cx="580.47" cy="1312.97" r="2.55" fill="#0000FF"/>
<circle cx="587.68" cy="1232.34" r="2.55" fill="#FF0000"/>
<circle cx="514.9" cy="1202.22" r="2.55" fill="#FF0000"/>
<circle cx="552.24" cy="1138.29" r="2.55" fill="#FF0000"/>
<circle cx="613.63" cy="1315.13" r="2.55" fill="#0000FF"/>
<circle cx="622.24" cy="1230.7" r="2.55" fill="#FF0000"/>
<circle cx="486.42" cy="1219.68" r="2.55" fill="#FF0000"/>
<circle cx="545.28" cy="1135.13" r="2.55" fill="#FF0000"/>
<circle cx="545.91" cy="1213.61" r="2.55" fill="#FF0000"/>
<circle cx="656.04" cy="1223.73" r="2.55" fill="#FF0000"/>
<circle cx="547.18" cy="1174.11" r="2.55" fill="#FF0000"/>
<circle cx="607.94" cy="1192.72" r="2.55" fill="#FF0000"/>
<circle cx="609.2" cy="1237.66" r="2.55" fill="#FF0000"/>
<circle cx="575.41" cy="1285.76" r="2.55" fill="#0000FF"/>
<circle cx="656.04" cy="1275" r="2.55" fill="#0000FF"/>
<circle cx="649.08" cy="1312.09" r="2.55" fill="#0000FF"/>
<circle cx="549.08" cy="1142.72" r="2.55" fill="#FF0000"/>
<circle cx="516.8" cy="1239.3" r="2.55" fill="#FF0000"/>
<circle cx="611.1" cy="1311.71" r="2.55" fill="#0000FF"/>
<circle cx="544.01" cy="1289.56" r="2.55" fill="#0000FF"/>
<circle cx="670.7" cy="1193.86" r="2.55" fill="#FF0000"/>
<circle cx="540.47" cy="1275.63" r="2.55" fill="#0000FF"/>
<circle cx="499.71" cy="1272.85" r="2.55" fill="#0000FF"/>
<circle cx="598.19" cy="1352.97" r="2.55" fill="#0000FF"/>
<circle cx="526.92" cy="1209.18" r="2.55" fill="#FF0000"/>
<circle cx="575.66" cy="1231.08" r="2.55" fill="#FF0000"/>
<circle cx="563.25" cy="1329.24" r="2.55" fill="#0000FF"/>
<circle cx="529.84" cy="1322.47" r="2.55" fill="#0000FF"/>
<circle cx="657.3" cy="1278.16" r="2.55" fill="#0000FF"/>
<circle cx="670.7" cy="1289.3" r="2.55" fill="#FF0000"/>
<circle cx="644.01" cy="1273.1" r="2.55" fill="#0000FF"/>
<circle cx="550.34" cy="1307.91" r="2.55" fill="#0000FF"/>
<circle cx="606.29" cy="1299.05" r="2.55" fill="#FF0000"/>
<circle cx="473.76" cy="1218.92" r="2.55" fill="#FF0000"/>
<circle cx="573.13" cy="1237.66" r="2.55" fill="#0000FF"/>
<circle cx="684.37" cy="1234.62" r="2.55" fill="#FF0000"/>
<circle cx="673.73" cy="1188.29" r="2.55" fill="#FF0000"/>
<circle cx="527.18" cy="1339.68" r="2.55" fill="#0000FF"/>
<circle cx="506.04" cy="1212.34" r="2.55" fill="#FF0000"/>
<circle cx="606.67" cy="1262.34" r="2.55" fill="#0000FF"/>
<circle cx="618.06" cy="1192.72" r="2.55" fill="#FF0000"/>
<circle cx="606.67" cy="1258.92" r="2.55" fill="#0000FF"/>
<circle cx="528.82" cy="1207.03" r="2.55" fill="#FF0000"/>
<circle cx="562.37" cy="1164.87" r="2.55" fill="#0000FF"/>
<circle cx="624.77" cy="1177.53" r="2.55" fill="#FF0000"/>
<circle cx="503.25" cy="1271.2" r="2.55" fill="#0000FF"/>
<circle cx="653.13" cy="1251.58" r="2.55" fill="#FF0000"/>
<circle cx="509.2" cy="1277.53" r="2.55" fill="#0000FF"/>
<circle cx="662.37" cy="1190.82" r="2.55" fill="#FF0000"/>
<circle cx="578.82" cy="1219.3" r="2.55" fill="#0000FF"/>
<circle cx="602.24" cy="1152.22" r="2.55" fill="#FF0000"/>
<circle cx="577.94" cy="1213.61" r="2.55" fill="#FF0000"/>
<circle cx="591.86" cy="1301.96" r="2.55" fill="#0000FF"/>
<circle cx="527.56" cy="1223.73" r="2.55" fill="#0000FF"/>
<circle cx="562.68" cy="1350.13" r="2.55" fill="#0000FF"/>
<circle cx="500.34" cy="1253.48" r="2.55" fill="#0000FF"/>
<circle cx="642.11" cy="1215.51" r="2.55" fill="#FF0000"/>
<circle cx="686.39" cy="1223.23" r="2.55" fill="#FF0000"/>
<circle cx="565.53" cy="1301.58" r="2.55" fill="#0000FF"/>
<circle cx="534.52" cy="1222.22" r="2.55" fill="#FF0000"/>
<circle cx="513.32" cy="1339.3" r="2.55" fill="#0000FF"/>
<circle cx="605.03" cy="1288.04" r="2.55" fill="#FF0000"/>
<circle cx="529.08" cy="1231.08" r="2.55" fill="#FF0000"/>
<circle cx="661.73" cy="1198.42" r="2.55" fill="#FF0000"/>
<circle cx="501.23" cy="1257.91" r="2.55" fill="#0000FF"/>
<circle cx="561.35" cy="1347.28" r="2.55" fill="#0000FF"/>
<circle cx="568.06" cy="1282.59" r="2.55" fill="#0000FF"/>
<circle cx="599.08" cy="1296.14" r="2.55" fill="#0000FF"/>
<circle cx="525.03" cy="1200.95" r="2.55" fill="#FF0000"/>
<circle cx="571.23" cy="1321.2" r="2.55" fill="#0000FF"/>
<circle cx="589.58" cy="1249.05" r="2.55" fill="#0000FF"/>
<circle cx="632.37" cy="1215.13" r="2.55" fill="#FF0000"/>
<circle cx="564.9" cy="1294.62" r="2.55" fill="#0000FF"/>
<circle cx="542.75" cy="1325.44" r="2.55" fill="#0000FF"/>
<circle cx="646.54" cy="1245.25" r="2.55" fill="#FF0000"/>
<circle cx="661.1" cy="1269.94" r="2.55" fill="#0000FF"/>
<circle cx="514.65" cy="1269.56" r="2.55" fill="#0000FF"/>
<circle cx="635.78" cy="1319.94" r="2.55" fill="#0000FF"/>
<circle cx="553.13" cy="1225.89" r="2.55" fill="#FF0000"/>
<circle cx="661.73" cy="1304.11" r="2.55" fill="#0000FF"/>
<circle cx="652.87" cy="1181.96" r="2.55" fill="#FF0000"/>
<circle cx="635.78" cy="1253.1" r="2.55" fill="#FF0000"/>
<circle cx="549.71" cy="1134.49" r="2.55" fill="#FF0000"/>
<circle cx="668.16" cy="1196.39" r="2.55" fill="#FF0000"/>
<circle cx="545.91" cy="1277.91" r="2.55" fill="#0000FF"/>
<circle cx="511.1" cy="1199.94" r="2.55" fill="#FF0000"/>
<circle cx="507.94" cy="1202.22" r="2.55" fill="#0000FF"/>
<circle cx="625.66" cy="1274.37" r="2.55" fill="#FF0000"/>
<circle cx="530.09" cy="1179.18" r="2.55" fill="#FF0000"/>
<circle cx="545.28" cy="1203.48" r="2.55" fill="#FF0000"/>
<circle cx="624.39" cy="1234.49" r="2.55" fill="#FF0000"/>
<circle cx="569.33" cy="1151.58" r="2.55" fill="#FF0000"/>
<circle cx="521.86" cy="1198.42" r="2.55" fill="#FF0000"/>
<circle cx="549.08" cy="1286.77" r="2.55" fill="#0000FF"/>
<circle cx="550.34" cy="1213.86" r="2.55" fill="#0000FF"/>
<circle cx="542.49" cy="1144.62" r="2.55" fill="#FF0000"/>
<circle cx="717.99" cy="1240.19" r="2.55" fill="#FF0000"/>
<circle cx="613.63" cy="1240.19" r="2.55" fill="#FF0000"/>
<circle cx="615.91" cy="1186.77" r="2.55" fill="#FF0000"/>
<circle cx="678.09" cy="1244.44" r="2.55" fill="#FF0000"/>
<circle cx="505.78" cy="1194.62" r="2.55" fill="#0000FF"/>
<circle cx="613" cy="1161.96" r="2.55" fill="#FF0000"/>
<circle cx="564.9" cy="1228.8" r="2.55" fill="#FF0000"/>
<circle cx="543.38" cy="1323.1" r="2.55" fill="#0000FF"/>
<circle cx="624.01" cy="1181.33" r="2.55" fill="#FF0000"/>
<circle cx="547.18" cy="1273.73" r="2.55" fill="#0000FF"/>
<circle cx="572.18" cy="1333.04" r="2.55" fill="#0000FF"/>
<circle cx="567.43" cy="1333.61" r="2.55" fill="#0000FF"/>
<circle cx="657.94" cy="1227.53" r="2.55" fill="#FF0000"/>
<circle cx="538.95" cy="1245.25" r="2.55" fill="#0000FF"/>
<circle cx="646.54" cy="1312.34" r="2.55" fill="#0000FF"/>
<circle cx="561.1" cy="1225.25" r="2.55" fill="#FF0000"/>
<circle cx="527.56" cy="1180.06" r="2.55" fill="#FF0000"/>
<circle cx="647.18" cy="1281.96" r="2.55" fill="#0000FF"/>
<circle cx="524.14" cy="1174.11" r="2.55" fill="#0000FF"/>
<circle cx="624.39" cy="1237.41" r="2.55" fill="#FF0000"/>
<circle cx="691.96" cy="1231.58" r="2.55" fill="#FF0000"/>
<circle cx="660.15" cy="1344.09" r="2.55" fill="#0000FF"/>
<circle cx="516.8" cy="1322.22" r="2.55" fill="#0000FF"/>
<circle cx="535.78" cy="1149.05" r="2.55" fill="#FF0000"/>
<circle cx="499.46" cy="1250.32" r="2.55" fill="#0000FF"/>
<circle cx="646.54" cy="1278.8" r="2.55" fill="#0000FF"/>
<circle cx="517.68" cy="1202.85" r="2.55" fill="#0000FF"/>
<circle cx="520.59" cy="1223.1" r="2.55" fill="#0000FF"/>
<circle cx="558.57" cy="1138.92" r="2.55" fill="#FF0000"/>
<circle cx="641.48" cy="1199.05" r="2.55" fill="#FF0000"/>
<circle cx="549.08" cy="1270.32" r="2.55" fill="#0000FF"/>
<circle cx="580.47" cy="1275.38" r="2.55" fill="#0000FF"/>
<circle cx="547.81" cy="1212.34" r="2.55" fill="#FF0000"/>
<circle cx="531.99" cy="1248.16" r="2.55" fill="#0000FF"/>
<circle cx="586.42" cy="1339.68" r="2.55" fill="#0000FF"/>
<circle cx="583.51" cy="1265.51" r="2.55" fill="#0000FF"/>
<circle cx="510.47" cy="1217.15" r="2.55" fill="#0000FF"/>
<circle cx="716.77" cy="1237.15" r="2.55" fill="#FF0000"/>
<circle cx="671.43" cy="1337.59" r="2.55" fill="#0000FF"/>
<circle cx="658.19" cy="1284.24" r="2.55" fill="#0000FF"/>
<circle cx="561.73" cy="1194.62" r="2.55" fill="#FF0000"/>
<circle cx="564.58" cy="1340.63" r="2.55" fill="#0000FF"/>
<circle cx="581.99" cy="1216.14" r="2.55" fill="#FF0000"/>
<circle cx="542.11" cy="1192.09" r="2.55" fill="#FF0000"/>
<circle cx="659.84" cy="1194.62" r="2.55" fill="#FF0000"/>
<circle cx="538.32" cy="1199.94" r="2.55" fill="#FF0000"/>
<circle cx="556.04" cy="1287.03" r="2.55" fill="#0000FF"/>
<circle cx="534.52" cy="1149.68" r="2.55" fill="#0000FF"/>
<circle cx="518.44" cy="1335.51" r="2.55" fill="#0000FF"/>
<circle cx="684.87" cy="1201.15" r="2.55" fill="#FF0000"/>
<circle cx="652.24" cy="1290.82" r="2.55" fill="#0000FF"/>
<circle cx="526.92" cy="1238.04" r="2.55" fill="#FF0000"/>
<circle cx="506.67" cy="1239.94" r="2.55" fill="#0000FF"/>
<circle cx="593.63" cy="1346.9" r="2.55" fill="#0000FF"/>
<circle cx="653.13" cy="1254.11" r="2.55" fill="#0000FF"/>
<circle cx="654.14" cy="1300.7" r="2.55" fill="#0000FF"/>
<circle cx="576.92" cy="1275" r="2.55" fill="#0000FF"/>
<circle cx="580.72" cy="1213.61" r="2.55" fill="#0000FF"/>
<circle cx="583.57" cy="1338.73" r="2.55" fill="#0000FF"/>
<circle cx="590.85" cy="1178.16" r="2.55" fill="#FF0000"/>
<circle cx="620.59" cy="1195.25" r="2.55" fill="#FF0000"/>
<circle cx="524.14" cy="1214.87" r="2.55" fill="#0000FF"/>
<circle cx="666.95" cy="1274.11" r="2.55" fill="#0000FF"/>
<circle cx="522.49" cy="1317.41" r="2.55" fill="#FF0000"/>
<circle cx="596.54" cy="1283.48" r="2.55" fill="#0000FF"/>
<circle cx="603.51" cy="1325.44" r="2.55" fill="#0000FF"/>
<circle cx="496.54" cy="1306.01" r="2.55" fill="#0000FF"/>
<circle cx="537.68" cy="1232.59" r="2.55" fill="#0000FF"/>
<circle cx="661.1" cy="1307.91" r="2.55" fill="#0000FF"/>
<circle cx="617.68" cy="1253.86" r="2.55" fill="#0000FF"/>
<circle cx="547.18" cy="1291.46" r="2.55" fill="#0000FF"/>
<circle cx="566.16" cy="1264.87" r="2.55" fill="#0000FF"/>
<circle cx="664.11" cy="1273.61" r="2.55" fill="#0000FF"/>
<circle cx="603.51" cy="1323.73" r="2.55" fill="#0000FF"/>
<circle cx="667.66" cy="1186.77" r="2.55" fill="#FF0000"/>
<circle cx="546.54" cy="1243.35" r="2.55" fill="#0000FF"/>
<circle cx="522.75" cy="1157.03" r="2.55" fill="#FF0000"/>
<circle cx="540.85" cy="1285.51" r="2.55" fill="#0000FF"/>
<circle cx="644.65" cy="1231.33" r="2.55" fill="#FF0000"/>
<circle cx="590.85" cy="1185.76" r="2.55" fill="#FF0000"/>
<circle cx="669.21" cy="1341.87" r="2.55" fill="#0000FF"/>
<circle cx="504.14" cy="1193.99" r="2.55" fill="#FF0000"/>
<circle cx="581.99" cy="1320.57" r="2.55" fill="#0000FF"/>
<circle cx="561.1" cy="1308.54" r="2.55" fill="#0000FF"/>
<circle cx="540.22" cy="1249.05" r="2.55" fill="#0000FF"/>
<circle cx="619.71" cy="1205.76" r="2.55" fill="#FF0000"/>
<circle cx="552.87" cy="1297.15" r="2.55" fill="#0000FF"/>
<circle cx="498.44" cy="1247.15" r="2.55" fill="#0000FF"/>
<circle cx="531.1" cy="1289.56" r="2.55" fill="#0000FF"/>
<circle cx="623.51" cy="1253.48" r="2.55" fill="#0000FF"/>
<circle cx="539.58" cy="1271.58" r="2.55" fill="#0000FF"/>
<circle cx="558.57" cy="1183.23" r="2.55" fill="#FF0000"/>
<circle cx="537.68" cy="1148.04" r="2.55" fill="#FF0000"/>
<circle cx="559.46" cy="1342.53" r="2.55" fill="#0000FF"/>
<circle cx="591.73" cy="1334.37" r="2.55" fill="#0000FF"/>
<circle cx="715.56" cy="1234.11" r="2.55" fill="#FF0000"/>
<circle cx="595.28" cy="1210.06" r="2.55" fill="#FF0000"/>
<circle cx="625.03" cy="1194.62" r="2.55" fill="#FF0000"/>
<circle cx="587.68" cy="1179.43" r="2.55" fill="#FF0000"/>
<circle cx="569.96" cy="1140.82" r="2.55" fill="#FF0000"/>
<circle cx="570.85" cy="1154.11" r="2.55" fill="#FF0000"/>
<circle cx="570.59" cy="1208.54" r="2.55" fill="#FF0000"/>
<circle cx="509.58" cy="1264.24" r="2.55" fill="#0000FF"/>
<circle cx="513" cy="1255.13" r="2.55" fill="#0000FF"/>
<circle cx="546.54" cy="1206.65" r="2.55" fill="#FF0000"/>
<circle cx="512.37" cy="1285.51" r="2.55" fill="#0000FF"/>
<circle cx="587.37" cy="1333.04" r="2.55" fill="#0000FF"/>
<circle cx="632.62" cy="1226.27" r="2.55" fill="#FF0000"/>
<circle cx="509.2" cy="1219.94" r="2.55" fill="#0000FF"/>
<circle cx="551.61" cy="1174.11" r="2.55" fill="#FF0000"/>
<circle cx="675.19" cy="1342.72" r="2.55" fill="#0000FF"/>
<circle cx="609.2" cy="1158.54" r="2.55" fill="#FF0000"/>
<circle cx="667.66" cy="1309.86" r="2.55" fill="#0000FF"/>
<circle cx="531.35" cy="1215.13" r="2.55" fill="#FF0000"/>
<circle cx="556.42" cy="1143.73" r="2.55" fill="#FF0000"/>
<circle cx="581.35" cy="1148.04" r="2.55" fill="#FF0000"/>
<circle cx="616.8" cy="1165.51" r="2.55" fill="#FF0000"/>
<circle cx="537.43" cy="1254.11" r="2.55" fill="#0000FF"/>
<circle cx="636.42" cy="1218.04" r="2.55" fill="#FF0000"/>
<circle cx="600.97" cy="1212.34" r="2.55" fill="#FF0000"/>
<circle cx="614.27" cy="1208.54" r="2.55" fill="#FF0000"/>
<circle cx="557.3" cy="1254.11" r="2.55" fill="#0000FF"/>
<circle cx="616.16" cy="1288.29" r="2.55" fill="#0000FF"/>
<circle cx="543" cy="1239.94" r="2.55" fill="#0000FF"/>
<circle cx="613" cy="1237.03" r="2.55" fill="#FF0000"/>
<circle cx="530.09" cy="1223.48" r="2.55" fill="#0000FF"/>
<circle cx="579.84" cy="1239.94" r="2.55" fill="#0000FF"/>
<circle cx="676.27" cy="1237.66" r="2.55" fill="#FF0000"/>
<circle cx="597.43" cy="1328.67" r="2.55" fill="#0000FF"/>
<circle cx="691.96" cy="1226.01" r="2.55" fill="#FF0000"/>
<circle cx="581.1" cy="1343.1" r="2.55" fill="#0000FF"/>
<circle cx="628.82" cy="1322.72" r="2.55" fill="#0000FF"/>
<circle cx="477.18" cy="1219.94" r="2.55" fill="#0000FF"/>
<circle cx="544.27" cy="1230.7" r="2.55" fill="#FF0000"/>
<circle cx="513" cy="1322.72" r="2.55" fill="#FF0000"/>
<circle cx="610.85" cy="1212.34" r="2.55" fill="#FF0000"/>
<circle cx="575.03" cy="1235.13" r="2.55" fill="#FF0000"/>
<circle cx="647.81" cy="1222.47" r="2.55" fill="#FF0000"/>
<circle cx="589.27" cy="1348.8" r="2.55" fill="#0000FF"/>
<circle cx="638.95" cy="1229.43" r="2.55" fill="#FF0000"/>
<circle cx="671.71" cy="1209.86" r="2.55" fill="#FF0000"/>
<circle cx="629.46" cy="1218.04" r="2.55" fill="#0000FF"/>
<circle cx="556.04" cy="1261.96" r="2.55" fill="#FF0000"/>
<circle cx="553.13" cy="1178.16" r="2.55" fill="#FF0000"/>
<circle cx="618.7" cy="1203.48" r="2.55" fill="#FF0000"/>
<circle cx="547.18" cy="1323.48" r="2.55" fill="#0000FF"/>
<circle cx="544.65" cy="1145.51" r="2.55" fill="#FF0000"/>
<circle cx="600.09" cy="1355.82" r="2.55" fill="#0000FF"/>
<circle cx="635.78" cy="1191.46" r="2.55" fill="#FF0000"/>
<circle cx="682.34" cy="1223.73" r="2.55" fill="#FF0000"/>
<circle cx="520.59" cy="1322.22" r="2.55" fill="#0000FF"/>
<circle cx="562.37" cy="1281.96" r="2.55" fill="#0000FF"/>
<circle cx="590.85" cy="1146.52" r="2.55" fill="#FF0000"/>
<circle cx="670.06" cy="1333.84" r="2.55" fill="#0000FF"/>
<circle cx="687.41" cy="1234.62" r="2.55" fill="#FF0000"/>
<circle cx="603.51" cy="1292.09" r="2.55" fill="#0000FF"/>
<circle cx="604.52" cy="1223.1" r="2.55" fill="#FF0000"/>
<circle cx="554.77" cy="1151.84" r="2.55" fill="#FF0000"/>
<circle cx="519.96" cy="1256.01" r="2.55" fill="#0000FF"/>
<circle cx="637.68" cy="1241.46" r="2.55" fill="#0000FF"/>
<circle cx="509.2" cy="1316.77" r="2.55" fill="#FF0000"/>
<circle cx="664.08" cy="1344.77" r="2.55" fill="#0000FF"/>
<circle cx="499.46" cy="1243.99" r="2.55" fill="#0000FF"/>
<circle cx="478.82" cy="1225" r="2.55" fill="#0000FF"/>
<circle cx="598.19" cy="1260.44" r="2.55" fill="#FF0000"/>
<circle cx="653.13" cy="1272.85" r="2.55" fill="#FF0000"/>
<circle cx="550.34" cy="1312.09" r="2.55" fill="#0000FF"/>
<circle cx="582.62" cy="1332.09" r="2.55" fill="#0000FF"/>
<circle cx="550.34" cy="1245.25" r="2.55" fill="#0000FF"/>
<circle cx="661.1" cy="1264.87" r="2.55" fill="#0000FF"/>
<circle cx="678.49" cy="1238.67" r="2.55" fill="#FF0000"/>
<circle cx="583.89" cy="1194.62" r="2.55" fill="#FF0000"/>
<circle cx="549.08" cy="1226.52" r="2.55" fill="#FF0000"/>
<circle cx="554.14" cy="1302.47" r="2.55" fill="#0000FF"/>
<circle cx="527.56" cy="1201.58" r="2.55" fill="#FF0000"/>
<circle cx="550.34" cy="1295.25" r="2.55" fill="#0000FF"/>
<circle cx="615.53" cy="1273.1" r="2.55" fill="#0000FF"/>
<circle cx="610.47" cy="1208.54" r="2.55" fill="#FF0000"/>
<circle cx="551.61" cy="1198.16" r="2.55" fill="#FF0000"/>
<circle cx="685.38" cy="1205.51" r="2.55" fill="#FF0000"/>
<circle cx="577.18" cy="1280.7" r="2.55" fill="#0000FF"/>
<circle cx="535.41" cy="1206.01" r="2.55" fill="#FF0000"/>
<circle cx="507.3" cy="1270.57" r="2.55" fill="#0000FF"/>
<circle cx="562.37" cy="1259.18" r="2.55" fill="#FF0000"/>
<circle cx="600.34" cy="1177.15" r="2.55" fill="#FF0000"/>
<circle cx="599.33" cy="1340.63" r="2.55" fill="#0000FF"/>
<circle cx="512.62" cy="1249.43" r="2.55" fill="#FF0000"/>
<circle cx="560.22" cy="1259.43" r="2.55" fill="#0000FF"/>
<circle cx="554.77" cy="1299.68" r="2.55" fill="#0000FF"/>
<circle cx="492.49" cy="1239.94" r="2.55" fill="#0000FF"/>
<circle cx="511.1" cy="1238.04" r="2.55" fill="#0000FF"/>
<circle cx="482.62" cy="1222.47" r="2.55" fill="#0000FF"/>
<circle cx="499.46" cy="1196.77" r="2.55" fill="#0000FF"/>
<circle cx="514.65" cy="1236.65" r="2.55" fill="#0000FF"/>
<circle cx="550.09" cy="1315.13" r="2.55" fill="#0000FF"/>
<circle cx="538.95" cy="1235.76" r="2.55" fill="#0000FF"/>
<circle cx="565.28" cy="1297.78" r="2.55" fill="#0000FF"/>
<circle cx="656.42" cy="1216.39" r="2.55" fill="#FF0000"/>
<circle cx="583.51" cy="1219.3" r="2.55" fill="#FF0000"/>
<circle cx="518.7" cy="1190.57" r="2.55" fill="#FF0000"/>
<circle cx="549.08" cy="1198.42" r="2.55" fill="#FF0000"/>
<circle cx="547.56" cy="1186.77" r="2.55" fill="#FF0000"/>
<circle cx="509.2" cy="1189.81" r="2.55" fill="#FF0000"/>
<circle cx="537.05" cy="1285.13" r="2.55" fill="#0000FF"/>
<circle cx="592.75" cy="1142.97" r="2.55" fill="#FF0000"/>
<circle cx="669.68" cy="1202.47" r="2.55" fill="#FF0000"/>
<circle cx="576.29" cy="1322.47" r="2.55" fill="#0000FF"/>
<circle cx="575.66" cy="1141.71" r="2.55" fill="#FF0000"/>
<circle cx="616.8" cy="1321.84" r="2.55" fill="#0000FF"/>
<circle cx="665.79" cy="1331.61" r="2.55" fill="#0000FF"/>
<circle cx="670.19" cy="1315.13" r="2.55" fill="#0000FF"/>
<circle cx="539.96" cy="1214.87" r="2.55" fill="#FF0000"/>
<circle cx="575.41" cy="1209.18" r="2.55" fill="#FF0000"/>
<circle cx="604.77" cy="1154.37" r="2.55" fill="#FF0000"/>
<circle cx="650.92" cy="1344.09" r="2.55" fill="#0000FF"/>
<circle cx="591.1" cy="1196.9" r="2.55" fill="#FF0000"/>
<circle cx="639.58" cy="1255.13" r="2.55" fill="#FF0000"/>
<circle cx="549.08" cy="1178.8" r="2.55" fill="#FF0000"/>
<circle cx="524.14" cy="1338.73" r="2.55" fill="#0000FF"/>
<circle cx="636.42" cy="1194.37" r="2.55" fill="#FF0000"/>
<circle cx="691.46" cy="1228.54" r="2.55" fill="#FF0000"/>
<circle cx="561.73" cy="1138.67" r="2.55" fill="#FF0000"/>
<circle cx="531.35" cy="1275.38" r="2.55" fill="#0000FF"/>
<circle cx="552.24" cy="1181.96" r="2.55" fill="#FF0000"/>
<circle cx="655.03" cy="1344.43" r="2.55" fill="#0000FF"/>
<circle cx="474.39" cy="1222.22" r="2.55" fill="#0000FF"/>
<circle cx="613.63" cy="1274.37" r="2.55" fill="#0000FF"/>
<circle cx="658.19" cy="1290.57" r="2.55" fill="#0000FF"/>
<circle cx="487.68" cy="1234.11" r="2.55" fill="#FF0000"/>
<circle cx="589.58" cy="1182.59" r="2.55" fill="#FF0000"/>
<circle cx="578.44" cy="1331.14" r="2.55" fill="#0000FF"/>
<circle cx="670.41" cy="1344.43" r="2.55" fill="#0000FF"/>
<circle cx="549.39" cy="1328.29" r="2.55" fill="#0000FF"/>
<circle cx="531.99" cy="1219.3" r="2.55" fill="#FF0000"/>
<circle cx="678.29" cy="1233.91" r="2.55" fill="#FF0000"/>
<circle cx="687.61" cy="1210.27" r="2.55" fill="#FF0000"/>
<circle cx="483.89" cy="1225.25" r="2.55" fill="#0000FF"/>
<circle cx="532.37" cy="1242.72" r="2.55" fill="#0000FF"/>
<circle cx="604.46" cy="1329.24" r="2.55" fill="#0000FF"/>
<circle cx="567.43" cy="1148.42" r="2.55" fill="#FF0000"/>
<circle cx="581.73" cy="1180.7" r="2.55" fill="#FF0000"/>
<circle cx="510.85" cy="1263.35" r="2.55" fill="#0000FF"/>
<circle cx="522.49" cy="1242.72" r="2.55" fill="#FF0000"/>
<circle cx="590.22" cy="1211.33" r="2.55" fill="#FF0000"/>
<circle cx="516.16" cy="1220.57" r="2.55" fill="#0000FF"/>
<circle cx="678.8" cy="1190.11" r="2.55" fill="#FF0000"/>
<circle cx="627.81" cy="1188.92" r="2.55" fill="#FF0000"/>
<circle cx="664.92" cy="1298.11" r="2.55" fill="#0000FF"/>
<circle cx="599.96" cy="1264.24" r="2.55" fill="#FF0000"/>
<circle cx="667.66" cy="1268.54" r="2.55" fill="#0000FF"/>
<circle cx="618.7" cy="1287.28" r="2.55" fill="#0000FF"/>
<circle cx="524.71" cy="1333.99" r="2.55" fill="#0000FF"/>
<circle cx="654.14" cy="1245.89" r="2.55" fill="#FF0000"/>
<circle cx="596.54" cy="1224.37" r="2.55" fill="#FF0000"/>
<circle cx="573.76" cy="1272.85" r="2.55" fill="#0000FF"/>
<circle cx="517.11" cy="1328.29" r="2.55" fill="#0000FF"/>
<circle cx="638.95" cy="1197.15" r="2.55" fill="#FF0000"/>
<circle cx="680.32" cy="1202.16" r="2.55" fill="#FF0000"/>
<circle cx="589.33" cy="1252.22" r="2.55" fill="#0000FF"/>
<circle cx="656.04" cy="1304.11" r="2.55" fill="#0000FF"/>
<circle cx="560.47" cy="1218.04" r="2.55" fill="#FF0000"/>
<circle cx="618.7" cy="1168.67" r="2.55" fill="#FF0000"/>
<circle cx="585.15" cy="1223.1" r="2.55" fill="#FF0000"/>
<circle cx="537.05" cy="1215.13" r="2.55" fill="#FF0000"/>
<circle cx="591.1" cy="1150.06" r="2.55" fill="#FF0000"/>
<circle cx="661.1" cy="1300.95" r="2.55" fill="#0000FF"/>
<circle cx="559.84" cy="1285.13" r="2.55" fill="#0000FF"/>
<circle cx="676.77" cy="1286.57" r="2.55" fill="#FF0000"/>
<circle cx="588.32" cy="1300.95" r="2.55" fill="#FF0000"/>
<circle cx="670.39" cy="1241" r="2.55" fill="#FF0000"/>
<circle cx="524.39" cy="1313.86" r="2.55" fill="#FF0000"/>
<circle cx="559.2" cy="1193.99" r="2.55" fill="#FF0000"/>
<circle cx="628.19" cy="1214.87" r="2.55" fill="#0000FF"/>
<circle cx="562.37" cy="1221.84" r="2.55" fill="#FF0000"/>
<circle cx="535.78" cy="1273.73" r="2.55" fill="#0000FF"/>
<circle cx="594.01" cy="1226.9" r="2.55" fill="#FF0000"/>
<circle cx="580.72" cy="1208.29" r="2.55" fill="#0000FF"/>
<circle cx="553.13" cy="1237.66" r="2.55" fill="#FF0000"/>
<circle cx="661.1" cy="1259.81" r="2.55" fill="#FF0000"/>
<circle cx="613.63" cy="1253.48" r="2.55" fill="#0000FF"/>
<circle cx="617.68" cy="1249.68" r="2.55" fill="#FF0000"/>
<circle cx="664.94" cy="1337.94" r="2.55" fill="#0000FF"/>
<circle cx="646.8" cy="1285.51" r="2.55" fill="#0000FF"/>
<circle cx="649.08" cy="1272.47" r="2.55" fill="#FF0000"/>
<circle cx="557.94" cy="1270.82" r="2.55" fill="#0000FF"/>
<circle cx="625.03" cy="1216.39" r="2.55" fill="#0000FF"/>
<circle cx="508.57" cy="1332.09" r="2.55" fill="#0000FF"/>
<circle cx="550.97" cy="1267.78" r="2.55" fill="#0000FF"/>
<circle cx="643.38" cy="1201.58" r="2.55" fill="#FF0000"/>
<circle cx="589.33" cy="1229.81" r="2.55" fill="#0000FF"/>
<circle cx="552.62" cy="1239.56" r="2.55" fill="#0000FF"/>
<circle cx="541.48" cy="1183.61" r="2.55" fill="#FF0000"/>
<circle cx="514.27" cy="1288.54" r="2.55" fill="#0000FF"/>
<circle cx="609.2" cy="1278.16" r="2.55" fill="#0000FF"/>
<circle cx="516.8" cy="1255.63" r="2.55" fill="#0000FF"/>
<circle cx="531.1" cy="1269.05" r="2.55" fill="#0000FF"/>
<circle cx="606.67" cy="1290.57" r="2.55" fill="#0000FF"/>
<circle cx="537.05" cy="1251.58" r="2.55" fill="#0000FF"/>
<circle cx="586.8" cy="1197.78" r="2.55" fill="#FF0000"/>
<circle cx="506.67" cy="1274.75" r="2.55" fill="#0000FF"/>
<circle cx="511.42" cy="1334.94" r="2.55" fill="#0000FF"/>
<circle cx="596.54" cy="1304.11" r="2.55" fill="#FF0000"/>
<circle cx="616.16" cy="1319.3" r="2.55" fill="#0000FF"/>
<circle cx="547.81" cy="1319.3" r="2.55" fill="#0000FF"/>
<circle cx="661.1" cy="1202.22" r="2.55" fill="#FF0000"/>
<circle cx="596.54" cy="1230.06" r="2.55" fill="#FF0000"/>
<circle cx="596.86" cy="1344.43" r="2.55" fill="#0000FF"/>
<circle cx="659.2" cy="1190.19" r="2.55" fill="#FF0000"/>
<circle cx="526.29" cy="1178.16" r="2.55" fill="#FF0000"/>
<circle cx="578.44" cy="1152.22" r="2.55" fill="#FF0000"/>
<circle cx="557.3" cy="1226.52" r="2.55" fill="#FF0000"/>
<circle cx="693.99" cy="1220.7" r="2.55" fill="#FF0000"/>
<circle cx="593.38" cy="1279.68" r="2.55" fill="#0000FF"/>
<circle cx="559.84" cy="1151.33" r="2.55" fill="#FF0000"/>
<circle cx="606.92" cy="1329.81" r="2.55" fill="#0000FF"/>
<circle cx="491.48" cy="1203.48" r="2.55" fill="#FF0000"/>
<circle cx="511.42" cy="1329.24" r="2.55" fill="#0000FF"/>
<circle cx="606.04" cy="1279.18" r="2.55" fill="#0000FF"/>
<circle cx="518.7" cy="1202.22" r="2.55" fill="#FF0000"/>
<circle cx="656.42" cy="1186.77" r="2.55" fill="#FF0000"/>
<circle cx="674.75" cy="1287.78" r="2.55" fill="#0000FF"/>
<circle cx="616.8" cy="1261.08" r="2.55" fill="#0000FF"/>
<circle cx="585.15" cy="1250.32" r="2.55" fill="#0000FF"/>
<circle cx="644.65" cy="1276.65" r="2.55" fill="#0000FF"/>
<circle cx="546.16" cy="1328.29" r="2.55" fill="#0000FF"/>
<circle cx="545.28" cy="1223.1" r="2.55" fill="#0000FF"/>
<circle cx="504.77" cy="1188.92" r="2.55" fill="#FF0000"/>
<circle cx="563.63" cy="1353.92" r="2.55" fill="#0000FF"/>
<circle cx="650.34" cy="1221.84" r="2.55" fill="#FF0000"/>
<circle cx="652.24" cy="1293.99" r="2.55" fill="#0000FF"/>
<circle cx="626.92" cy="1210.82" r="2.55" fill="#FF0000"/>
<circle cx="593.13" cy="1296.52" r="2.55" fill="#FF0000"/>
<circle cx="675.19" cy="1335.89" r="2.55" fill="#0000FF"/>
<circle cx="541.73" cy="1236.65" r="2.55" fill="#FF0000"/>
<circle cx="657.68" cy="1242.09" r="2.55" fill="#FF0000"/>
<circle cx="530.72" cy="1202.85" r="2.55" fill="#FF0000"/>
<circle cx="676.9" cy="1341.87" r="2.55" fill="#0000FF"/>
<circle cx="475.66" cy="1220.57" r="2.55" fill="#0000FF"/>
<path d="M72.7,824.8H74.9V826.27H77.1V827.49H79.3V828.46H81.5V829.43H83.7V830.45H85.9V831.53H88.1V832.62H90.3V833.71H92.5V834.8H94.7V835.89H96.9V836.98H99.1V838.07H101.3V839.16H103.5V840.54H105.7V842.92H107.9V845.3H110.1V847.68H112.3V850.07H114.5V852.45H116.7V854.83H118.9V857.21H121.1V858.95H123.3V860.05H125.5V861.15H127.7V862.25H129.9V863.35H132.1V864.45H134.3V865.55H136.5V866.77H138.7V868.07H140.9V869.38H143.1V870.68H145.3V871.98H147.5V873.28H149.7V874.59H151.9V876.02H154.1V877.51H156.3V879H158.5V880.5H160.7V881.99H162.9V883.48H165.1V884.97H167.3V886.47H169.5V887.96H171.7V888.25H173.9V888.18H176.1V888.12H178.3V888.05H180.5V888.2H182.7V889.1H184.9V889.99H187.1V890.89H189.3V891.78H191.5V892.68H193.7V893.57H195.9V894.46H198.1V895.36H200.3V896.25H202.5V897.15H204.7V898.04H206.9V898.94H209.1V899.83H211.3V900.71H213.5V901.56H215.7V902.41H217.9V903.26H220.1V904.11H222.3V904.96H224.5V905.81H226.7V906.24H228.9V906.56H231.1V906.87H233.3V907.19H235.5V907.5H237.7V907.81H239.9V908.33H242.1V909.13H244.3V909.94H246.5V910.74H248.4V913H248.4V913H376.8V913H376.8V892.2H404.9V892.2L404.9,1012.8V1012.8H376.8V968.3H376.8V968.3H313.2V949.5H313.2V949.5H248.4V949.5H248.4V940.57H246.5V939.23H244.3V937.89H242.1V936.55H239.9V935.54H237.7V934.75H235.5V933.96H233.3V933.18H231.1V932.39H228.9V931.61H226.7V930.82H224.5V930.03H222.3V929.24H220.1V928.45H217.9V927.66H215.7V926.88H213.5V926.09H211.3V925.26H209.1V924.41H206.9V923.56H204.7V922.7H202.5V921.85H200.3V921H198.1V920.15H195.9V919.3H193.7V918.45H191.5V917.6H189.3V916.75H187.1V915.9H184.9V915.04H182.7V914.19H180.5V913.76H178.3V913.45H176.1V913.15H173.9V912.84H171.7V912.2H169.5V910.45H167.3V908.7H165.1V906.95H162.9V905.2H160.7V903.45H158.5V901.7H156.3V899.94H154.1V898.19H151.9V896.48H149.7V894.84H147.5V893.21H145.3V891.57H143.1V889.94H140.9V888.3H138.7V886.67H136.5V885.07H134.3V883.52H132.1V881.97H129.9V880.42H127.7V878.87H125.5V877.32H123.3V875.77H121.1V873.71H118.9V871.12H116.7V868.53H114.5V865.94H112.3V863.35H110.1V860.76H107.9V858.18H105.7V855.59H103.5V853.65H101.3V851.91H99.1V850.17H96.9V848.43H94.7V846.64H92.5V844.68H90.3V842.72H88.1V840.76H85.9V838.8H83.7V836.66H81.5V834.4H79.3V832.13H77.1V828.93H74.9V824.8H72.7Z" fill="#FF0000" fill-opacity="0.3"/>
<path d="M72.7,824.8H74.9V824.95H77.1V825.1H79.3V825.26H81.5V825.41H83.7V825.9H85.9V826.88H88.1V827.86H90.3V828.84H92.5V829.82H94.7V830.89H96.9V831.98H99.1V833.07H101.3V834.16H103.5V835.29H105.7V836.59H107.9V837.88H110.1V839.18H112.3V840.47H114.5V841.76H116.7V843.06H118.9V844.35H121.1V845.8H123.3V847.39H125.5V848.98H127.7V850.57H129.9V852.16H132.1V853.76H134.3V855.35H136.5V856.59H138.7V857.59H140.9V858.59H143.1V859.59H145.3V860.58H147.5V861.58H149.7V862.58H151.9V863.6H154.1V864.62H156.3V865.64H158.5V866.66H160.7V867.68H162.9V868.7H165.1V869.72H167.3V870.75H169.5V871.77H171.7V872.14H173.9V872.31H176.1V872.49H178.3V872.66H180.5V872.97H182.7V873.72H184.9V874.47H187.1V875.22H189.3V875.97H191.5V876.72H193.7V877.47H195.9V878.22H198.1V878.97H200.3V879.72H202.5V880.47H204.7V881.22H206.9V881.97H209.1V882.72H211.3V883.46H213.5V884.19H215.7V884.92H217.9V885.65H220.1V886.38H222.3V887.11H224.5V887.83H226.7V888.24H228.9V888.55H231.1V888.87H233.3V889.18H235.5V889.49H237.7V889.81H239.9V890.12H242.1V890.43H244.3V890.74H246.5V891H248.7V891H250.9V891.32H253.1V891.86H255.3V892.39H257.5V892.93H259.7V893.36H261.9V893.54H264.1V893.72H266.3V893.9H268.5V894.08H270.7V894.27H272.9V894.45H275.1V894.63H277.3V894.81H279.5V894.99H281.7V895.17H283.9V895.36H286.1V895.54H288.3V895.72H290.5V895.9H291.7V896H292.3V898H376.8V898L376.8,941V941H292.3V932H291.7V931.93H290.5V931.79H288.3V931.66H286.1V931.52H283.9V931.39H281.7V931.25H279.5V931.12H277.3V930.98H275.1V930.85H272.9V930.72H270.7V930.58H268.5V930.45H266.3V930.31H264.1V930.18H261.9V930.04H259.7V929.2H257.5V928.03H255.3V926.86H253.1V925.69H250.9V923.97H248.7V921.46H246.5V920.74H244.3V920.43H242.1V920.12H239.9V919.81H237.7V919.49H235.5V919.18H233.3V918.87H231.1V918.55H228.9V918.24H226.7V917.78H224.5V916.81H222.3V915.84H220.1V914.87H217.9V913.9H215.7V912.92H213.5V911.95H211.3V910.93H209.1V909.88H206.9V908.82H204.7V907.77H202.5V906.72H200.3V905.66H198.1V904.61H195.9V903.56H193.7V902.5H191.5V901.45H189.3V900.4H187.1V899.35H184.9V898.29H182.7V897.24H180.5V896.73H178.3V896.38H176.1V896.02H173.9V895.67H171.7V895.17H169.5V894.16H167.3V893.15H165.1V892.14H162.9V891.13H160.7V890.12H158.5V889.11H156.3V888.1H154.1V887.09H151.9V885.74H149.7V883.65H147.5V881.57H145.3V879.48H143.1V877.4H140.9V875.32H138.7V873.23H136.5V871.23H134.3V869.35H132.1V867.47H129.9V865.59H127.7V863.7H125.5V861.82H123.3V859.94H121.1V858.19H118.9V856.57H116.7V854.96H114.5V853.34H112.3V851.72H110.1V850.1H107.9V848.49H105.7V846.87H103.5V845.24H101.3V843.6H99.1V841.97H96.9V840.34H94.7V838.62H92.5V836.55H90.3V834.49H88.1V832.42H85.9V830.35H83.7V828.9H81.5V827.87H79.3V826.85H77.1V825.82H74.9V824.8H72.7Z" fill="#0000FF" fill-opacity="0.3"/>
<path d="M72.7,824.8H74.3V826.84H75.9V828.87H77.5V830.1H79.1V831.28H80.7V832.46H82.3V833.63H83.9V834.69H85.5V835.68H87.1V836.68H88.7V837.68H90.3V838.68H91.9V839.68H93.5V840.67H95.1V841.67H96.7V842.67H98.3V843.67H99.9V844.67H101.5V845.66H103.1V846.7H104.7V848.38H106.3V850.06H107.9V851.73H109.5V853.41H111.1V855.08H112.7V856.76H114.3V858.43H115.9V860.11H117.5V861.78H119.1V863.46H120.7V864.89H122.3V866H123.9V867.12H125.5V868.24H127.1V869.35H128.7V870.47H130.3V871.58H131.9V872.7H133.5V873.81H135.1V874.93H136.7V876.5H138.3V878.1H139.9V879.7H141.5V881.3H143.1V882.9H144.7V884.5H146.3V886.1H147.9V887.7H149.5V889.3H151.1V890.53H152.7V891.28H154.3V892.03H155.9V892.78H157.5V893.53H159.1V894.28H160.7V895.03H162.3V895.79H163.9V896.54H165.5V897.29H167.1V898.04H168.7V898.79H170.3V899.51H171.9V900.12H173.5V900.73H175.1V901.34H176.7V901.95H178.3V902.55H179.9V903.16H181.5V903.71H183.1V904.26H184.7V904.8H186.3V905.35H187.9V905.89H189.5V906.44H191.1V906.98H192.7V907.53H194.3V908.08H195.9V908.62H197.5V909.17H199.1V909.71H200.7V910.26H202.3V910.8H203.9V911.35H205.5V911.9H207.1V912.44H208.7V912.99H210.3V913.53H211.9V914.02H213.5V914.51H215.1V915H216.7V915.48H218.3V915.97H219.9V916.45H221.5V916.94H223.1V917.42H224.7V917.91H226.3V918.32H227.9V918.7H229.5V919.09H231.1V919.48H232.7V919.87H234.3V920.26H235.9V920.65H237.5V921.04H239.1V921.44H240.7V922.15H242.3V922.85H243.9V923.55H245.5V924.25H247.1V924.96H248.4V932H312.9V932H313.3V944.8H376.4V944.8H376.8V976.5H404.9V976.5" fill="none" stroke="#FF0000" stroke-width="2.2"/>
<path d="M72.7,824.8H74.3V825.15H75.9V825.5H77.5V825.85H79.1V826.19H80.7V826.54H82.3V826.89H83.9V827.76H85.5V828.87H87.1V829.98H88.7V831.09H90.3V832.2H91.9V833.31H93.5V834.42H95.1V835.52H96.7V836.63H98.3V837.74H99.9V838.85H101.5V839.96H103.1V841.08H104.7V842.36H106.3V843.64H107.9V844.92H109.5V846.2H111.1V847.48H112.7V848.76H114.3V850.04H115.9V851.32H117.5V852.6H119.1V853.88H120.7V855.09H122.3V856.2H123.9V857.32H125.5V858.44H127.1V859.55H128.7V860.67H130.3V861.78H131.9V862.9H133.5V864.01H135.1V865.13H136.7V866.1H138.3V867.06H139.9V868.01H141.5V868.97H143.1V869.93H144.7V870.89H146.3V871.85H147.9V872.8H149.5V873.76H151.1V874.6H152.7V875.29H154.3V875.97H155.9V876.66H157.5V877.34H159.1V878.03H160.7V878.71H162.3V879.4H163.9V880.09H165.5V880.77H167.1V881.46H168.7V882.14H170.3V882.77H171.9V883.12H173.5V883.47H175.1V883.82H176.7V884.17H178.3V884.53H179.9V884.88H181.5V885.42H183.1V885.97H184.7V886.52H186.3V887.07H187.9V887.62H189.5V888.17H191.1V888.72H192.7V889.27H194.3V889.82H195.9V890.37H197.5V890.92H199.1V891.48H200.7V892.03H202.3V892.58H203.9V893.13H205.5V893.68H207.1V894.23H208.7V894.78H210.3V895.33H211.9V896.04H213.5V896.77H215.1V897.49H216.7V898.22H218.3V898.95H219.9V899.68H221.5V900.41H223.1V901.14H224.7V901.86H226.3V902.18H227.9V902.41H229.5V902.64H231.1V902.87H232.7V903.09H234.3V903.32H235.9V903.55H237.5V903.78H239.1V904H240.7V904.23H242.3V904.46H243.9V904.69H245.5V904.91H247.1V906.34H248.7V908.49H250.3V910.05H251.9V910.85H253.5V911.65H255.1V912.45H256.7V913.25H258.3V914.05H259.9V914.4H261.5V914.4H263.1V914.4H264.7V914.4H266.3V914.4H267.9V914.4H269.5V914.4H271.1V914.4H272.7V914.4H274.3V914.4H275.9V914.4H277.5V914.4H279.1V914.4H280.7V914.4H282.3V914.4H283.9V914.4H285.5V914.4H287.1V914.4H288.7V914.4H290.3V914.4H291.7V914.4H292.6V921.4H378.6V921.4" fill="none" stroke="#0000FF" stroke-width="2.2"/>
<path d="M74.5,822.55v5.29M75.73,822.34v6.24M76.84,822.75v5.9M78.36,823.77v4.52M80.07,824.18v4.46M81.68,824.48v4.55M82.82,824.23v5.58M84.97,826.15v4.71M86.29,826.34v6.17M88.6,828.01v6.02M90.16,828.51v7.18M91.24,829.43v6.84M92.66,831.45v4.77M93.84,832.03v5.24M95.97,833.69v4.87M97.78,834.28v6.2M99.31,835.47v5.94M100.41,836.94v4.52M101.71,836.95v6.32M103.31,838.62v5.26M105.13,839.87v5.66M106.56,840.52v6.65M108.53,842.89v5.06M110.33,843.93v5.87M112.54,845.4v6.47M113.95,846.16v7.19M115.13,847.92v5.56M117.18,849.95v4.79M118.87,851.46v4.46M120.79,851.87v6.57M122.59,852.96v6.89M124.04,854.23v6.37M125.87,855.68v6.03M127.51,856.44v6.79M129.81,858.58v5.72M131.74,860.52v4.53M133.71,861.05v6.23M136.08,862.36v6.73M137.49,863.84v5.47M139.42,865.52v4.42M141.07,866.29v4.84M142.25,867.16v4.52M144.31,868.29v4.73M145.67,868.72v5.48M147.87,870.49v4.58M149.5,870.79v5.94M151.72,871.5v6.73M153.92,873.23v5.16M155.5,873.79v5.39M157.73,873.88v7.13M158.95,875.53v4.86M160.29,876.02v5.03M161.97,876.23v6.06M163.34,877.67v4.36M164.93,877.82v5.42M166.72,877.74v7.11M168.68,879.21v5.84M170.54,879.66v6.31M171.64,879.58v6.96M173.72,880.07v6.89M175.82,881.24v5.49M177.39,882v4.65M179.27,882.47v4.53M180.38,882.55v4.96M181.62,882.79v5.34M182.71,883.66v4.35M183.94,883.93v4.64M185.45,884.56v4.42M187.66,884.47v6.13M188.88,885.42v5.08M190.38,885.77v5.41M191.56,885.47v6.81M193.93,886.85v5.7M195.61,887.97v4.6M196.77,888v5.34M198.15,887.77v6.75M199.39,889.37v4.42M201.7,889.43v5.88M202.92,889.83v5.93M203.98,890.21v5.88M206.33,890.54v6.85M208.3,892.09v5.11M209.82,892.75v4.83M211.89,893.08v5.89M213.96,894.32v5.31M215.29,894.23v6.7M217.65,895.24v6.82M219.76,896.26v6.72M221.79,898.04v5.01M223.51,898.63v5.38M224.57,899.59v4.43M225.97,899.59v5.1M227.94,898.86v7.12M229.56,899.12v7.07M231.93,899.43v7.12M233.44,900.71v4.99M234.77,900.93v4.92M236.07,900.49v6.16M238.31,900.5v6.79M239.99,901.01v6.24M242.09,902.13v4.6M244.01,901.21v6.99M246.1,901.74v6.53M247.77,904.8v4.87M249.86,907.17v5.31M251.97,907.3v7.17M253.53,908.91v5.51M255.83,909.59v6.45M257.09,911.08v4.72" stroke="#0000FF" stroke-width="1.3" fill="none"/>
<path d="M74,820.9v6.6M71.4,824.2h5.2M266,911.1v6.6M263.4,914.4h5.2M270,911.1v6.6M267.4,914.4h5.2M273,911.1v6.6M270.4,914.4h5.2M277,911.1v6.6M274.4,914.4h5.2M286,911.1v6.6M283.4,914.4h5.2M298,918.1v6.6M295.4,921.4h5.2M306,918.1v6.6M303.4,921.4h5.2M310,918.1v6.6M307.4,921.4h5.2M314,918.1v6.6M311.4,921.4h5.2M324,918.1v6.6M321.4,921.4h5.2M330,918.1v6.6M327.4,921.4h5.2M337,918.1v6.6M334.4,921.4h5.2M341,918.1v6.6M338.4,921.4h5.2M345,918.1v6.6M342.4,921.4h5.2M365,918.1v6.6M362.4,921.4h5.2M378.4,918.1v6.6M375.8,921.4h5.2" stroke="#0000FF" stroke-width="1.8" fill="none"/>
<path d="M74.5,823.6v6.97M76.62,827.07v4.77M78.76,827.43v7.19M80.67,829.75v5.37M82.44,831.37v4.73M83.48,830.84v7.17M85.38,832.67v5.88M87.67,834.24v5.61M89.88,835.04v6.75M91.19,836.69v5.08M92.6,837.59v5.05M94.42,838.7v5.1M96.01,839.88v4.73M98.27,840.96v5.38M99.91,841.65v6.04M102.16,843.29v5.57M104.43,845.2v5.8M106.17,846.99v5.87M107.22,848.2v5.63M108.49,850.17v4.36M110.6,852.13v4.85M112.26,853.07v6.45M114.04,855.51v5.3M115.76,856.98v5.96M117.85,859.82v4.66M119.63,861.48v5.07M121.03,861.82v6.59M122.74,863.32v5.98M124.79,864.24v7M126.41,865.81v6.13M128.12,867.15v5.84M130.08,868.6v5.66M131.83,869.78v5.74M134.13,871.06v6.38M136.34,872.6v7.08M137.71,874.53v5.97M140.02,876.42v6.79M141.22,878.67v4.7M142.84,880.36v4.56M144.19,881.71v4.56M146.12,882.61v6.62M148.36,885.76v4.8M150.36,887.02v6.26M151.57,887.29v6.91M153.91,889.35v4.99M156.22,890.18v5.5M157.9,890.11v7.22M160.06,892.32v4.82M161.66,892.56v5.85M163.14,893.72v4.92M164.6,893.64v6.44M165.64,894.38v5.96M167.26,895.91v4.4M168.73,895.73v6.16M170.45,897.3v4.54M172.81,897.15v6.64M175.15,899.03v4.65M176.53,899.65v4.46M178.61,900.11v5.13M179.81,900.34v5.57M182.07,900.54v6.73M183.44,901.98v4.78M185.71,902.14v6M187.68,903.51v4.61M188.78,903.02v6.35M190.38,904.46v4.56M192.68,904.43v6.19M194.79,905.95v4.59M196.97,906.71v4.54M199.16,906.9v5.67M200.64,907.26v5.95M202.93,908.45v5.13M204.12,908.49v5.88M205.47,909.55v4.67M206.7,910.06v4.5M208,910.12v5.25M209.43,909.96v6.55M210.85,910.81v5.8M212.11,911.41v5.36M213.15,911.87v5.08M214.2,911.48v6.48M215.97,912.81v4.9M217.63,912.23v7.06M218.8,912.75v6.72M220.4,913.71v5.79M222.56,914.51v5.49M224.27,914.61v6.34M226.62,915.72v5.34M228.78,915.72v6.4M230.66,916.61v5.52M232.15,917.48v4.51M233.35,917.75v4.56M235.38,917.97v5.09M236.62,918.52v4.6M238.78,917.91v6.87M240.72,919.57v5.17M242.06,920.15v5.2M243.71,921.06v4.81M245.34,921.62v5.11" stroke="#FF0000" stroke-width="1.3" fill="none"/>
<path d="M253,928.7v6.6M250.4,932h5.2M258,928.7v6.6M255.4,932h5.2M262,928.7v6.6M259.4,932h5.2M266,928.7v6.6M263.4,932h5.2M273,928.7v6.6M270.4,932h5.2M279,928.7v6.6M276.4,932h5.2M284,928.7v6.6M281.4,932h5.2M289,928.7v6.6M286.4,932h5.2M303,928.7v6.6M300.4,932h5.2M306,928.7v6.6M303.4,932h5.2M318,941.5v6.6M315.4,944.8h5.2M326,941.5v6.6M323.4,944.8h5.2M339,941.5v6.6M336.4,944.8h5.2M343,941.5v6.6M340.4,944.8h5.2M348,941.5v6.6M345.4,944.8h5.2M389,973.2v6.6M386.4,976.5h5.2" stroke="#FF0000" stroke-width="1.8" fill="none"/>
<line x1="469" y1="1041.2" x2="757.5" y2="800.3" stroke="#111" stroke-width="1.2" stroke-dasharray="3.5,2.9"/>
<path d="M479.2,1032.7 L479.3,1026 L482.2,1026 L484.7,1012.8 L494.8,1012.8 L495.3,1002.7 L495.8,993.3 L499.8,993.3 L500.4,980 L508,980 L508.3,973.8 L515.6,973.8 L516.1,966.7 L536.8,966.7 L537,960 L553.4,960 L553.4,946.6 L560.4,946.6 L560.4,940.3 L563.5,940.3 L563.5,933.3 L568,933.3 L568,920.6 L571.8,920.6 L571.8,908 L581.3,908 L581.3,901 L592.7,901 L592.7,894 L602.2,894 L602.2,887.7 L643,887.7 L643,881.5 L655.4,881.5 L655.4,868.4 L673,868.4 L674.5,865.5 L681.8,865.5 L682,848.6 L686.8,848.6 L694.5,848.6 L695.8,835.4 L703.3,835.4 L703.3,828.4 L727.2,828.4 L728,821.7 L737,821.7 L737.4,811.5 L737.6,808.9 L748,808.9" fill="none" stroke="#00FF00" stroke-width="1.7" stroke-linejoin="miter"/>
<path d="M479.2,1032.7 L480.1,1027 L483.2,1027 L485.2,1016.8 L486.7,1013.8 L490.8,1013.8 L494.3,1010.8 L494.8,1006.7 L496.3,1001.6 L500.4,995.6 L506.5,992.5 L510.5,988.5 L516.6,980.4 L524.7,979.9 L526.7,977.3 L531.8,974.3 L536.8,972.3 L539.9,968.7 L540.9,967.5 L556.6,967.5 L556.6,961.1 L563.5,961.1 L564.2,949.1 L570.5,949.1 L571.8,943.4 L573.7,939 L575.6,936.5 L584.4,936.5 L585.7,927.6 L592.7,927.6 L595.8,918.1 L602.8,918.1 L604.7,911.8 L610.4,910.5 L612.9,905.4 L622.4,905.3 L624,900.8 L627.6,896.2 L635.7,895.2 L636.2,889.6 L643.8,889.6 L644.3,883.5 L652.9,883 L654.4,874.4 L668.6,874.4 L671.6,870.4 L672.7,864.8 L674.7,861.8 L680.8,861.3 L681.3,855.2 L687.3,855.2 L689.9,851.6 L693.5,843.4 L701.5,843.4 L702,837.2 L714.8,837.2 L716.6,833.7 L719.2,832.8 L725,827.5 L729,823 L736.1,821.3 L736.5,808.9 L748,808.9" fill="none" stroke="#0000FF" stroke-width="1.7" stroke-linejoin="miter"/>
<path d="M479.2,1032.7 L484.2,1028 L486.7,1018.9 L489.2,1010.8 L491.8,1010.8 L494.3,1005.2 L498.4,1002.7 L502.4,997.6 L507,988 L510.5,986 L514.6,981.9 L518.6,980.4 L521.6,978.9 L523.7,971.8 L525.7,971.3 L526.7,965.7 L533.8,964.7 L536.3,960.1 L553.4,959.4 L554.7,956.1 L560.4,953.5 L564.2,942.2 L568,939 L573.7,935.2 L580.6,932.7 L584.4,932 L584.4,925.1 L588.2,924.4 L593.3,913 L600.9,912.4 L601.5,907.3 L605.9,904.2 L611,901 L618.6,898.5 L620,898.2 L622,892.7 L625.6,889.6 L631.1,888.6 L632,881 L640.8,881 L641.3,877 L645.8,875.4 L650.4,867.3 L655.4,866.8 L656,865.3 L665.6,864.8 L667.1,862.8 L669.6,859.7 L672.7,857.7 L679.2,857.7 L680,851.6 L686.3,850.6 L687.3,848.1 L689.9,847.1 L691.4,842 L692.2,840.3 L701.5,840.3 L702,836.3 L714.4,836.3 L714.8,830.6 L718.8,826.6 L725,826.6 L725.9,821.7 L728.1,820.8 L734.7,820.4 L735.6,811.1 L737.4,808.9 L748,808.9" fill="none" stroke="#FF0000" stroke-width="1.7" stroke-linejoin="miter"/>
<line x1="592" y1="996" x2="615.9" y2="996" stroke="#00FF00" stroke-width="1.7"/>
<line x1="592" y1="1011.1" x2="615.9" y2="1011.1" stroke="#0000FF" stroke-width="1.7"/>
<line x1="592" y1="1026.4" x2="615.9" y2="1026.4" stroke="#FF0000" stroke-width="1.7"/>
<text transform="translate(627.3,1000.7) scale(0.9396,1)" font-family="'Liberation Sans', sans-serif" font-size="13.571" fill="#000">AUC at 1 years: 0.656</text>
<text transform="translate(627.3,1015.9) scale(0.9401,1)" font-family="'Liberation Sans', sans-serif" font-size="13.571" fill="#000">AUC at 2 years: 0.601</text>
<text transform="translate(627.3,1031) scale(0.9396,1)" font-family="'Liberation Sans', sans-serif" font-size="13.571" fill="#000">AUC at 3 years: 0.585</text>
</svg></body></html>
